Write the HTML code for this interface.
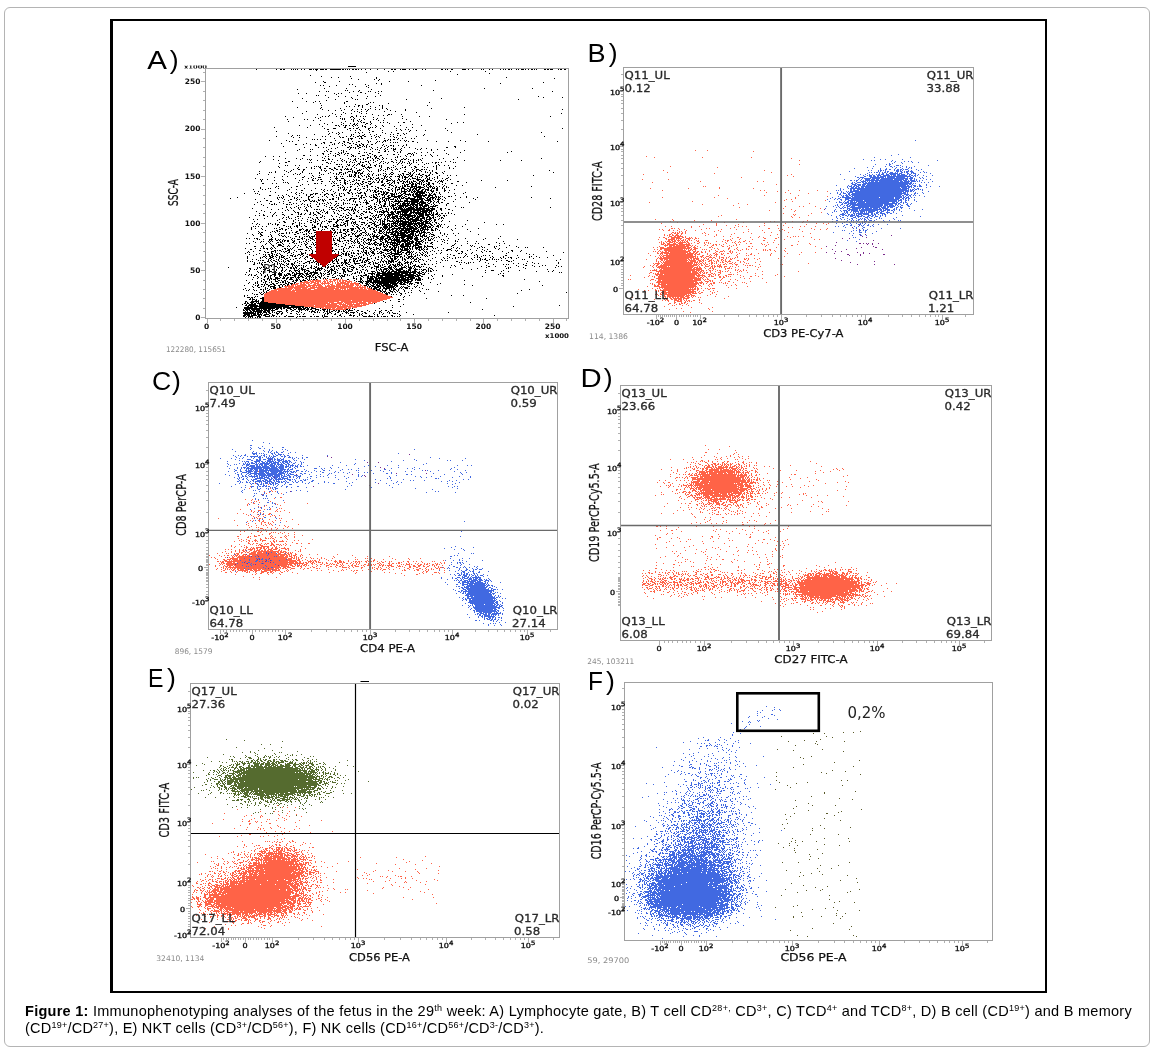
<!DOCTYPE html>
<html><head><meta charset="utf-8"><title>Figure 1</title><style>
html,body{margin:0;padding:0;background:#fff;width:1152px;height:1051px;overflow:hidden}
.ob{position:absolute;left:4px;top:7px;width:1144px;height:1038px;border:1px solid #b4b4b4;border-radius:6px}
svg{position:absolute;left:0;top:0}
.cap{position:absolute;left:25px;white-space:nowrap;font-family:'Liberation Sans',Arial,sans-serif;font-size:14.5px;line-height:17px;color:#000}
.cap sup{font-size:9px;vertical-align:0;position:relative;top:-5px;line-height:0}
</style></head><body>
<div class="ob"></div>
<svg width="1152" height="1051" viewBox="0 0 1152 1051" shape-rendering="crispEdges">
<rect x="110" y="19" width="937" height="974" fill="#000"/><rect x="113" y="21" width="932" height="970" fill="#fff"/>
<path d="M256 69.5h1m19 0h1m3 0h2m1 0h2m6 0h1m1 0h1m1 0h1m1 0h1m3 0h1m2 0h1m4 0h3m1 0h1m1 0h3m2 0h4m1 0h2m3 0h11m1 0h2m1 0h1m1 0h1m1 0h1m2 0h2m1 0h2m1 0h1m2 0h1m3 0h1m4 0h1m6 0h1m6 0h1m6 0h2m1 0h2m4 0h1m1 0h4m3 0h1m3 0h1m1 0h2m5 0h1m2 0h1m15 0h2m2 0h1m1 0h1m3 0h2m9 0h4m2 0h1m3 0h1m8 0h1m1 0h1m5 0h1m2 0h1m7 0h1m2 0h1m1 0h1m2 0h2m1 0h1m4 0h1m1 0h1m2 0h3m1 0h1m2 0h1m2 0h2m1 0h1m1 0h1m7 0h2m1 0h2m1 0h3m5 0h1m1 0h2m2 0h2M316 70.5h1M388 71.5h1m4 0h1m56 0h1m34 0h1M366 72.5h1M489 73.5h1M457 74.5h1M310 75.5h1M321 76.5h1m28 0h1M331 77.5h1m6 0h1m37 0h1m129 0h1M351 78.5h1m24 0h1m177 0h1M358 79.5h1m15 0h1m4 0h1M378 80.5h1m56 0h1M323 81.5h1m15 0h1m49 0h1m18 0h1M315 82.5h1m8 0h2m217 0h1M376 83.5h1m4 0h1m118 0h1M349 84.5h1m2 0h1m12 0h1m15 0h1M320 85.5h1m2 0h1m12 0h1m31 0h1m52 0h1M329 86.5h1m25 0h1m10 0h1M368 87.5h1M324 88.5h1m21 0h1m137 0h1m47 0h1M297 89.5h1m73 0h1M345 90.5h1m1 0h1m11 0h1m73 0h1M319 91.5h1m6 0h1m1 0h1m24 0h1m4 0h1m9 0h1m1 0h1m7 0h1m2 0h1m170 0h1M349 92.5h1m10 0h2m13 0h1M298 93.5h1m7 0h1m27 0h1m3 0h1m2 0h1m23 0h1m12 0h1M336 94.5h1M316 95.5h1m1 0h1m6 0h1m31 0h1m22 0h1M338 96.5h1m6 0h1m21 0h1m7 0h1m162 0h1M328 97.5h1m22 0h1m191 0h1m18 0h1M302 98.5h1m49 0h1m13 0h1m74 0h1M335 99.5h1m19 0h1m1 0h1m48 0h1m111 0h1M326 100.5h1M292 101.5h1m13 0h1m8 0h1m3 0h1m26 0h2M313 102.5h1m30 0h1m25 0h1m2 0h1m55 0h1M320 103.5h1m23 0h1m23 0h1m19 0h1M355 104.5h1m10 0h2M321 105.5h1m36 0h2m2 0h1m16 0h1m2 0h1m44 0h1M346 106.5h1m2 0h1m4 0h1m3 0h1m3 0h1m7 0h1m11 0h1M297 107.5h1m23 0h1m40 0h1m12 0h1m6 0h1m81 0h1M320 108.5h1m19 0h1m29 0h1m11 0h1m3 0h1m44 0h1M322 109.5h1m21 0h1m7 0h1m4 0h1m3 0h1m3 0h1m2 0h1m6 0h1m3 0h1m7 0h1m17 0h1m156 0h1M328 110.5h1m6 0h1m5 0h1m9 0h1m15 0h1m22 0h1m14 0h1M306 111.5h1m47 0h1m2 0h1m3 0h1m4 0h1m17 0h1m10 0h1M343 112.5h1m15 0h1m56 0h1M302 113.5h1m29 0h1m12 0h1m5 0h1m9 0h1m4 0h1m194 0h1M317 114.5h1m17 0h1m5 0h1m30 0h1m15 0h2m1 0h1m9 0h1m62 0h1M329 115.5h1m26 0h1m21 0h1m4 0h1m3 0h1M285 116.5h1m36 0h1m2 0h1m2 0h1m7 0h1m3 0h1m10 0h2m3 0h1m3 0h1m2 0h1m1 0h1m36 0h1m16 0h1m9 0h1m120 0h1M293 117.5h1m21 0h1m4 0h1m29 0h1m2 0h1m19 0h1M318 118.5h1m21 0h1m1 0h1m1 0h1m9 0h1m8 0h1m13 0h1m6 0h1m17 0h1M287 119.5h1m16 0h1m2 0h1m34 0h1m1 0h1m6 0h1m1 0h1m5 0h1m4 0h1m8 0h1m2 0h1m29 0h1m39 0h1M313 120.5h1m6 0h1m32 0h1m3 0h1m3 0h1m16 0h1m4 0h1M288 121.5h1m56 0h1m7 0h1m4 0h1m1 0h1m9 0h1m39 0h1M332 122.5h1m8 0h1m19 0h1m1 0h2m5 0h1m9 0h1m2 0h1m3 0h1m10 0h1m4 0h2m52 0h1m5 0h1M324 123.5h1m18 0h1m6 0h1m3 0h1m2 0h1m8 0h2m3 0h1m17 0h1m61 0h1M319 124.5h1m7 0h1m13 0h1m11 0h2m1 0h1m8 0h1m4 0h1m41 0h1M299 125.5h1m10 0h1m24 0h2m1 0h1m4 0h1m1 0h2m2 0h1m2 0h1m2 0h1m1 0h1m4 0h1m12 0h1m6 0h1m17 0h1m20 0h1M322 126.5h1m16 0h1m5 0h1m7 0h1m8 0h1m1 0h2m10 0h1m6 0h1m10 0h1M274 127.5h1m32 0h1m36 0h2m12 0h1m6 0h1m4 0h1m1 0h1m2 0h1m30 0h1m5 0h1M324 128.5h1m8 0h3m13 0h2m2 0h1m2 0h2m10 0h2m10 0h1m15 0h1m48 0h1m116 0h1M327 129.5h2m18 0h1m11 0h1m8 0h1m31 0h1m4 0h1m2 0h1M350 130.5h1m4 0h1m4 0h1m8 0h1m12 0h1m13 0h1m4 0h1m8 0h1m5 0h1m8 0h1m21 0h1M276 131.5h1m51 0h1m43 0h2m35 0h1M332 132.5h1m5 0h1m3 0h1m12 0h1m2 0h1m3 0h1m6 0h1m12 0h1m8 0h1m59 0h1m89 0h1M288 133.5h1m40 0h1m6 0h1m2 0h1m19 0h1m25 0h1m11 0h2m4 0h1m2 0h1M314 134.5h1m13 0h1m9 0h1m12 0h1m1 0h1m10 0h1m5 0h1m5 0h1m13 0h1m2 0h1m10 0h1m19 0h1m52 0h1M292 135.5h1m4 0h1m1 0h1m51 0h1m7 0h1m2 0h2m10 0h1m5 0h1m16 0h1m2 0h1m22 0h1M276 136.5h1m14 0h1m30 0h1m2 0h1m4 0h1m8 0h1m6 0h1m3 0h1m2 0h1m3 0h2m1 0h2m2 0h2m5 0h1m4 0h1m1 0h1m11 0h1m2 0h1m22 0h1m127 0h1M293 137.5h1m5 0h1m6 0h1m33 0h1m1 0h2m11 0h1m5 0h1m13 0h1m3 0h1m14 0h1m1 0h1m8 0h1M334 138.5h1m13 0h1m1 0h3m6 0h1m1 0h2m8 0h1m12 0h1m13 0h1m3 0h1m8 0h1m2 0h1M312 139.5h1m1 0h1m2 0h1m2 0h1m4 0h1m22 0h1m2 0h1m24 0h1m11 0h1m1 0h1m2 0h2m2 0h1M269 140.5h1m16 0h1m11 0h1m36 0h1m12 0h1m18 0h1m16 0h2m1 0h1m2 0h1m9 0h1m3 0h1m1 0h1m20 0h1m32 0h1M289 141.5h1m2 0h1m50 0h2m7 0h1m5 0h2m8 0h1m1 0h1m6 0h1m1 0h1m3 0h1m1 0h1m19 0h1m2 0h1m3 0h2m22 0h1m11 0h1m16 0h1m22 0h1m68 0h1M323 142.5h2m5 0h2m7 0h1m4 0h1m2 0h2m7 0h1m11 0h1m7 0h1m5 0h1m7 0h1m2 0h1m1 0h1m1 0h1m19 0h1M281 143.5h1m24 0h1m14 0h1m2 0h1m9 0h1m3 0h1m3 0h1m6 0h2m2 0h1m7 0h1m13 0h1M295 144.5h2m6 0h1m6 0h1m4 0h1m16 0h1m1 0h1m9 0h1m10 0h2m2 0h1m2 0h2m3 0h1m3 0h2m10 0h1m22 0h1M315 145.5h2m12 0h1m12 0h1m2 0h1m5 0h1m5 0h1m1 0h2m2 0h1m2 0h1m15 0h1m3 0h1m3 0h2m1 0h1m4 0h1m4 0h1m2 0h1M283 146.5h1m65 0h1m7 0h2m3 0h1m1 0h1m1 0h1m2 0h1m14 0h1m3 0h1m4 0h1m8 0h1m51 0h2M304 147.5h1m13 0h1m4 0h1m2 0h1m10 0h1m9 0h2m1 0h2m1 0h1m1 0h1m3 0h2m5 0h1m4 0h1m5 0h1m3 0h1m5 0h1m16 0h1m4 0h1m36 0h2m7 0h1M331 148.5h1m3 0h1m14 0h1m4 0h1m2 0h1m13 0h1m7 0h1m4 0h1m5 0h1m1 0h1m1 0h1m5 0h1m13 0h1m5 0h1m4 0h1M299 149.5h1m10 0h1m1 0h1m15 0h1m20 0h1m14 0h1m5 0h1m4 0h1m1 0h1m6 0h1m2 0h1m5 0h3m4 0h1m16 0h1m2 0h1m10 0h1m5 0h1M297 150.5h1m28 0h1m14 0h1m1 0h1m35 0h1m5 0h1m7 0h1m7 0h1m29 0h1m12 0h1m19 0h1M310 151.5h1m13 0h1m2 0h1m2 0h2m11 0h1m2 0h1m12 0h1m12 0h1m11 0h2m2 0h1m5 0h1m5 0h1m110 0h1M285 152.5h1m52 0h1m2 0h1m1 0h1m20 0h1m1 0h1m11 0h2m17 0h1m2 0h1m13 0h1m6 0h1m5 0h1m5 0h1m26 0h1m46 0h1M322 153.5h2m6 0h1m4 0h1m3 0h1m1 0h1m3 0h1m1 0h2m9 0h2m9 0h2m37 0h3m1 0h1m3 0h1m29 0h1M323 154.5h1m4 0h1m8 0h2m5 0h1m6 0h1m15 0h1m4 0h1m14 0h1m5 0h2m3 0h1m8 0h1m3 0h1m1 0h1m16 0h1m17 0h1M303 155.5h2m5 0h1m6 0h1m15 0h1m1 0h1m3 0h1m7 0h1m4 0h2m8 0h3m3 0h1m5 0h2m4 0h2m23 0h1m7 0h1m7 0h1m3 0h1m5 0h1m5 0h1M265 156.5h1m7 0h1m5 0h1m45 0h1m2 0h1m6 0h1m15 0h1m1 0h1m1 0h1m4 0h1m9 0h1m3 0h1m1 0h1m2 0h1m17 0h1m2 0h1m5 0h1m3 0h1m21 0h1M322 157.5h1m44 0h2m1 0h1m4 0h2m5 0h1m12 0h1m1 0h1m59 0h1M285 158.5h1m10 0h1m5 0h1m21 0h1m3 0h1m11 0h1m7 0h1m6 0h1m2 0h1m4 0h1m3 0h1m4 0h1m2 0h1m1 0h2m4 0h1m2 0h1m16 0h1m2 0h1m15 0h1m20 0h1m97 0h1M273 159.5h1m26 0h1m6 0h1m1 0h1m1 0h1m16 0h2m2 0h1m9 0h1m7 0h1m3 0h2m4 0h1m2 0h1m1 0h1m7 0h1m5 0h1m2 0h1m8 0h1m3 0h1m5 0h2m1 0h2m2 0h1m4 0h1m4 0h1m1 0h1m18 0h1m13 0h1M278 160.5h1m31 0h1m6 0h1m4 0h2m1 0h1m11 0h1m3 0h1m2 0h1m8 0h1m1 0h1m14 0h1m2 0h1m3 0h1m18 0h1m3 0h1m9 0h1m2 0h1m2 0h1m1 0h1m2 0h1m42 0h1m35 0h1m20 0h1M260 161.5h1m27 0h2m41 0h1m10 0h1m3 0h1m3 0h1m5 0h1m3 0h1m4 0h2m1 0h1m6 0h1m5 0h1m1 0h1m7 0h2m7 0h1m1 0h1m5 0h1m4 0h1m31 0h1m4 0h1M259 162.5h1m25 0h2m22 0h1m1 0h1m14 0h2m6 0h1m11 0h1m2 0h1m2 0h1m1 0h1m5 0h1m1 0h2m4 0h1m4 0h1m6 0h1m4 0h1m2 0h1m4 0h1m2 0h1m2 0h1m2 0h1m1 0h1m4 0h1m3 0h1m2 0h1m5 0h1m9 0h1m2 0h2m1 0h1m2 0h1m11 0h1m1 0h1M279 163.5h1m48 0h1m1 0h1m27 0h2m9 0h1m9 0h1m3 0h1m3 0h1m10 0h1m2 0h1m5 0h1m1 0h1m1 0h1m14 0h1m1 0h1m6 0h1M322 164.5h1m13 0h2m1 0h1m1 0h1m5 0h1m1 0h1m4 0h1m2 0h1m1 0h1m2 0h1m3 0h1m3 0h1m5 0h1m20 0h1m12 0h1m7 0h1m5 0h1m13 0h1M285 165.5h1m1 0h1m7 0h1m3 0h1m48 0h2m3 0h1m2 0h1m4 0h2m1 0h1m5 0h1m3 0h2m3 0h1m1 0h1m11 0h1m8 0h1m6 0h1m26 0h1m2 0h1m4 0h1m3 0h1M278 166.5h1m35 0h1m1 0h1m1 0h1m1 0h1m5 0h2m10 0h2m2 0h1m3 0h1m5 0h1m9 0h3m3 0h1m6 0h1m3 0h1m1 0h1m13 0h1m9 0h1m8 0h2m6 0h1m10 0h1m2 0h1m18 0h1M279 167.5h1m18 0h1m7 0h1m4 0h1m7 0h2m13 0h1m7 0h1m11 0h1m10 0h1m1 0h5m9 0h1m5 0h2m2 0h1m1 0h1m8 0h1m1 0h2m5 0h1m3 0h2m7 0h1m2 0h1m8 0h1m12 0h1M297 168.5h1m13 0h1m2 0h1m5 0h1m3 0h2m3 0h2m3 0h2m9 0h1m1 0h1m3 0h1m4 0h1m6 0h1m2 0h1m2 0h1m10 0h1m6 0h1m1 0h1m6 0h1m3 0h1m13 0h1m21 0h1m12 0h1m3 0h1M293 169.5h1m4 0h2m3 0h2m16 0h1m9 0h2m3 0h2m2 0h2m2 0h1m1 0h3m1 0h2m7 0h1m1 0h1m5 0h1m10 0h1m2 0h1m3 0h1m1 0h1m3 0h1m3 0h1m1 0h1m7 0h1m6 0h1m3 0h3m2 0h2m1 0h1m1 0h1m9 0h1M284 170.5h1m6 0h1m11 0h1m17 0h1m2 0h1m1 0h1m6 0h1m7 0h1m10 0h1m4 0h4m7 0h1m9 0h1m1 0h1m2 0h1m8 0h1m20 0h1m2 0h1m2 0h2m8 0h1m2 0h1m116 0h1M259 171.5h1m15 0h1m10 0h1m3 0h1m11 0h1m22 0h1m22 0h3m1 0h1m1 0h1m2 0h1m5 0h1m5 0h1m1 0h1m6 0h1m6 0h1m13 0h1m4 0h2m6 0h1m3 0h1m4 0h1m3 0h1m6 0h1m11 0h1M269 172.5h1m1 0h1m3 0h1m12 0h1m13 0h1m16 0h1m10 0h1m8 0h3m3 0h1m1 0h1m4 0h1m1 0h3m1 0h2m2 0h1m28 0h2m15 0h1m1 0h1m3 0h1m10 0h1m1 0h1m2 0h1m4 0h2m5 0h1m110 0h1M259 173.5h1m35 0h1m4 0h1m8 0h1m1 0h1m7 0h1m8 0h1m4 0h1m2 0h1m2 0h1m3 0h1m1 0h1m9 0h2m1 0h1m1 0h3m5 0h1m4 0h1m9 0h1m1 0h1m4 0h1m2 0h1m8 0h2m5 0h2m2 0h1m5 0h1m10 0h1m5 0h2m5 0h1M257 174.5h1m10 0h1m15 0h1m8 0h1m3 0h1m1 0h1m21 0h1m1 0h1m12 0h1m1 0h1m2 0h1m1 0h1m5 0h1m1 0h1m2 0h2m4 0h1m6 0h1m1 0h1m2 0h1m5 0h1m1 0h1m5 0h1m2 0h1m1 0h2m5 0h1m1 0h1m2 0h1m2 0h3m1 0h1m1 0h1m3 0h1m1 0h2m2 0h2m5 0h1m2 0h1M312 175.5h1m6 0h1m29 0h1m1 0h1m2 0h2m2 0h1m2 0h1m2 0h1m3 0h1m3 0h1m3 0h1m1 0h1m4 0h1m1 0h1m13 0h1m1 0h1m1 0h1m5 0h1m1 0h2m7 0h2m3 0h2m1 0h2m9 0h1m7 0h1m2 0h1m5 0h1m76 0h1M282 176.5h1m4 0h1m16 0h1m8 0h1m20 0h1m1 0h1m3 0h1m1 0h1m4 0h1m1 0h3m1 0h1m1 0h1m2 0h1m3 0h1m3 0h1m1 0h2m14 0h2m1 0h1m2 0h2m3 0h1m1 0h3m2 0h1m1 0h2m2 0h1m1 0h2m3 0h1m1 0h1m4 0h1m3 0h2m9 0h1M274 177.5h1m27 0h2m7 0h1m6 0h3m9 0h1m5 0h1m17 0h1m3 0h2m6 0h1m3 0h1m2 0h1m4 0h1m5 0h1m1 0h1m2 0h1m9 0h1m2 0h1m1 0h4m4 0h1m4 0h1m1 0h1m1 0h1m4 0h1m2 0h1m4 0h1m2 0h1m10 0h1M255 178.5h1m39 0h1m12 0h1m4 0h1m1 0h1m19 0h3m3 0h3m16 0h1m7 0h1m1 0h2m4 0h3m2 0h2m1 0h1m5 0h1m7 0h1m3 0h1m2 0h1m3 0h1m2 0h4m1 0h1m7 0h1m1 0h1m1 0h1m2 0h1m4 0h1m4 0h1m3 0h2M260 179.5h1m1 0h1m4 0h1m14 0h1m19 0h1m9 0h1m5 0h1m1 0h2m8 0h1m5 0h1m7 0h1m8 0h1m2 0h1m6 0h2m2 0h1m2 0h1m1 0h1m2 0h1m3 0h1m3 0h1m2 0h2m3 0h1m6 0h2m4 0h2m2 0h1m1 0h1m5 0h5m2 0h1m3 0h3m4 0h1m10 0h1m4 0h1M261 180.5h1m12 0h1m8 0h1m15 0h1m12 0h2m3 0h1m19 0h1m1 0h2m3 0h2m3 0h1m4 0h1m1 0h1m1 0h2m16 0h1m2 0h1m2 0h1m4 0h4m1 0h1m1 0h1m2 0h1m1 0h1m2 0h1m4 0h1m5 0h1m3 0h2m2 0h3m2 0h2m2 0h2m7 0h1m1 0h1m1 0h1m3 0h1m33 0h1m25 0h1M261 181.5h1m45 0h1m13 0h2m6 0h1m2 0h1m1 0h1m9 0h1m2 0h1m4 0h2m8 0h2m4 0h3m2 0h1m4 0h1m2 0h2m3 0h2m5 0h2m5 0h2m1 0h2m1 0h2m1 0h1m1 0h1m1 0h3m3 0h2m1 0h1m1 0h1m1 0h2m7 0h1m2 0h1m1 0h3m14 0h2M283 182.5h1m1 0h1m1 0h1m10 0h1m34 0h1m6 0h1m3 0h2m4 0h1m5 0h1m5 0h1m2 0h2m5 0h1m1 0h1m2 0h2m2 0h2m6 0h1m2 0h1m1 0h1m2 0h2m4 0h1m1 0h1m1 0h1m1 0h1m1 0h2m3 0h1m2 0h1m1 0h1m1 0h1m4 0h2m7 0h1m4 0h1m23 0h1M262 183.5h2m8 0h1m3 0h1m11 0h1m25 0h2m1 0h1m3 0h1m9 0h1m2 0h1m1 0h1m7 0h2m1 0h1m7 0h1m1 0h2m1 0h1m2 0h1m4 0h1m1 0h2m12 0h1m2 0h2m2 0h1m2 0h1m3 0h1m3 0h2m5 0h2m1 0h2m1 0h1m1 0h3m1 0h1m4 0h1m1 0h2m2 0h2m5 0h1m5 0h1m5 0h2M302 184.5h1m5 0h1m31 0h1m4 0h1m4 0h1m1 0h1m1 0h1m3 0h1m2 0h2m6 0h2m11 0h2m5 0h2m13 0h1m1 0h3m2 0h3m1 0h2m2 0h1m1 0h1m1 0h2m2 0h3m3 0h1m8 0h1M300 185.5h1m24 0h1m7 0h2m2 0h2m3 0h1m16 0h1m6 0h2m13 0h3m1 0h1m3 0h1m1 0h2m2 0h1m6 0h1m1 0h2m1 0h1m3 0h2m2 0h2m6 0h1m2 0h1m1 0h1m1 0h1m13 0h1m11 0h1m5 0h1M276 186.5h1m1 0h1m17 0h2m34 0h1m10 0h1m6 0h2m5 0h1m4 0h1m1 0h1m2 0h1m3 0h2m2 0h1m8 0h1m8 0h1m2 0h1m3 0h1m1 0h1m1 0h2m1 0h3m1 0h6m1 0h3m3 0h1m1 0h1m2 0h3m1 0h1m2 0h1m2 0h1m3 0h1m2 0h1m84 0h1M260 187.5h1m14 0h1m15 0h1m46 0h1m1 0h1m1 0h1m1 0h1m2 0h1m2 0h1m16 0h1m9 0h2m9 0h2m5 0h2m1 0h2m2 0h2m6 0h3m1 0h1m1 0h8m3 0h2m1 0h1m1 0h1m1 0h1m2 0h1m4 0h1m3 0h1m1 0h1m46 0h1M260 188.5h1m7 0h1m1 0h1m7 0h1m25 0h1m10 0h1m24 0h1m3 0h1m10 0h1m2 0h1m4 0h2m10 0h1m2 0h1m1 0h2m3 0h1m6 0h1m2 0h1m3 0h1m1 0h4m2 0h2m1 0h1m2 0h4m2 0h2m3 0h1m3 0h1m3 0h3m1 0h2m4 0h1m1 0h1M253 189.5h1m8 0h1m2 0h1m23 0h1m6 0h1m24 0h1m2 0h1m6 0h1m6 0h1m4 0h2m1 0h1m3 0h1m3 0h2m4 0h1m6 0h1m1 0h1m6 0h1m5 0h1m4 0h2m2 0h1m3 0h1m1 0h3m1 0h1m2 0h3m2 0h2m1 0h2m1 0h2m1 0h2m2 0h2m1 0h4m2 0h1m4 0h2m6 0h1m9 0h1M287 190.5h1m13 0h2m8 0h1m11 0h1m3 0h1m2 0h1m7 0h1m4 0h1m1 0h1m3 0h2m6 0h1m1 0h1m7 0h1m2 0h1m1 0h1m1 0h2m2 0h1m9 0h2m2 0h1m2 0h1m1 0h1m3 0h1m2 0h1m2 0h1m1 0h2m1 0h1m1 0h1m1 0h3m2 0h2m2 0h1m1 0h2m1 0h2m1 0h1m2 0h2m6 0h2m3 0h1M254 191.5h1m3 0h1m11 0h1m53 0h1m8 0h1m15 0h1m16 0h1m3 0h1m3 0h2m1 0h2m1 0h2m1 0h1m1 0h1m6 0h1m2 0h1m5 0h6m1 0h2m1 0h1m1 0h3m1 0h6m1 0h2m5 0h3m10 0h1M275 192.5h1m15 0h1m4 0h1m4 0h1m20 0h1m12 0h1m11 0h2m2 0h1m5 0h1m2 0h2m2 0h1m8 0h1m1 0h2m4 0h1m1 0h2m1 0h3m6 0h1m3 0h1m1 0h1m2 0h2m5 0h2m1 0h1m1 0h9m1 0h1m1 0h1m3 0h1m3 0h1m2 0h1m8 0h1m16 0h1M244 193.5h1m10 0h1m1 0h1m37 0h1m3 0h1m3 0h1m9 0h1m1 0h3m8 0h2m6 0h1m4 0h1m1 0h1m1 0h1m4 0h2m2 0h1m2 0h1m2 0h3m3 0h2m12 0h2m3 0h2m1 0h2m2 0h3m1 0h1m1 0h1m1 0h1m1 0h1m2 0h3m3 0h1m3 0h1m1 0h3m1 0h6m4 0h1m1 0h1m2 0h1m4 0h1m14 0h1m8 0h1M259 194.5h1m26 0h1m9 0h1m9 0h1m3 0h3m2 0h1m4 0h1m3 0h2m2 0h1m2 0h2m6 0h1m4 0h1m7 0h1m12 0h1m7 0h1m1 0h2m1 0h1m2 0h3m1 0h2m4 0h4m1 0h1m4 0h2m2 0h6m1 0h2m1 0h6m1 0h1m2 0h2m2 0h2m2 0h3m4 0h1M269 195.5h2m7 0h1m3 0h1m5 0h1m10 0h1m6 0h1m3 0h1m13 0h1m7 0h1m3 0h1m2 0h1m4 0h1m11 0h1m1 0h1m2 0h2m2 0h1m5 0h1m1 0h1m2 0h1m5 0h1m1 0h1m3 0h2m1 0h2m1 0h1m3 0h4m2 0h1m3 0h1m1 0h1m1 0h2m2 0h11m1 0h5m2 0h1m19 0h1M283 196.5h1m5 0h1m2 0h1m15 0h2m3 0h1m8 0h1m3 0h1m6 0h1m6 0h2m10 0h1m5 0h1m2 0h1m4 0h1m2 0h1m3 0h2m2 0h1m1 0h1m4 0h1m2 0h2m2 0h10m1 0h1m2 0h2m6 0h9m1 0h2m3 0h2m2 0h1m2 0h2m1 0h1m1 0h1m1 0h1m5 0h2m1 0h1m14 0h1M237 197.5h1m39 0h1m1 0h1m1 0h1m1 0h1m10 0h1m2 0h1m3 0h1m6 0h1m2 0h2m5 0h1m8 0h1m8 0h1m1 0h1m21 0h2m1 0h2m5 0h2m1 0h4m5 0h3m3 0h3m3 0h3m1 0h2m1 0h1m1 0h2m3 0h2m4 0h2m1 0h5m3 0h1m1 0h2m1 0h5m1 0h1m1 0h2m4 0h1m15 0h1m5 0h1m10 0h1m53 0h1M230 198.5h1m33 0h1m12 0h1m4 0h1m11 0h1m1 0h1m11 0h1m23 0h2m4 0h1m7 0h1m3 0h7m2 0h1m1 0h1m13 0h3m2 0h1m1 0h1m2 0h5m3 0h1m3 0h1m1 0h1m1 0h3m1 0h10m2 0h1m1 0h5m2 0h2m1 0h2m1 0h2m1 0h1m2 0h1m1 0h1m4 0h1m27 0h1m76 0h1M255 199.5h1m22 0h1m5 0h1m5 0h2m5 0h1m1 0h1m8 0h2m8 0h1m1 0h1m1 0h1m1 0h1m4 0h2m1 0h2m4 0h1m4 0h1m5 0h2m3 0h1m4 0h1m5 0h1m7 0h1m3 0h1m1 0h1m2 0h1m1 0h1m1 0h1m1 0h1m1 0h4m1 0h1m1 0h1m2 0h1m5 0h2m2 0h13m1 0h1m2 0h4m1 0h1m2 0h1m1 0h3m2 0h1m12 0h1m19 0h1M266 200.5h2m20 0h1m7 0h1m6 0h1m1 0h2m2 0h1m2 0h1m1 0h1m3 0h2m2 0h2m1 0h1m15 0h1m2 0h1m2 0h1m1 0h1m3 0h1m10 0h1m1 0h1m4 0h2m4 0h1m1 0h1m3 0h2m1 0h1m1 0h1m6 0h2m1 0h1m1 0h1m3 0h4m3 0h8m2 0h2m2 0h6m2 0h1m4 0h1m5 0h1M260 201.5h1m9 0h2m11 0h1m16 0h1m3 0h1m5 0h2m1 0h2m1 0h1m6 0h1m11 0h2m16 0h1m1 0h1m3 0h1m6 0h1m2 0h1m7 0h1m1 0h2m1 0h1m1 0h2m3 0h1m1 0h2m1 0h9m1 0h15m1 0h4m4 0h1m1 0h2m2 0h1m2 0h2m14 0h1M257 202.5h1m21 0h1m9 0h2m26 0h1m9 0h1m2 0h1m12 0h1m11 0h1m4 0h1m2 0h1m1 0h3m8 0h1m2 0h2m4 0h1m3 0h1m3 0h1m4 0h2m3 0h2m2 0h1m1 0h1m1 0h7m1 0h7m1 0h1m2 0h1m2 0h1m2 0h1m1 0h1m2 0h2m26 0h1M269 203.5h1m4 0h1m8 0h1m9 0h1m2 0h1m5 0h1m7 0h1m8 0h1m2 0h1m1 0h1m3 0h1m2 0h1m4 0h1m1 0h1m4 0h1m1 0h1m1 0h1m1 0h1m16 0h3m5 0h1m4 0h1m4 0h2m3 0h1m1 0h1m3 0h4m1 0h1m1 0h8m1 0h4m2 0h3m1 0h5m2 0h2m3 0h1m5 0h1m7 0h2M254 204.5h1m6 0h1m9 0h2m1 0h1m1 0h1m9 0h2m1 0h1m1 0h1m9 0h1m2 0h1m2 0h1m8 0h1m2 0h1m6 0h1m8 0h1m7 0h1m8 0h1m1 0h1m1 0h2m2 0h1m5 0h1m7 0h1m1 0h1m3 0h1m3 0h2m3 0h1m2 0h2m1 0h1m1 0h1m2 0h1m1 0h4m1 0h2m1 0h8m1 0h4m2 0h3m3 0h1m2 0h1m11 0h1M263 205.5h1m34 0h1m8 0h1m2 0h1m13 0h1m5 0h1m3 0h1m2 0h2m2 0h1m14 0h2m12 0h1m7 0h1m2 0h1m1 0h2m4 0h1m1 0h5m2 0h13m1 0h2m1 0h3m1 0h4m1 0h5m4 0h1m1 0h3m8 0h1M286 206.5h1m9 0h1m7 0h1m3 0h1m1 0h1m6 0h2m7 0h1m9 0h1m18 0h1m6 0h1m5 0h2m1 0h1m2 0h2m5 0h1m1 0h3m1 0h1m2 0h1m1 0h2m3 0h1m1 0h5m1 0h3m2 0h2m1 0h2m1 0h2m2 0h1m1 0h5m1 0h1m1 0h6m19 0h1M267 207.5h1m18 0h1m3 0h1m3 0h1m3 0h1m1 0h1m5 0h1m4 0h1m17 0h1m1 0h2m2 0h1m3 0h3m2 0h1m2 0h1m1 0h2m1 0h1m2 0h1m3 0h1m6 0h1m3 0h2m3 0h1m3 0h3m9 0h1m1 0h1m1 0h2m1 0h4m1 0h1m1 0h1m2 0h6m1 0h3m1 0h3m1 0h2m3 0h2m2 0h1m4 0h1m23 0h1m1 0h1m86 0h1M252 208.5h1m29 0h1m8 0h1m6 0h1m6 0h1m25 0h1m5 0h1m3 0h3m8 0h1m1 0h1m13 0h2m2 0h1m1 0h1m3 0h1m3 0h1m2 0h2m1 0h1m2 0h1m1 0h2m1 0h1m1 0h5m1 0h1m1 0h9m1 0h13m1 0h5m5 0h2m3 0h1M271 209.5h1m6 0h1m8 0h1m11 0h1m6 0h1m7 0h1m1 0h2m1 0h1m3 0h1m5 0h1m2 0h3m8 0h1m2 0h3m2 0h2m1 0h2m5 0h1m4 0h1m1 0h2m1 0h1m3 0h2m3 0h1m5 0h1m1 0h1m4 0h6m1 0h25m1 0h4m1 0h4m5 0h2m6 0h2M261 210.5h1m23 0h1m2 0h1m4 0h1m10 0h1m1 0h2m13 0h1m1 0h1m12 0h1m1 0h1m2 0h1m2 0h2m3 0h1m1 0h1m1 0h1m1 0h1m2 0h1m15 0h1m7 0h2m2 0h1m1 0h1m6 0h1m5 0h11m1 0h8m1 0h11m3 0h1m4 0h1m10 0h1M256 211.5h1m7 0h1m29 0h1m12 0h1m8 0h1m3 0h1m3 0h1m2 0h1m5 0h1m5 0h1m13 0h1m3 0h1m5 0h2m1 0h1m2 0h1m5 0h1m1 0h1m1 0h3m1 0h5m3 0h2m1 0h2m1 0h12m1 0h2m1 0h2m2 0h2m1 0h8m1 0h3m4 0h1M270 212.5h1m4 0h1m6 0h1m12 0h1m1 0h2m11 0h1m2 0h1m3 0h2m3 0h1m3 0h2m6 0h1m13 0h1m5 0h1m3 0h1m6 0h2m2 0h2m6 0h1m1 0h1m1 0h4m2 0h2m1 0h4m1 0h1m1 0h4m1 0h6m2 0h11m1 0h5m1 0h2m1 0h1m1 0h1m3 0h1m10 0h1M259 213.5h1m14 0h1m23 0h1m2 0h1m3 0h1m4 0h1m2 0h1m4 0h2m5 0h1m1 0h1m6 0h1m2 0h1m5 0h1m5 0h1m3 0h2m6 0h2m8 0h2m10 0h1m4 0h1m2 0h3m2 0h3m1 0h1m1 0h1m1 0h3m2 0h3m1 0h1m1 0h9m1 0h2m2 0h1m1 0h1m1 0h1m2 0h2m3 0h2m2 0h1m2 0h1m2 0h1M263 214.5h1m9 0h1m8 0h2m7 0h2m5 0h1m1 0h2m2 0h1m4 0h2m3 0h2m4 0h1m17 0h1m7 0h1m3 0h1m9 0h1m2 0h1m12 0h1m2 0h4m1 0h1m2 0h8m3 0h1m1 0h11m3 0h1m1 0h1m1 0h6m1 0h6m1 0h2m1 0h3m1 0h1m14 0h1M255 215.5h1m3 0h1m3 0h2m7 0h1m3 0h1m7 0h1m28 0h1m2 0h1m5 0h1m8 0h1m8 0h2m5 0h2m2 0h1m4 0h1m4 0h1m8 0h1m2 0h1m1 0h2m1 0h1m2 0h1m2 0h1m1 0h1m1 0h3m1 0h1m2 0h3m2 0h1m1 0h14m1 0h1m1 0h5m1 0h4m2 0h3m4 0h1m1 0h1m2 0h2m1 0h1M267 216.5h1m4 0h1m15 0h1m8 0h2m1 0h1m21 0h1m1 0h1m7 0h1m3 0h1m6 0h1m1 0h1m10 0h2m1 0h1m7 0h1m4 0h1m1 0h1m3 0h1m1 0h1m4 0h1m1 0h3m2 0h6m1 0h4m1 0h2m1 0h6m1 0h2m1 0h7m3 0h3m3 0h1m3 0h1m1 0h1m4 0h1M249 217.5h1m33 0h1m2 0h1m1 0h1m6 0h1m12 0h1m1 0h1m5 0h2m2 0h2m17 0h1m2 0h1m2 0h1m2 0h1m2 0h1m9 0h1m2 0h4m5 0h1m1 0h1m1 0h2m6 0h1m1 0h1m1 0h1m1 0h4m1 0h2m2 0h2m1 0h1m1 0h5m2 0h3m1 0h4m2 0h3m1 0h2m1 0h2m1 0h2m1 0h1m5 0h2M264 218.5h1m17 0h1m6 0h1m1 0h1m6 0h1m3 0h1m9 0h1m4 0h1m6 0h1m8 0h1m12 0h2m2 0h2m7 0h3m3 0h1m3 0h3m3 0h1m5 0h1m2 0h1m2 0h2m1 0h1m1 0h4m1 0h8m1 0h3m1 0h3m2 0h4m1 0h5m1 0h1m2 0h3m1 0h1m5 0h1m1 0h1m1 0h1M253 219.5h1m3 0h1m21 0h1m6 0h1m8 0h1m11 0h1m5 0h1m1 0h1m2 0h1m10 0h1m1 0h1m1 0h2m2 0h1m1 0h3m1 0h1m6 0h1m1 0h3m7 0h1m7 0h2m2 0h1m1 0h1m2 0h2m3 0h2m1 0h1m5 0h1m2 0h1m1 0h1m1 0h1m2 0h3m1 0h12m1 0h2m2 0h1m1 0h5m3 0h2m2 0h1M277 220.5h1m15 0h1m4 0h1m2 0h1m8 0h2m3 0h1m3 0h1m6 0h1m10 0h2m3 0h1m3 0h3m18 0h1m4 0h1m5 0h1m1 0h1m1 0h1m1 0h1m2 0h3m2 0h1m1 0h1m1 0h3m1 0h3m2 0h1m2 0h3m1 0h11m2 0h2m2 0h1m1 0h1m2 0h2m6 0h1m24 0h1M254 221.5h1m28 0h2m8 0h1m13 0h1m5 0h1m1 0h1m1 0h1m4 0h1m1 0h1m3 0h4m4 0h2m7 0h3m4 0h1m2 0h1m3 0h1m13 0h1m1 0h1m4 0h1m1 0h3m2 0h1m1 0h5m1 0h14m1 0h7m3 0h2m1 0h6m1 0h1m3 0h1m6 0h1m7 0h1M279 222.5h1m4 0h2m9 0h1m3 0h1m10 0h2m2 0h2m5 0h1m7 0h1m5 0h2m4 0h1m1 0h1m3 0h1m3 0h1m1 0h3m5 0h4m4 0h3m2 0h1m2 0h1m2 0h1m1 0h1m1 0h1m8 0h3m1 0h2m1 0h1m1 0h10m1 0h1m1 0h1m1 0h3m1 0h3m1 0h3m1 0h1m2 0h1m2 0h2m47 0h1M252 223.5h1m4 0h1m10 0h1m1 0h1m4 0h1m16 0h2m5 0h1m1 0h1m2 0h1m12 0h2m2 0h1m5 0h1m8 0h1m7 0h2m1 0h1m3 0h1m1 0h1m1 0h1m8 0h1m2 0h1m4 0h3m5 0h1m1 0h3m2 0h3m1 0h7m1 0h8m1 0h16m1 0h6m5 0h1m1 0h1M256 224.5h1m2 0h1m8 0h1m3 0h1m2 0h1m1 0h2m13 0h1m6 0h1m12 0h1m4 0h1m2 0h1m12 0h2m2 0h1m2 0h1m2 0h2m2 0h1m6 0h1m1 0h2m3 0h2m3 0h1m4 0h1m2 0h2m3 0h2m1 0h6m1 0h1m1 0h1m1 0h1m1 0h1m1 0h1m1 0h14m1 0h3m1 0h2m1 0h5m4 0h2m2 0h1m4 0h1m1 0h1m2 0h1m20 0h1m30 0h1m6 0h1M277 225.5h1m5 0h2m11 0h2m1 0h1m4 0h1m7 0h1m1 0h1m5 0h1m7 0h1m4 0h1m2 0h3m1 0h3m2 0h1m1 0h1m4 0h1m5 0h1m6 0h1m2 0h2m4 0h1m1 0h3m3 0h1m1 0h3m1 0h2m1 0h2m1 0h3m1 0h3m1 0h4m1 0h4m2 0h2m1 0h2m1 0h4m1 0h3m1 0h1m2 0h2m4 0h2m1 0h1m14 0h1M253 226.5h1m1 0h1m2 0h1m3 0h1m3 0h1m19 0h1m1 0h1m1 0h1m3 0h1m1 0h2m3 0h1m3 0h2m7 0h2m4 0h1m1 0h1m1 0h3m3 0h1m2 0h5m7 0h1m7 0h1m2 0h2m2 0h1m7 0h2m5 0h2m6 0h5m1 0h1m1 0h3m1 0h3m2 0h5m1 0h7m1 0h2m1 0h1m1 0h3m1 0h5m1 0h2m2 0h1m2 0h3m1 0h1m7 0h1m13 0h1M251 227.5h1m27 0h1m10 0h1m6 0h1m14 0h4m6 0h1m2 0h2m10 0h2m18 0h2m4 0h1m3 0h1m3 0h2m3 0h1m1 0h1m1 0h2m1 0h5m1 0h3m2 0h1m3 0h3m2 0h3m1 0h1m1 0h5m1 0h2m1 0h2m1 0h5m1 0h4m1 0h1m5 0h1m3 0h1m4 0h1M251 228.5h1m3 0h1m5 0h1m12 0h1m1 0h1m4 0h2m5 0h1m2 0h1m10 0h1m9 0h1m5 0h1m8 0h1m3 0h3m16 0h4m1 0h1m2 0h2m2 0h1m1 0h1m4 0h2m2 0h2m5 0h1m1 0h1m1 0h3m1 0h2m2 0h26m2 0h4m1 0h1m1 0h1m3 0h1m3 0h2m18 0h1m22 0h1M251 229.5h1m10 0h1m16 0h2m1 0h1m2 0h2m12 0h3m1 0h1m2 0h2m2 0h1m2 0h1m4 0h1m3 0h1m1 0h1m7 0h1m1 0h1m2 0h1m2 0h1m2 0h3m1 0h2m2 0h3m5 0h1m4 0h1m5 0h1m2 0h1m2 0h1m2 0h1m2 0h2m1 0h1m1 0h3m1 0h3m2 0h2m1 0h1m1 0h3m1 0h7m1 0h4m1 0h1m1 0h1m1 0h7m2 0h2m2 0h1m1 0h1m13 0h1m15 0h1M265 230.5h1m10 0h2m7 0h1m5 0h1m7 0h2m4 0h3m1 0h1m3 0h3m5 0h1m8 0h1m2 0h2m5 0h1m2 0h2m2 0h1m3 0h2m4 0h1m2 0h2m3 0h1m8 0h1m1 0h1m2 0h3m2 0h1m2 0h1m1 0h2m1 0h1m2 0h2m1 0h1m1 0h10m1 0h4m2 0h2m1 0h3m1 0h1m2 0h1m3 0h3m1 0h1m3 0h1m12 0h1M258 231.5h1m13 0h1m1 0h1m2 0h1m1 0h1m16 0h2m6 0h1m1 0h1m1 0h2m14 0h1m1 0h1m2 0h1m1 0h1m3 0h1m4 0h1m4 0h1m1 0h2m5 0h1m2 0h1m1 0h1m5 0h1m7 0h2m4 0h3m1 0h1m2 0h1m2 0h1m2 0h6m1 0h3m2 0h3m1 0h12m1 0h1m1 0h2m45 0h1M259 232.5h1m1 0h2m7 0h1m4 0h1m10 0h1m2 0h1m2 0h1m2 0h2m3 0h1m1 0h1m5 0h1m5 0h3m1 0h1m3 0h1m7 0h1m1 0h1m1 0h2m1 0h1m1 0h3m4 0h1m4 0h1m4 0h1m5 0h3m1 0h1m7 0h2m2 0h2m2 0h1m1 0h1m1 0h8m1 0h4m1 0h10m1 0h3m2 0h2m1 0h1m1 0h5m1 0h3m2 0h1m7 0h1M247 233.5h1m10 0h1m1 0h1m18 0h1m1 0h3m2 0h1m2 0h1m7 0h2m7 0h1m2 0h1m1 0h1m4 0h1m10 0h1m1 0h1m4 0h1m2 0h1m5 0h3m6 0h2m1 0h1m4 0h2m3 0h1m2 0h1m3 0h1m6 0h3m1 0h1m2 0h1m1 0h1m2 0h2m1 0h2m1 0h8m1 0h2m2 0h4m1 0h1m3 0h3m2 0h1m1 0h1m3 0h1m9 0h1m3 0h1m8 0h1m4 0h1M252 234.5h1m7 0h2m8 0h1m7 0h1m15 0h2m7 0h2m1 0h1m8 0h1m3 0h1m1 0h1m2 0h1m8 0h1m7 0h1m3 0h1m2 0h2m2 0h1m1 0h1m4 0h1m1 0h1m4 0h1m1 0h1m1 0h1m1 0h1m1 0h1m2 0h1m6 0h3m3 0h6m1 0h2m1 0h6m2 0h6m1 0h1m2 0h1m1 0h1m2 0h2m4 0h1m1 0h3m10 0h1m2 0h1m30 0h1M253 235.5h1m7 0h2m8 0h1m7 0h1m1 0h1m2 0h1m23 0h1m5 0h1m5 0h1m5 0h1m9 0h1m4 0h1m4 0h1m1 0h1m6 0h1m1 0h4m2 0h1m1 0h1m1 0h1m1 0h1m3 0h2m1 0h1m2 0h1m2 0h1m2 0h4m4 0h18m1 0h2m1 0h4m1 0h1m1 0h3m1 0h1m6 0h2m7 0h1m12 0h1M260 236.5h1m7 0h1m2 0h1m10 0h2m1 0h1m2 0h1m6 0h2m2 0h1m4 0h1m1 0h2m1 0h1m1 0h4m1 0h1m5 0h1m2 0h1m2 0h1m3 0h1m1 0h1m6 0h1m2 0h2m4 0h2m3 0h4m11 0h1m1 0h7m2 0h4m2 0h3m1 0h3m1 0h3m3 0h12m1 0h1m1 0h1m3 0h3m1 0h3m2 0h1m1 0h2m5 0h1m7 0h1m53 0h1M272 237.5h1m13 0h1m3 0h1m8 0h1m2 0h1m6 0h2m1 0h1m5 0h2m4 0h1m3 0h1m1 0h1m8 0h1m2 0h2m13 0h1m4 0h1m7 0h1m2 0h1m2 0h2m2 0h4m3 0h4m2 0h1m1 0h10m2 0h6m2 0h3m4 0h1m4 0h2m5 0h1m1 0h1m2 0h1M246 238.5h1m2 0h1m4 0h1m1 0h2m13 0h1m3 0h1m16 0h1m1 0h1m6 0h2m1 0h1m5 0h3m2 0h1m1 0h1m7 0h1m4 0h1m2 0h1m1 0h1m3 0h1m1 0h1m1 0h2m5 0h2m4 0h1m2 0h1m4 0h2m2 0h1m2 0h1m1 0h1m3 0h2m1 0h4m1 0h3m1 0h2m1 0h1m1 0h1m1 0h2m1 0h1m1 0h3m2 0h7m1 0h4m2 0h1m3 0h1m1 0h1m1 0h1m2 0h1m1 0h1m14 0h1m16 0h1m19 0h1m12 0h1M257 239.5h1m1 0h1m3 0h1m5 0h4m2 0h1m2 0h1m1 0h1m2 0h1m7 0h1m5 0h3m2 0h1m3 0h1m1 0h1m3 0h2m5 0h1m13 0h1m3 0h1m1 0h1m11 0h1m3 0h1m1 0h1m3 0h1m1 0h1m3 0h5m3 0h2m2 0h4m1 0h2m2 0h4m1 0h7m2 0h4m1 0h2m1 0h2m2 0h5m1 0h1m2 0h1m1 0h1m2 0h1m1 0h1m1 0h1m8 0h1m1 0h1m14 0h1m24 0h1m33 0h1M269 240.5h1m1 0h1m4 0h2m1 0h1m2 0h1m1 0h2m1 0h2m3 0h1m1 0h1m11 0h1m3 0h1m3 0h1m2 0h2m1 0h1m6 0h1m5 0h2m2 0h3m4 0h2m1 0h2m1 0h1m3 0h1m2 0h1m5 0h1m2 0h1m1 0h1m1 0h2m1 0h2m5 0h1m1 0h1m2 0h2m1 0h1m2 0h9m1 0h9m2 0h1m2 0h3m3 0h2m2 0h1m2 0h3m3 0h1m9 0h1m2 0h1m7 0h1M253 241.5h1m7 0h1m1 0h1m4 0h1m1 0h1m1 0h1m7 0h1m1 0h1m1 0h1m2 0h2m4 0h2m4 0h1m3 0h1m1 0h1m2 0h1m7 0h1m3 0h1m1 0h4m1 0h1m2 0h1m8 0h2m1 0h1m5 0h1m2 0h2m1 0h1m2 0h2m2 0h1m2 0h1m5 0h1m4 0h1m4 0h2m3 0h3m3 0h1m2 0h1m1 0h12m1 0h5m2 0h6m1 0h1m13 0h1m4 0h1m12 0h1m1 0h1m9 0h1m8 0h1m26 0h1M255 242.5h1m4 0h1m8 0h1m7 0h2m1 0h2m10 0h2m5 0h1m1 0h1m4 0h1m5 0h1m2 0h1m6 0h3m3 0h1m5 0h1m11 0h1m6 0h1m1 0h1m1 0h1m1 0h1m3 0h1m1 0h1m2 0h2m4 0h3m5 0h2m1 0h1m1 0h9m1 0h4m3 0h2m1 0h3m1 0h3m1 0h2m1 0h2m2 0h1m2 0h1m1 0h1m3 0h2m11 0h1m51 0h1M246 243.5h1m2 0h1m16 0h1m3 0h1m5 0h1m5 0h1m6 0h1m4 0h1m1 0h1m7 0h1m2 0h1m5 0h1m3 0h1m12 0h1m4 0h2m6 0h1m4 0h1m2 0h1m2 0h1m3 0h2m3 0h1m2 0h2m1 0h1m1 0h1m1 0h2m2 0h2m1 0h2m1 0h1m3 0h1m2 0h1m1 0h6m1 0h1m2 0h2m1 0h8m2 0h6m4 0h1m4 0h2m15 0h1m7 0h1m11 0h1m7 0h1m2 0h1m20 0h1m4 0h1M265 244.5h1m5 0h1m6 0h3m2 0h1m17 0h1m3 0h2m4 0h1m1 0h1m1 0h1m8 0h2m3 0h1m1 0h2m1 0h2m2 0h1m6 0h1m14 0h1m3 0h1m3 0h3m1 0h1m1 0h3m2 0h3m1 0h2m1 0h1m1 0h1m1 0h3m1 0h1m1 0h4m1 0h3m1 0h6m2 0h1m1 0h3m1 0h3m10 0h1m8 0h1m12 0h1m33 0h2M262 245.5h1m9 0h2m4 0h4m6 0h1m6 0h1m2 0h1m6 0h1m8 0h1m1 0h1m1 0h1m7 0h1m9 0h1m8 0h1m6 0h1m1 0h1m4 0h1m1 0h2m12 0h1m1 0h1m1 0h2m2 0h1m2 0h2m4 0h6m2 0h4m1 0h4m1 0h1m2 0h6m5 0h1m2 0h1m24 0h2m7 0h1m8 0h1m1 0h1m26 0h1m9 0h1M254 246.5h2m5 0h1m1 0h1m9 0h1m3 0h1m4 0h2m3 0h1m1 0h1m4 0h1m5 0h1m5 0h1m2 0h2m7 0h1m5 0h1m2 0h1m2 0h2m6 0h1m2 0h2m6 0h2m8 0h1m3 0h1m3 0h1m15 0h3m1 0h1m1 0h2m2 0h2m1 0h1m1 0h1m1 0h11m1 0h2m1 0h1m2 0h4m2 0h2m1 0h6m18 0h1m19 0h1m2 0h1m6 0h1m12 0h1m1 0h1m19 0h1M263 247.5h1m7 0h1m2 0h1m18 0h1m3 0h1m8 0h2m3 0h1m3 0h1m2 0h1m6 0h1m1 0h1m4 0h1m11 0h1m4 0h1m1 0h1m1 0h1m3 0h1m1 0h1m3 0h1m1 0h2m2 0h1m3 0h1m2 0h1m3 0h1m3 0h1m1 0h1m2 0h2m1 0h1m1 0h3m1 0h1m2 0h4m2 0h1m1 0h1m2 0h1m2 0h7m2 0h1m1 0h1m5 0h1m4 0h1m15 0h1m3 0h1m21 0h1m2 0h1m1 0h1m9 0h1m11 0h1m11 0h1m6 0h1m1 0h1m15 0h1M245 248.5h1m9 0h1m4 0h1m2 0h2m1 0h2m2 0h1m1 0h1m2 0h1m8 0h2m1 0h1m2 0h1m1 0h1m15 0h1m1 0h1m7 0h2m1 0h1m2 0h1m3 0h1m3 0h1m10 0h1m2 0h1m1 0h1m12 0h2m1 0h1m2 0h1m1 0h3m4 0h3m1 0h1m4 0h1m5 0h2m1 0h2m2 0h1m1 0h1m1 0h1m1 0h4m1 0h2m1 0h1m2 0h3m1 0h1m1 0h1m1 0h1m3 0h1m5 0h1m1 0h1m7 0h1m7 0h1m4 0h1m2 0h1m17 0h1m17 0h1m3 0h1M250 249.5h2m15 0h1m3 0h1m10 0h1m2 0h1m2 0h2m1 0h1m6 0h5m8 0h1m7 0h1m10 0h1m4 0h2m2 0h1m1 0h1m1 0h1m19 0h1m6 0h1m2 0h2m1 0h1m2 0h1m2 0h1m1 0h5m1 0h6m2 0h1m1 0h3m1 0h5m1 0h1m1 0h1m3 0h1m1 0h2m1 0h2m1 0h1m1 0h2m19 0h4m19 0h1m11 0h1m4 0h1m10 0h1M259 250.5h2m13 0h2m1 0h1m1 0h2m6 0h3m4 0h1m10 0h2m2 0h1m2 0h1m5 0h1m2 0h1m9 0h3m9 0h1m8 0h1m4 0h2m4 0h1m1 0h2m4 0h1m2 0h1m8 0h5m1 0h2m2 0h3m1 0h2m2 0h7m1 0h1m9 0h2m2 0h1m8 0h1m5 0h1m2 0h1m4 0h2m3 0h1m3 0h1m1 0h1m9 0h1m8 0h1m7 0h1m26 0h2m8 0h1M248 251.5h1m4 0h1m10 0h1m6 0h3m1 0h1m5 0h1m1 0h1m1 0h2m2 0h1m6 0h1m3 0h1m11 0h1m2 0h2m3 0h1m3 0h1m3 0h2m2 0h1m1 0h1m3 0h1m4 0h2m2 0h1m1 0h1m8 0h1m2 0h1m1 0h1m2 0h1m3 0h1m1 0h2m3 0h1m2 0h2m5 0h2m2 0h1m2 0h2m1 0h2m1 0h2m5 0h3m1 0h1m1 0h1m10 0h1m1 0h1m3 0h1m3 0h1m21 0h1m4 0h2m18 0h1m4 0h1m2 0h2m11 0h1m9 0h1m7 0h1m25 0h1M247 252.5h1m1 0h1m15 0h1m1 0h2m2 0h1m3 0h1m8 0h1m3 0h2m3 0h1m7 0h1m3 0h1m6 0h1m12 0h1m2 0h2m8 0h1m2 0h1m4 0h1m4 0h1m1 0h1m8 0h1m1 0h3m1 0h1m2 0h3m5 0h1m1 0h3m6 0h2m3 0h1m1 0h4m1 0h2m2 0h5m1 0h1m3 0h1m2 0h1m2 0h1m2 0h1m1 0h1m13 0h1m20 0h1m9 0h1m9 0h1m25 0h1m54 0h1M245 253.5h1m13 0h1m11 0h2m4 0h1m1 0h1m7 0h1m3 0h1m9 0h3m1 0h1m5 0h2m5 0h1m16 0h1m2 0h1m3 0h2m1 0h2m1 0h1m2 0h1m1 0h2m2 0h2m1 0h1m4 0h2m1 0h1m3 0h3m2 0h2m1 0h2m3 0h1m1 0h3m1 0h8m2 0h1m3 0h2m2 0h1m1 0h1m3 0h1m4 0h1m2 0h1m3 0h1m8 0h1m3 0h1m17 0h2m1 0h1m3 0h1m5 0h1m20 0h1m13 0h1m19 0h1M249 254.5h1m6 0h1m6 0h1m1 0h1m2 0h2m2 0h1m1 0h1m1 0h1m3 0h1m12 0h1m4 0h2m1 0h2m4 0h1m7 0h1m1 0h1m23 0h1m1 0h1m1 0h2m1 0h2m8 0h1m4 0h1m2 0h1m2 0h1m4 0h1m8 0h1m2 0h1m3 0h2m2 0h8m4 0h1m1 0h2m1 0h1m1 0h1m3 0h1m3 0h2m2 0h1m6 0h1m14 0h1m2 0h1m15 0h1m9 0h1m52 0h1m3 0h1M253 255.5h1m11 0h1m3 0h1m1 0h2m3 0h2m3 0h2m4 0h1m2 0h3m2 0h1m1 0h1m2 0h1m2 0h1m5 0h1m10 0h2m5 0h2m5 0h2m2 0h3m4 0h2m1 0h1m2 0h2m3 0h1m6 0h1m3 0h1m3 0h1m1 0h1m7 0h1m1 0h2m3 0h2m2 0h3m4 0h1m4 0h1m2 0h1m3 0h1m3 0h1m1 0h1m1 0h1m2 0h1m1 0h1m1 0h1m2 0h1m23 0h2m10 0h1m8 0h1m2 0h1m5 0h1m1 0h1m3 0h1m15 0h2m10 0h1m35 0h1M247 256.5h1m15 0h2m1 0h1m2 0h2m1 0h2m1 0h1m3 0h1m1 0h1m1 0h2m7 0h1m1 0h2m6 0h1m3 0h2m11 0h1m3 0h1m5 0h1m6 0h2m3 0h1m7 0h1m2 0h1m1 0h1m4 0h1m1 0h1m8 0h1m7 0h1m5 0h2m1 0h1m1 0h2m1 0h1m1 0h5m1 0h2m2 0h1m3 0h5m1 0h2m9 0h1m1 0h1m19 0h1m16 0h1m2 0h1m9 0h1m3 0h1m10 0h1m10 0h1m25 0h1m1 0h1m4 0h1M247 257.5h1m12 0h1m1 0h1m2 0h1m4 0h3m3 0h1m2 0h1m1 0h3m5 0h1m10 0h1m4 0h1m1 0h1m7 0h1m16 0h2m2 0h1m13 0h2m6 0h1m1 0h2m5 0h1m7 0h1m2 0h1m2 0h1m2 0h1m3 0h1m1 0h1m3 0h2m1 0h1m2 0h1m1 0h1m3 0h1m1 0h2m1 0h1m1 0h1m3 0h1m2 0h1m14 0h1m7 0h1m5 0h1m5 0h1m2 0h1m1 0h1m2 0h1m10 0h1m2 0h1m1 0h1m10 0h1m2 0h1m6 0h1m2 0h1m4 0h1m1 0h2m6 0h1m10 0h1m9 0h1m7 0h1M247 258.5h1m12 0h1m5 0h1m2 0h2m2 0h1m5 0h1m4 0h1m1 0h2m7 0h2m2 0h1m4 0h1m5 0h3m1 0h1m6 0h4m6 0h1m2 0h1m1 0h1m4 0h1m11 0h4m1 0h1m4 0h2m2 0h1m3 0h1m3 0h1m6 0h1m3 0h1m3 0h3m1 0h3m5 0h1m1 0h1m2 0h2m1 0h1m1 0h2m2 0h1m1 0h1m13 0h1m11 0h1m2 0h1m4 0h1m2 0h1m15 0h1m8 0h1m4 0h1m6 0h1m8 0h1m3 0h1m5 0h1m4 0h1m16 0h1M252 259.5h1m3 0h1m11 0h1m2 0h1m4 0h1m1 0h1m2 0h1m3 0h1m4 0h1m2 0h1m11 0h1m14 0h3m1 0h1m1 0h1m4 0h1m3 0h2m1 0h1m5 0h1m1 0h1m2 0h2m2 0h1m1 0h1m4 0h1m2 0h1m3 0h3m7 0h2m2 0h1m5 0h1m3 0h2m1 0h2m2 0h1m3 0h1m1 0h2m5 0h1m2 0h3m2 0h2m1 0h1m5 0h1m12 0h1m30 0h1m4 0h1m2 0h1m1 0h1m1 0h2m3 0h1m2 0h1m1 0h1m1 0h1m1 0h1m23 0h1m1 0h1m35 0h1M247 260.5h1m10 0h1m1 0h1m1 0h2m4 0h1m1 0h1m2 0h2m3 0h1m4 0h1m3 0h2m8 0h1m12 0h1m2 0h1m2 0h1m2 0h1m2 0h2m2 0h1m1 0h1m1 0h1m1 0h1m1 0h1m1 0h1m1 0h1m5 0h3m2 0h1m3 0h2m2 0h1m1 0h2m1 0h1m2 0h3m6 0h1m6 0h1m2 0h1m3 0h2m1 0h3m3 0h1m4 0h1m2 0h1m8 0h1m3 0h1m4 0h1m6 0h1m11 0h1m2 0h1m1 0h1m13 0h1m18 0h1m5 0h2m13 0h1m4 0h2m5 0h1m42 0h1M247 261.5h1m2 0h1m1 0h1m14 0h2m2 0h1m3 0h2m2 0h1m1 0h1m1 0h1m1 0h1m2 0h2m5 0h1m3 0h1m1 0h1m5 0h3m3 0h1m1 0h2m3 0h1m9 0h1m1 0h2m2 0h2m6 0h2m3 0h1m3 0h2m1 0h2m4 0h1m1 0h1m1 0h1m1 0h1m3 0h1m7 0h1m1 0h2m1 0h2m1 0h6m1 0h2m2 0h1m4 0h1m2 0h1m3 0h1m1 0h1m1 0h2m1 0h1m7 0h1m9 0h1m19 0h2m21 0h1m16 0h1m11 0h2m1 0h1m15 0h1M254 262.5h1m4 0h1m2 0h1m1 0h2m3 0h1m2 0h1m4 0h1m6 0h1m9 0h1m2 0h1m7 0h2m2 0h1m1 0h2m1 0h1m2 0h1m2 0h1m4 0h1m1 0h1m1 0h1m2 0h1m4 0h1m3 0h2m1 0h3m1 0h1m1 0h1m3 0h1m6 0h2m1 0h2m3 0h2m2 0h1m1 0h1m2 0h1m1 0h1m2 0h1m2 0h1m1 0h1m1 0h2m1 0h1m4 0h3m4 0h4m1 0h2m7 0h1m20 0h1m18 0h1m1 0h1m2 0h1m3 0h1m1 0h1m2 0h1m11 0h1m46 0h1m25 0h1M254 263.5h1m2 0h1m1 0h1m1 0h1m12 0h1m2 0h1m1 0h1m1 0h1m4 0h1m1 0h1m2 0h2m1 0h1m4 0h1m3 0h2m4 0h1m6 0h1m1 0h1m1 0h1m1 0h1m4 0h1m5 0h2m2 0h2m2 0h1m1 0h1m1 0h3m6 0h6m8 0h2m3 0h1m1 0h3m8 0h1m1 0h2m7 0h1m1 0h1m1 0h1m2 0h2m1 0h1m2 0h1m1 0h1m11 0h1m11 0h1m29 0h1m1 0h1m19 0h1m24 0h1m4 0h1m7 0h1m7 0h1m3 0h1m19 0h1M253 264.5h2m6 0h2m10 0h2m2 0h1m2 0h1m1 0h2m3 0h2m2 0h3m22 0h1m1 0h1m1 0h1m7 0h1m1 0h1m11 0h1m2 0h1m2 0h2m5 0h1m8 0h2m4 0h1m2 0h1m4 0h2m2 0h1m1 0h1m2 0h1m2 0h1m1 0h2m1 0h1m1 0h3m1 0h2m5 0h1m1 0h1m4 0h1m5 0h2m1 0h2m2 0h1m3 0h1m27 0h1m32 0h1m9 0h1m2 0h1m1 0h1m14 0h1M262 265.5h1m7 0h2m2 0h1m5 0h1m3 0h1m1 0h1m5 0h1m1 0h1m1 0h1m1 0h2m1 0h1m1 0h1m2 0h1m4 0h1m6 0h1m8 0h1m5 0h1m2 0h1m1 0h2m1 0h2m3 0h1m4 0h2m6 0h2m1 0h1m1 0h1m9 0h1m3 0h1m1 0h1m1 0h1m6 0h2m2 0h3m1 0h1m1 0h2m1 0h1m2 0h1m2 0h1m4 0h3m2 0h1m32 0h1m2 0h1m31 0h1m29 0h1m8 0h2m5 0h1m9 0h1m2 0h1m10 0h1M263 266.5h1m7 0h1m3 0h2m3 0h1m6 0h1m4 0h1m2 0h1m1 0h1m5 0h1m1 0h1m5 0h1m2 0h1m1 0h1m5 0h1m1 0h2m2 0h1m2 0h3m2 0h2m1 0h1m7 0h1m1 0h2m2 0h1m7 0h1m1 0h1m3 0h1m1 0h1m4 0h5m1 0h1m3 0h2m2 0h2m1 0h1m2 0h3m1 0h1m2 0h1m2 0h1m1 0h1m1 0h1m1 0h1m1 0h1m1 0h1m1 0h4m1 0h1m1 0h1m11 0h1m7 0h1m11 0h1m25 0h1m6 0h2m5 0h1m9 0h1m12 0h1m15 0h1m4 0h1m18 0h1m2 0h1M228 267.5h1m28 0h1m1 0h1m1 0h1m1 0h2m1 0h1m10 0h1m1 0h1m1 0h2m1 0h1m3 0h1m1 0h2m1 0h1m1 0h2m4 0h1m1 0h1m6 0h2m3 0h2m1 0h1m2 0h1m3 0h1m1 0h2m1 0h1m3 0h1m5 0h1m2 0h2m6 0h4m4 0h1m2 0h1m2 0h1m5 0h2m3 0h3m2 0h3m4 0h4m1 0h1m1 0h1m5 0h5m2 0h4m2 0h1m4 0h2m5 0h1m2 0h1m20 0h1m35 0h1m21 0h1m1 0h1m12 0h1m31 0h1M249 268.5h2m6 0h1m2 0h1m17 0h1m3 0h1m7 0h2m1 0h2m1 0h1m2 0h1m1 0h2m4 0h2m2 0h1m1 0h2m2 0h6m4 0h1m3 0h1m2 0h1m3 0h1m3 0h1m2 0h1m1 0h1m1 0h1m3 0h1m2 0h1m14 0h1m2 0h1m1 0h1m3 0h1m3 0h4m1 0h3m2 0h1m1 0h1m2 0h4m3 0h1m2 0h3m1 0h1m1 0h1m12 0h1m1 0h2m30 0h1m14 0h1m28 0h1m1 0h1m16 0h1M250 269.5h1m3 0h1m1 0h1m6 0h3m3 0h1m2 0h2m2 0h1m5 0h1m3 0h1m7 0h1m3 0h1m2 0h5m9 0h1m1 0h3m1 0h1m2 0h1m5 0h3m1 0h1m1 0h1m5 0h3m2 0h1m3 0h2m3 0h2m4 0h2m2 0h1m9 0h1m1 0h1m1 0h2m1 0h4m1 0h1m1 0h3m2 0h8m5 0h3m3 0h4m1 0h1m1 0h1m1 0h3m2 0h1m3 0h1m38 0h1m75 0h1M249 270.5h1m14 0h1m2 0h3m6 0h1m4 0h2m2 0h1m3 0h2m3 0h4m1 0h1m2 0h1m1 0h1m1 0h3m6 0h3m1 0h2m4 0h1m1 0h1m1 0h1m1 0h3m3 0h1m5 0h2m2 0h2m3 0h1m7 0h1m4 0h1m1 0h1m8 0h1m2 0h1m1 0h1m1 0h1m2 0h2m1 0h1m2 0h2m2 0h5m2 0h2m1 0h1m1 0h3m3 0h2m6 0h2m2 0h1m1 0h1m1 0h1m2 0h1m2 0h1m48 0h1m5 0h3m9 0h1m15 0h1m33 0h1M249 271.5h1m7 0h1m3 0h1m1 0h1m5 0h3m2 0h2m5 0h1m2 0h1m4 0h1m1 0h1m3 0h1m2 0h2m4 0h2m2 0h2m3 0h1m1 0h1m8 0h1m3 0h2m1 0h1m2 0h2m7 0h3m2 0h4m5 0h1m3 0h1m5 0h1m3 0h4m2 0h1m3 0h3m1 0h2m1 0h2m1 0h6m1 0h11m1 0h1m1 0h5m2 0h1m1 0h1m4 0h1m1 0h1m1 0h2m69 0h1m6 0h1m27 0h1m11 0h1m3 0h1M246 272.5h1m11 0h1m4 0h1m5 0h1m5 0h1m3 0h1m2 0h1m9 0h2m2 0h1m2 0h1m4 0h1m2 0h1m2 0h8m2 0h1m6 0h2m2 0h1m3 0h1m1 0h1m5 0h1m1 0h1m9 0h1m1 0h1m1 0h1m1 0h1m2 0h1m7 0h1m2 0h1m1 0h3m2 0h4m1 0h5m2 0h22m1 0h3m2 0h2m1 0h1m59 0h1m73 0h1m1 0h1M260 273.5h1m2 0h1m10 0h2m2 0h4m5 0h3m2 0h1m1 0h1m1 0h7m2 0h3m1 0h3m2 0h4m2 0h2m1 0h1m1 0h1m3 0h1m1 0h1m2 0h2m3 0h2m2 0h1m8 0h1m1 0h2m3 0h1m4 0h1m3 0h7m2 0h23m1 0h7m1 0h2m2 0h3m2 0h4m2 0h1m3 0h1m71 0h1m2 0h1M245 274.5h1m3 0h1m1 0h1m4 0h1m4 0h1m5 0h1m4 0h4m2 0h4m2 0h1m1 0h1m1 0h3m3 0h3m2 0h2m1 0h2m2 0h3m2 0h1m1 0h2m3 0h1m2 0h1m2 0h1m2 0h3m3 0h1m10 0h2m1 0h1m3 0h1m13 0h2m4 0h2m1 0h1m1 0h4m2 0h21m2 0h9m2 0h2m1 0h1m2 0h3m9 0h1m17 0h1m45 0h1M248 275.5h1m2 0h1m2 0h2m5 0h1m3 0h1m1 0h1m2 0h2m2 0h2m3 0h3m2 0h4m2 0h1m1 0h4m2 0h2m1 0h1m2 0h1m1 0h1m2 0h2m1 0h2m3 0h1m3 0h1m1 0h1m8 0h1m4 0h1m1 0h1m1 0h2m1 0h1m2 0h1m1 0h1m8 0h1m1 0h2m1 0h4m1 0h1m3 0h1m3 0h17m1 0h22m1 0h4m10 0h1m10 0h1m59 0h2M257 276.5h1m6 0h2m2 0h1m1 0h1m3 0h1m4 0h1m3 0h1m1 0h1m8 0h2m2 0h1m1 0h3m2 0h1m1 0h4m1 0h1m2 0h1m2 0h2m1 0h1m5 0h2m6 0h1m4 0h1m1 0h3m8 0h1m2 0h1m4 0h2m4 0h2m1 0h5m1 0h3m1 0h3m2 0h14m1 0h6m2 0h6m1 0h4m2 0h2m9 0h1m9 0h1m39 0h1m20 0h1M253 277.5h1m4 0h1m5 0h1m3 0h1m1 0h1m4 0h3m2 0h1m2 0h2m2 0h2m1 0h4m1 0h1m1 0h3m2 0h2m2 0h1m2 0h1m1 0h1m1 0h1m1 0h2m2 0h2m3 0h1m7 0h3m6 0h1m11 0h1m6 0h1m2 0h1m3 0h2m1 0h3m1 0h3m1 0h26m1 0h10m3 0h2m8 0h1M257 278.5h1m3 0h1m5 0h2m1 0h2m3 0h5m2 0h3m1 0h2m2 0h2m4 0h1m1 0h1m6 0h2m2 0h1m5 0h1m4 0h1m2 0h1m1 0h1m1 0h1m8 0h1m1 0h1m2 0h1m11 0h2m1 0h1m3 0h2m5 0h7m1 0h25m1 0h5m1 0h2m1 0h5m1 0h1m1 0h3m7 0h1m4 0h1M252 279.5h1m10 0h2m2 0h1m1 0h1m1 0h1m1 0h3m1 0h1m8 0h1m2 0h4m3 0h2m1 0h1m3 0h1m3 0h1m1 0h1m1 0h1m1 0h2m1 0h1m1 0h1m3 0h2m2 0h1m1 0h1m2 0h1m15 0h2m7 0h1m3 0h2m5 0h1m1 0h5m1 0h3m1 0h1m1 0h32m2 0h6m1 0h1m8 0h1m92 0h1M246 280.5h1m14 0h1m2 0h1m4 0h1m5 0h1m2 0h2m1 0h1m2 0h2m7 0h1m1 0h3m2 0h1m1 0h4m2 0h1m2 0h2m5 0h1m1 0h1m1 0h1m1 0h1m12 0h2m5 0h1m9 0h1m5 0h1m1 0h1m4 0h5m1 0h7m1 0h28m2 0h2m2 0h1m1 0h4m43 0h1M257 281.5h1m3 0h1m3 0h2m4 0h1m3 0h3m4 0h2m1 0h1m1 0h1m4 0h2m2 0h1m3 0h2m4 0h2m3 0h1m6 0h1m1 0h2m5 0h1m3 0h1m8 0h1m1 0h1m1 0h1m7 0h1m3 0h1m1 0h4m1 0h1m1 0h7m1 0h24m1 0h4m1 0h3m1 0h5m127 0h1M249 282.5h1m5 0h1m1 0h1m5 0h1m1 0h1m3 0h1m1 0h1m6 0h1m1 0h1m1 0h2m1 0h1m2 0h2m4 0h2m5 0h1m1 0h1m1 0h1m1 0h1m2 0h1m11 0h1m3 0h1m17 0h1m6 0h1m3 0h1m4 0h3m3 0h3m1 0h26m1 0h2m1 0h3m1 0h5m1 0h1m4 0h4m1 0h1m9 0h1M248 283.5h1m6 0h1m1 0h1m7 0h1m6 0h2m2 0h2m7 0h2m1 0h1m1 0h3m1 0h1m1 0h1m3 0h2m6 0h1m3 0h1m1 0h1m1 0h1m31 0h1m1 0h1m7 0h2m2 0h1m2 0h3m1 0h1m2 0h2m1 0h1m1 0h12m1 0h8m1 0h3m1 0h2m2 0h1m1 0h4m4 0h2m2 0h1m18 0h1M253 284.5h1m4 0h1m2 0h2m1 0h1m1 0h2m2 0h2m1 0h2m5 0h2m1 0h2m2 0h2m2 0h7m4 0h1m1 0h1m3 0h2m8 0h2m2 0h1m9 0h1m4 0h1m12 0h1m8 0h1m6 0h3m1 0h1m2 0h2m1 0h2m1 0h3m1 0h8m1 0h5m3 0h6m3 0h1m1 0h1m2 0h1m6 0h1m15 0h1m26 0h1M244 285.5h1m10 0h1m1 0h2m5 0h1m3 0h2m4 0h2m2 0h2m2 0h1m2 0h1m1 0h3m1 0h1m1 0h1m3 0h1m4 0h1m1 0h2m5 0h1m4 0h1m6 0h1m21 0h1m1 0h1m4 0h1m5 0h2m1 0h1m1 0h4m1 0h1m2 0h3m2 0h4m1 0h12m1 0h4m9 0h1m9 0h1m5 0h1m48 0h1m69 0h1M252 286.5h1m4 0h1m3 0h1m1 0h1m4 0h1m1 0h5m4 0h1m2 0h1m1 0h4m3 0h1m1 0h2m2 0h2m1 0h1m6 0h1m7 0h2m1 0h1m1 0h1m28 0h1m4 0h1m2 0h1m2 0h1m3 0h1m2 0h1m1 0h2m1 0h4m1 0h4m1 0h2m1 0h10m1 0h2m3 0h1m1 0h1m4 0h2m4 0h1m1 0h1M253 287.5h1m4 0h2m5 0h1m4 0h1m2 0h3m3 0h5m3 0h1m1 0h1m4 0h2m5 0h1m1 0h1m2 0h1m4 0h1m4 0h2m3 0h1m2 0h1m9 0h1m5 0h1m7 0h1m2 0h1m1 0h4m1 0h3m1 0h1m1 0h4m1 0h1m1 0h1m2 0h5m1 0h1m2 0h2m1 0h8m1 0h1m4 0h1m1 0h1m1 0h4m7 0h1m3 0h1M245 288.5h1m19 0h1m1 0h1m3 0h1m1 0h3m1 0h1m1 0h1m2 0h1m1 0h2m4 0h1m1 0h1m1 0h1m4 0h1m4 0h2m1 0h1m28 0h2m5 0h3m2 0h1m9 0h2m1 0h1m3 0h1m2 0h1m2 0h1m1 0h4m2 0h2m2 0h7m1 0h1m1 0h2m4 0h1m1 0h1m3 0h3m1 0h1m2 0h1m9 0h1M243 289.5h1m5 0h1m3 0h1m6 0h2m1 0h1m1 0h1m3 0h1m4 0h3m3 0h1m4 0h3m1 0h1m2 0h3m1 0h1m5 0h1m6 0h1m10 0h1m3 0h1m22 0h1m9 0h1m1 0h1m1 0h2m2 0h1m1 0h1m2 0h1m2 0h2m1 0h4m2 0h1m2 0h2m2 0h1m1 0h1m1 0h3m2 0h1m4 0h1m22 0h1m1 0h1m100 0h1M246 290.5h1m1 0h1m5 0h1m1 0h1m6 0h1m3 0h2m9 0h1m3 0h1m4 0h1m10 0h2m10 0h1m1 0h1m14 0h2m7 0h1m22 0h1m6 0h1m2 0h1m2 0h1m4 0h4m1 0h1m2 0h1m3 0h2m2 0h1m2 0h1m1 0h1m5 0h1m6 0h1m7 0h1m101 0h1M263 291.5h1m2 0h1m10 0h2m7 0h2m7 0h1m2 0h1m1 0h1m6 0h1m17 0h1m1 0h1m5 0h1m6 0h1m16 0h2m1 0h2m2 0h1m3 0h2m2 0h1m1 0h2m4 0h2m1 0h3m4 0h3m1 0h1m2 0h1m6 0h1m15 0h1m17 0h1M259 292.5h1m1 0h1m2 0h1m1 0h2m2 0h1m1 0h1m3 0h1m2 0h1m2 0h1m3 0h2m3 0h1m12 0h1m15 0h1m27 0h1m9 0h2m1 0h1m7 0h1m4 0h2m1 0h1m1 0h1m2 0h1m1 0h1m1 0h1m1 0h2m2 0h1m2 0h1m3 0h1m8 0h1m2 0h1m154 0h1M252 293.5h1m7 0h1m2 0h1m4 0h1m3 0h1m3 0h1m4 0h2m9 0h1m6 0h1m4 0h3m6 0h1m15 0h1m7 0h1m28 0h2m9 0h1m2 0h1m4 0h3m1 0h1m10 0h2m3 0h1m18 0h1m92 0h1M254 294.5h1m1 0h2m3 0h2m7 0h1m1 0h2m2 0h2m5 0h1m1 0h1m3 0h2m32 0h1m21 0h1m10 0h2m3 0h2m8 0h1m2 0h1m1 0h1m6 0h1m2 0h2m3 0h1m1 0h1m2 0h1m4 0h1M244 295.5h1m2 0h1m20 0h2m5 0h2m8 0h1m5 0h1m2 0h1m2 0h1m1 0h1m3 0h1m52 0h2m9 0h1m5 0h2m25 0h1m8 0h1m41 0h1m11 0h1M244 296.5h1m10 0h1m1 0h1m8 0h2m2 0h1m2 0h1m12 0h1m3 0h1m3 0h2m1 0h1m63 0h1m6 0h1m1 0h2m11 0h1m7 0h1m12 0h1M247 297.5h3m1 0h2m1 0h1m7 0h3m1 0h1m1 0h2m4 0h1m3 0h3m2 0h1m3 0h1m4 0h1m33 0h1m19 0h1m22 0h2m4 0h1m8 0h1m18 0h1M250 298.5h1m1 0h1m7 0h4m1 0h3m1 0h3m2 0h1m1 0h2m6 0h1m4 0h3m4 0h1m1 0h1m1 0h1m8 0h1m20 0h1m24 0h2m12 0h1m56 0h1m59 0h1M249 299.5h2m1 0h3m1 0h1m5 0h2m1 0h2m1 0h10m2 0h1m1 0h1m5 0h1m1 0h1m1 0h1m14 0h1m2 0h1m23 0h1m8 0h1m39 0h1m14 0h2m3 0h1M252 300.5h1m2 0h2m1 0h1m3 0h9m1 0h5m1 0h1m3 0h2m5 0h1m2 0h1m1 0h1m8 0h1m47 0h1m2 0h1m12 0h1m22 0h1M245 301.5h2m4 0h8m2 0h14m1 0h8m2 0h6m1 0h3m8 0h1m5 0h1m18 0h2m13 0h1m6 0h1m16 0h1m8 0h1m5 0h1m14 0h2M245 302.5h1m1 0h1m2 0h4m2 0h1m1 0h1m1 0h22m1 0h7m1 0h1m1 0h2m3 0h1m3 0h4m79 0h1m84 0h1M244 303.5h2m1 0h2m2 0h2m1 0h2m1 0h26m4 0h8m1 0h2m3 0h2m1 0h1m7 0h1m9 0h1m1 0h1m29 0h1m19 0h1M242 304.5h1m3 0h1m2 0h7m3 0h29m1 0h9m1 0h2m14 0h1m19 0h1m23 0h1m43 0h1M245 305.5h2m1 0h10m1 0h47m1 0h3m1 0h1m1 0h4m2 0h1m1 0h1m2 0h2m5 0h1m22 0h1m37 0h1m166 0h1M247 306.5h2m1 0h39m2 0h14m2 0h3m1 0h1m1 0h3m2 0h5m2 0h1m1 0h1m3 0h1m2 0h1m15 0h1m49 0h1m112 0h1M236 307.5h1m7 0h9m1 0h3m2 0h23m1 0h18m1 0h2m1 0h3m1 0h1m1 0h4m2 0h1m1 0h1m1 0h2m20 0h1m48 0h1M244 308.5h31m1 0h3m1 0h2m1 0h2m2 0h4m2 0h1m2 0h1m1 0h4m1 0h3m1 0h2m2 0h5m4 0h1m1 0h1m2 0h4m1 0h2m5 0h1m1 0h1m1 0h1m3 0h1m6 0h1m26 0h1M243 309.5h1m1 0h5m1 0h9m1 0h1m1 0h4m1 0h3m1 0h1m2 0h3m3 0h1m4 0h1m3 0h2m2 0h2m2 0h7m1 0h3m1 0h2m3 0h4m3 0h4m1 0h1m1 0h1m6 0h1m6 0h1m2 0h2m1 0h1m4 0h1m127 0h1M243 310.5h2m1 0h2m1 0h2m1 0h3m1 0h7m1 0h6m1 0h4m11 0h2m4 0h2m5 0h1m1 0h1m3 0h1m1 0h1m4 0h1m2 0h1m2 0h1m1 0h1m2 0h2m2 0h1m1 0h1m3 0h2m1 0h1m1 0h2m3 0h1m1 0h1m2 0h5m4 0h2m8 0h1m7 0h1m5 0h1m3 0h2m3 0h2M245 311.5h1m1 0h1m2 0h2m1 0h9m1 0h3m1 0h3m2 0h1m4 0h5m4 0h1m4 0h1m4 0h2m1 0h1m9 0h1m1 0h4m2 0h1m6 0h1m1 0h2m1 0h1m1 0h2m2 0h1m2 0h2m1 0h1m1 0h2m1 0h1m1 0h1m7 0h1m4 0h2m6 0h1m9 0h2m7 0h1m10 0h1M243 312.5h11m1 0h1m1 0h5m1 0h4m1 0h2m2 0h1m1 0h1m1 0h1m2 0h1m2 0h1m4 0h1m10 0h1m2 0h1m9 0h1m2 0h2m1 0h1m1 0h1m3 0h1m3 0h1m1 0h2m6 0h2m6 0h3m2 0h5m2 0h1m6 0h2m8 0h1m4 0h1m1 0h1m5 0h1m1 0h1m2 0h1m13 0h1m41 0h1M243 313.5h13m1 0h2m1 0h1m1 0h1m3 0h1m2 0h2m5 0h3m2 0h2m7 0h2m4 0h1m7 0h1m20 0h1m1 0h2m2 0h1m3 0h1m6 0h1m3 0h1m1 0h1m4 0h1m5 0h1m2 0h1m2 0h2m6 0h1m5 0h1m3 0h1m5 0h1m3 0h3m1 0h1M244 314.5h6m1 0h1m1 0h3m1 0h5m2 0h5m3 0h1m4 0h1m3 0h1m15 0h1m1 0h1m3 0h1m9 0h1m10 0h1m2 0h1m6 0h2m4 0h1m9 0h1m8 0h1m1 0h1m12 0h1m2 0h1m4 0h1m16 0h1m13 0h1M243 315.5h3m1 0h3m1 0h6m1 0h2m1 0h1m1 0h3m3 0h1m2 0h3m11 0h1m35 0h1m1 0h1m14 0h2m8 0h3m1 0h2m4 0h1m2 0h1m6 0h1m7 0h1m13 0h2m7 0h1m93 0h1M243 316.5h2m1 0h1m1 0h5m4 0h4m4 0h5m1 0h1m1 0h1m2 0h1m2 0h1m4 0h2m2 0h6m3 0h1m1 0h2m1 0h4m4 0h2m2 0h1m1 0h3m3 0h1m1 0h4m4 0h1m4 0h1m3 0h1m2 0h1m8 0h1m3 0h1m5 0h4m1 0h5m1 0h1m2 0h2m2 0h1m1 0h3m1 0h1m4 0h1m1 0h1m2 0h1m1 0h1M245 317.5h1m2 0h1m1 0h1m1 0h1m2 0h1m1 0h1m1 0h2m35 0h1m26 0h1" stroke="#000" stroke-width="1" fill="none"/>
<path d="M695 150.5h1m11 0h1M753 151.5h1M646 156.5h1M654 157.5h1m47 0h1m48 0h1M791 158.5h1M799 160.5h1M799 164.5h1M670 166.5h1M717 167.5h1M663 170.5h1m100 0h1M667 172.5h1m103 0h1M714 173.5h1M643 174.5h1m147 0h1M787 175.5h1M793 176.5h1M741 177.5h1M642 179.5h1m25 0h1M700 181.5h1m56 0h1m5 0h1M652 182.5h1M776 184.5h1M703 186.5h1m1 0h1M719 187.5h1M650 188.5h1m37 0h1m30 0h1m33 0h1M662 190.5h1m97 0h1m3 0h1m23 0h1m10 0h1m17 0h1M777 191.5h1m49 0h1M766 192.5h1m18 0h1M790 193.5h1m17 0h1M718 195.5h1m45 0h1m33 0h1M827 196.5h1M662 197.5h1m51 0h1m80 0h1M727 198.5h1m67 0h1M786 199.5h1m4 0h1M784 200.5h1m40 0h1M692 201.5h1m99 0h1M649 202.5h1m125 0h1M738 203.5h1m70 0h1M702 204.5h1m44 0h1M733 205.5h1M785 206.5h1m13 0h1m3 0h1m11 0h1M739 207.5h1M783 208.5h1m36 0h1M791 209.5h1M769 210.5h1m25 0h1M794 211.5h1M821 212.5h1M783 213.5h1m27 0h1M793 214.5h1m1 0h1M721 215.5h1m72 0h1m13 0h1M718 216.5h1m72 0h1M792 217.5h1m6 0h1M655 219.5h1m16 0h1m63 0h1M673 220.5h1m20 0h1m16 0h1m95 0h1M670 221.5h1m99 0h1m3 0h1m17 0h1m10 0h1M677 222.5h1m46 0h1m18 0h1m58 0h1M661 223.5h1m54 0h1m47 0h1m20 0h1m30 0h1m6 0h1m4 0h1M703 224.5h1m12 0h1m21 0h1m67 0h1m19 0h1M716 225.5h1m9 0h1m8 0h1m28 0h1m12 0h1m5 0h1M665 226.5h1m5 0h1m19 0h1m7 0h1m38 0h1m3 0h1m3 0h1m12 0h1m40 0h1m3 0h1m10 0h1M691 227.5h1m42 0h1m53 0h1m3 0h1M671 228.5h2m1 0h1m3 0h1m27 0h1m2 0h1m20 0h1m37 0h2m8 0h1m32 0h1m15 0h1M659 229.5h1m2 0h1m6 0h1m9 0h1m4 0h1m16 0h1m19 0h1m14 0h1m11 0h1m33 0h1m16 0h1m14 0h1m5 0h1m5 0h1M663 230.5h1m4 0h2m3 0h1m3 0h1m8 0h1m8 0h1m22 0h1m43 0h1m16 0h1m4 0h1M679 231.5h1m1 0h1m3 0h1m28 0h1m5 0h1m27 0h1m31 0h1m21 0h1M672 232.5h2m1 0h1m1 0h1m1 0h1m2 0h1m2 0h1m18 0h1m38 0h1m20 0h1m6 0h1m16 0h1M671 233.5h1m2 0h2m1 0h2m2 0h2m2 0h1m16 0h1m2 0h1m28 0h1m16 0h1m58 0h1M664 234.5h1m4 0h2m1 0h1m3 0h2m3 0h1m26 0h1m7 0h1m14 0h1m45 0h1M664 235.5h1m2 0h1m1 0h1m2 0h2m1 0h4m1 0h1m24 0h1m10 0h1m53 0h1M669 236.5h3m2 0h2m1 0h6m2 0h1m28 0h1m8 0h1m6 0h1m28 0h1m27 0h1m5 0h1m1 0h1m2 0h1m4 0h1M659 237.5h1m3 0h2m3 0h1m2 0h9m2 0h2m1 0h1m3 0h1m1 0h1m3 0h1m41 0h2m11 0h1m7 0h1m4 0h1m14 0h1m11 0h1m20 0h1M665 238.5h2m4 0h4m1 0h6m4 0h5m1 0h1m2 0h2m1 0h1m33 0h1m7 0h1m23 0h2m9 0h2M658 239.5h1m7 0h1m1 0h7m1 0h1m1 0h1m1 0h1m2 0h1m1 0h1m2 0h2m4 0h1m28 0h1m6 0h1m8 0h1m12 0h1m31 0h1m29 0h1m4 0h1M668 240.5h2m1 0h2m1 0h2m1 0h3m1 0h3m1 0h1m1 0h1m1 0h1m1 0h1m4 0h1m1 0h1m6 0h3m17 0h1m1 0h2m2 0h1m13 0h1m17 0h2m9 0h1M661 241.5h1m3 0h1m1 0h4m1 0h4m2 0h1m1 0h1m1 0h1m1 0h1m1 0h2m9 0h2m17 0h1m5 0h1m4 0h1m7 0h1m3 0h1m3 0h2m4 0h1m48 0h1M659 242.5h1m1 0h1m1 0h1m2 0h1m2 0h4m1 0h1m1 0h2m1 0h7m1 0h2m5 0h1m4 0h1m4 0h1m1 0h1m1 0h1m16 0h1m6 0h1m1 0h1m3 0h1m1 0h1m26 0h1m5 0h1M661 243.5h1m1 0h2m2 0h3m3 0h3m2 0h5m3 0h1m1 0h2m1 0h1m5 0h2m5 0h1m3 0h1m1 0h1m15 0h1m8 0h1m10 0h1m3 0h2m9 0h1m47 0h1M661 244.5h3m1 0h1m1 0h11m1 0h11m15 0h1m7 0h1m1 0h2m2 0h1m3 0h1m12 0h1m2 0h1m22 0h1m1 0h1m3 0h1m9 0h1m18 0h1m12 0h1M664 245.5h4m1 0h6m1 0h9m1 0h5m1 0h1m2 0h1m8 0h1m2 0h1m4 0h2m2 0h1m4 0h1m7 0h1m3 0h1m2 0h1m29 0h1m24 0h2M659 246.5h1m5 0h1m3 0h3m1 0h16m2 0h1m2 0h1m2 0h1m13 0h1m10 0h2m3 0h1m3 0h1m16 0h2m2 0h1m12 0h1m49 0h1M653 247.5h1m3 0h1m2 0h4m3 0h19m1 0h4m2 0h3m4 0h1m8 0h2m1 0h1m16 0h1m7 0h1m38 0h1M660 248.5h30m1 0h1m2 0h4m16 0h1m2 0h1m10 0h2m6 0h1m9 0h1m4 0h1m33 0h1m35 0h1M654 249.5h1m2 0h1m2 0h2m2 0h19m1 0h1m1 0h1m1 0h1m1 0h2m1 0h3m6 0h1m1 0h1m1 0h1m4 0h1m6 0h1m9 0h1m5 0h1m2 0h1m4 0h1m3 0h1m1 0h1m7 0h1m6 0h1m1 0h1m3 0h2M659 250.5h1m4 0h22m2 0h3m1 0h1m2 0h1m13 0h1m5 0h1m7 0h1m6 0h1m7 0h1m1 0h1m22 0h1m1 0h1m1 0h1m2 0h1m3 0h1m9 0h1M653 251.5h1m1 0h1m2 0h1m1 0h1m1 0h1m2 0h2m1 0h22m3 0h3m1 0h2m2 0h1m3 0h1m3 0h1m6 0h2m2 0h3m1 0h1m4 0h2m1 0h1m42 0h1m9 0h1M657 252.5h1m3 0h8m1 0h18m1 0h2m2 0h2m1 0h2m3 0h2m2 0h1m9 0h1m3 0h1m10 0h1m1 0h1m3 0h1m64 0h1m13 0h1M648 253.5h1m8 0h2m1 0h3m1 0h22m1 0h7m1 0h2m2 0h1m7 0h1m5 0h2m1 0h1m4 0h1m1 0h1m3 0h2m2 0h1m7 0h1m6 0h1m4 0h1m6 0h1m12 0h1m15 0h1M660 254.5h1m1 0h1m3 0h2m1 0h24m1 0h2m1 0h3m7 0h1m2 0h1m4 0h3m3 0h2m14 0h1m12 0h2m18 0h1m28 0h1M650 255.5h1m8 0h1m1 0h1m1 0h30m2 0h1m6 0h2m5 0h1m1 0h1m2 0h1m1 0h1m7 0h1m11 0h1m9 0h1m1 0h1m5 0h1m15 0h1M655 256.5h1m4 0h1m1 0h2m2 0h30m1 0h1m2 0h3m3 0h3m1 0h1m5 0h1m2 0h1m9 0h1m7 0h1m46 0h1M658 257.5h1m1 0h2m1 0h31m1 0h1m1 0h1m3 0h1m1 0h1m1 0h1m3 0h3m1 0h2m4 0h1m1 0h3m2 0h1m1 0h1m6 0h1m1 0h1M657 258.5h1m1 0h30m1 0h2m1 0h6m5 0h1m1 0h1m1 0h1m3 0h1m2 0h1m3 0h1m3 0h1m2 0h1m3 0h1m1 0h1m1 0h1m9 0h1m1 0h1m1 0h1m5 0h1m4 0h1m18 0h1M646 259.5h1m9 0h1m3 0h3m1 0h4m1 0h18m1 0h2m1 0h1m1 0h2m1 0h3m2 0h1m1 0h1m3 0h2m2 0h1m5 0h1m3 0h2m2 0h1m4 0h2m12 0h2m2 0h1m8 0h1M656 260.5h1m4 0h2m1 0h1m1 0h22m1 0h7m2 0h3m1 0h2m1 0h1m3 0h3m1 0h1m3 0h2m2 0h1m1 0h1m1 0h1m3 0h1m7 0h2m8 0h1M656 261.5h1m1 0h1m1 0h1m2 0h1m1 0h22m1 0h1m1 0h6m1 0h1m1 0h3m1 0h1m4 0h2m1 0h1m2 0h1m1 0h1m1 0h1m3 0h1m2 0h2m1 0h3m9 0h1m2 0h1m16 0h1M658 262.5h1m2 0h1m1 0h30m1 0h4m1 0h1m2 0h1m2 0h1m5 0h2m3 0h1m3 0h1m1 0h2m3 0h1m4 0h1m2 0h1m4 0h1m3 0h1m10 0h1M653 263.5h1m1 0h5m2 0h1m1 0h29m1 0h1m1 0h1m1 0h1m1 0h2m1 0h1m1 0h1m3 0h1m1 0h2m1 0h1m1 0h1m8 0h1m3 0h3m2 0h1m11 0h1m1 0h1m59 0h1M654 264.5h1m2 0h2m2 0h1m1 0h29m1 0h5m1 0h1m1 0h1m2 0h1m1 0h2m3 0h1m6 0h1m1 0h1m2 0h2m1 0h1m5 0h1m2 0h3m5 0h1m15 0h1m20 0h1m1 0h1M650 265.5h1m2 0h1m2 0h2m2 0h37m1 0h1m2 0h2m2 0h1m3 0h1m2 0h1m1 0h1m2 0h1m1 0h2m15 0h1m8 0h1m1 0h1m1 0h2m1 0h1M644 266.5h1m7 0h1m3 0h1m1 0h9m1 0h1m1 0h24m3 0h1m1 0h1m5 0h4m2 0h2m1 0h2m1 0h5m2 0h3m3 0h1m1 0h1m5 0h1m16 0h1m4 0h1M643 267.5h1m9 0h1m3 0h36m1 0h4m1 0h2m3 0h1m5 0h1m1 0h1m1 0h1m4 0h1m1 0h1m2 0h1m4 0h1m5 0h1m11 0h1m10 0h1M659 268.5h1m1 0h31m1 0h2m1 0h6m3 0h1m3 0h2m1 0h2m11 0h1m1 0h3m1 0h1M654 269.5h1m1 0h1m3 0h2m1 0h39m6 0h1m4 0h1m1 0h1m9 0h1m9 0h1m2 0h1m4 0h1m13 0h1M650 270.5h1m1 0h5m2 0h36m1 0h4m1 0h3m2 0h1m2 0h2m1 0h1m4 0h1m1 0h2m7 0h1m6 0h1m1 0h1m2 0h1m2 0h1m2 0h1M656 271.5h35m1 0h5m1 0h1m1 0h2m1 0h1m6 0h1m4 0h1m4 0h1m1 0h1m2 0h1m1 0h1m11 0h1m1 0h1m20 0h1m35 0h1M650 272.5h2m6 0h1m1 0h31m1 0h6m1 0h2m1 0h1m1 0h1m1 0h2m2 0h1m7 0h3m9 0h1m6 0h1m9 0h1M649 273.5h1m3 0h1m1 0h1m1 0h2m1 0h39m1 0h1m2 0h2m1 0h1m4 0h2m1 0h1m5 0h1m34 0h1M655 274.5h8m1 0h33m1 0h2m2 0h1m5 0h3m2 0h1m1 0h1m2 0h2m8 0h4m1 0h1m3 0h1m24 0h1m14 0h1M630 275.5h1m18 0h1m6 0h2m1 0h36m1 0h9m4 0h1m1 0h1m3 0h1m2 0h1m6 0h2m13 0h1m14 0h1m19 0h1M648 276.5h1m3 0h1m1 0h1m3 0h37m2 0h3m2 0h1m1 0h2m2 0h2m1 0h3m5 0h2m2 0h1m2 0h1m1 0h1m1 0h1m12 0h1m6 0h2m6 0h1m25 0h1M644 277.5h1m9 0h1m3 0h39m1 0h1m1 0h2m1 0h1m2 0h1m12 0h2m2 0h2m15 0h1M656 278.5h45m1 0h1m4 0h1m6 0h2m6 0h1m21 0h1m4 0h1m12 0h1M628 279.5h1m1 0h1m20 0h3m4 0h35m1 0h7m2 0h1m1 0h1m1 0h2m12 0h1m8 0h1m4 0h1M650 280.5h1m4 0h1m2 0h3m1 0h39m3 0h1m4 0h2m1 0h1m7 0h1m16 0h1M657 281.5h40m4 0h1m3 0h4m1 0h1m1 0h1m15 0h2m20 0h1M656 282.5h38m1 0h3m1 0h4m4 0h1m5 0h2m4 0h1m1 0h1m3 0h1m7 0h1m8 0h1m1 0h1m21 0h1M650 283.5h1m1 0h1m5 0h2m1 0h38m1 0h2m1 0h1m2 0h1m3 0h2m1 0h2m8 0h1m1 0h1m1 0h1m18 0h1M652 284.5h1m1 0h1m3 0h8m1 0h30m1 0h1m4 0h1m5 0h1m1 0h1m23 0h1M654 285.5h2m1 0h2m2 0h35m3 0h2m7 0h1m3 0h1m13 0h1m4 0h1m4 0h1M647 286.5h1m6 0h6m1 0h36m4 0h1m7 0h1m37 0h1M659 287.5h35m1 0h1m1 0h1m30 0h1M652 288.5h1m4 0h1m1 0h1m2 0h1m1 0h25m1 0h1m1 0h1m1 0h2m1 0h2m2 0h1m3 0h1m1 0h1m2 0h1m1 0h3m21 0h1M638 289.5h1m16 0h1m4 0h1m2 0h33m1 0h2m9 0h2M644 290.5h1m3 0h1m6 0h2m1 0h1m1 0h31m1 0h2m3 0h1m5 0h1m9 0h1M658 291.5h1m4 0h3m2 0h28m3 0h1m10 0h1m6 0h1M645 292.5h1m15 0h33m1 0h1m2 0h1m2 0h2m9 0h1m1 0h1M656 293.5h1m3 0h1m1 0h5m1 0h23m1 0h5m2 0h2m11 0h1M655 294.5h1m1 0h1m2 0h2m2 0h23m1 0h1m1 0h2m18 0h1m5 0h1M658 295.5h1m3 0h1m1 0h1m2 0h18m1 0h4m1 0h4m12 0h1M660 296.5h1m3 0h2m1 0h17m1 0h4m2 0h1m1 0h1m1 0h1m19 0h1m12 0h1M632 297.5h1m30 0h1m1 0h1m1 0h1m1 0h2m1 0h2m1 0h1m1 0h2m1 0h5m2 0h3m2 0h1m5 0h1m1 0h1M660 298.5h1m4 0h2m3 0h2m1 0h9m1 0h6m35 0h1M654 299.5h1m9 0h1m1 0h2m3 0h2m1 0h3m1 0h4m1 0h1m2 0h1m12 0h1M662 300.5h1m2 0h1m1 0h2m5 0h5m1 0h2m2 0h1m1 0h1m1 0h2m3 0h2m4 0h1M652 301.5h1m15 0h1m5 0h1m2 0h5m3 0h1m1 0h1m1 0h1m1 0h1M674 302.5h2m5 0h1m2 0h2m13 0h1M669 303.5h2m3 0h1m4 0h1m1 0h2m1 0h1m2 0h1m13 0h1M668 304.5h1m7 0h1m2 0h2m5 0h1M672 305.5h1m1 0h1m7 0h1m5 0h1M664 306.5h1M691 307.5h1m20 0h1M676 308.5h1m4 0h1m26 0h1M669 309.5h1m39 0h1M683 311.5h1m28 0h1M690 312.5h1M705 445.5h1M729 446.5h1M708 449.5h1m10 0h1M735 450.5h1M705 452.5h2m29 0h1M717 453.5h1m16 0h1M733 454.5h1m4 0h1M704 455.5h1m25 0h1M714 456.5h1m11 0h1m3 0h1m7 0h1m3 0h1m5 0h1M692 457.5h1m8 0h1m14 0h1m4 0h1m12 0h1m4 0h1M720 458.5h1m6 0h1m14 0h1m5 0h1M670 459.5h1m12 0h1m9 0h1m21 0h1m1 0h1m3 0h1m13 0h1m1 0h1m7 0h1M701 460.5h2m5 0h1M696 461.5h1m3 0h1m1 0h1m1 0h1m3 0h1m3 0h1m4 0h1m6 0h1m2 0h2m9 0h1m4 0h1m66 0h1M687 462.5h1m3 0h1m1 0h1m11 0h2m5 0h1m9 0h2m3 0h1m7 0h1m6 0h2m5 0h1m1 0h1m4 0h1M695 463.5h1m2 0h1m8 0h1m5 0h3m2 0h1m3 0h1m1 0h1m1 0h1m3 0h1m1 0h1m5 0h1m4 0h1m2 0h1m9 0h1m59 0h1M690 464.5h1m8 0h2m7 0h1m2 0h2m1 0h2m1 0h2m1 0h1m1 0h1m1 0h2m1 0h2m1 0h2m4 0h1m1 0h2m4 0h1m4 0h1M695 465.5h1m6 0h1m2 0h2m1 0h2m2 0h1m2 0h2m4 0h2m1 0h1m1 0h1m1 0h1m1 0h1m3 0h2m3 0h1m1 0h1m4 0h1m2 0h1m4 0h1m1 0h1m33 0h1M690 466.5h1m2 0h1m2 0h1m7 0h1m2 0h3m2 0h2m1 0h1m2 0h4m1 0h1m1 0h3m2 0h1m1 0h3m1 0h1m1 0h1m2 0h1m2 0h1m1 0h1m2 0h1m14 0h1m4 0h1m51 0h1M671 467.5h1m14 0h1m1 0h1m1 0h1m5 0h1m1 0h1m5 0h1m1 0h6m1 0h1m1 0h2m1 0h10m1 0h4m3 0h2m1 0h1m1 0h2m10 0h1M684 468.5h1m1 0h1m5 0h1m1 0h1m2 0h1m2 0h1m1 0h2m1 0h3m3 0h2m1 0h1m1 0h8m2 0h1m2 0h1m1 0h6m1 0h1m2 0h1m1 0h1m1 0h2m7 0h1m1 0h1m16 0h1m62 0h1m5 0h1M661 469.5h1m15 0h1m15 0h2m7 0h2m2 0h2m1 0h10m1 0h2m1 0h6m1 0h1m1 0h4m1 0h1m1 0h2m2 0h1m13 0h1m75 0h1m3 0h1m5 0h1M671 470.5h1m5 0h1m12 0h1m5 0h3m3 0h1m2 0h2m2 0h10m1 0h13m1 0h3m1 0h1m1 0h1m1 0h1m2 0h2m4 0h2m2 0h1m24 0h1m15 0h1m23 0h1m18 0h1M258 471.5h1m418 0h1m8 0h1m9 0h1m2 0h6m1 0h7m1 0h21m1 0h4m3 0h1m3 0h1m1 0h1m5 0h2m58 0h1m14 0h1M673 472.5h1m11 0h1m11 0h1m1 0h9m1 0h17m1 0h8m1 0h5m1 0h2m1 0h4m6 0h1m1 0h1m65 0h1M676 473.5h1m12 0h1m2 0h1m2 0h2m2 0h1m1 0h5m1 0h1m1 0h8m1 0h5m1 0h3m1 0h5m1 0h1m1 0h1m1 0h1m2 0h1m1 0h1m1 0h1m2 0h1m2 0h1m15 0h1m47 0h1M670 474.5h1m8 0h1m3 0h1m1 0h1m2 0h2m1 0h1m2 0h1m1 0h1m1 0h39m1 0h1m1 0h3m1 0h3m4 0h1m4 0h1m2 0h1m31 0h1m2 0h2M690 475.5h3m1 0h4m2 0h1m1 0h8m1 0h25m1 0h10m2 0h1m1 0h1m3 0h2m90 0h1M670 476.5h1m15 0h1m2 0h1m7 0h2m1 0h36m1 0h2m1 0h5m1 0h1m1 0h1m3 0h1m90 0h1M676 477.5h2m1 0h1m2 0h1m2 0h1m1 0h1m3 0h7m2 0h3m1 0h40m1 0h1m1 0h2m2 0h1m2 0h1m2 0h1m31 0h1m17 0h1M675 478.5h1m8 0h1m2 0h1m4 0h4m1 0h44m1 0h2m1 0h1m1 0h1m1 0h1m7 0h1m1 0h1m3 0h1m36 0h1M692 479.5h49m1 0h3m1 0h1m1 0h2m1 0h1m1 0h2m1 0h2m1 0h1m18 0h1m11 0h1m25 0h1M659 480.5h1m5 0h1m10 0h1m3 0h1m3 0h1m3 0h1m3 0h1m4 0h3m2 0h44m1 0h3m1 0h1m4 0h2m2 0h1m6 0h1m1 0h1m48 0h1M691 481.5h1m1 0h7m1 0h8m1 0h36m1 0h3m1 0h1m1 0h1m23 0h1m31 0h1m35 0h1M657 482.5h1m5 0h1m4 0h2m16 0h1m4 0h8m1 0h40m1 0h8m1 0h6m1 0h1m5 0h1m4 0h1m13 0h1m54 0h1m10 0h1M255 483.5h1m408 0h1m7 0h1m16 0h1m1 0h1m1 0h1m1 0h13m1 0h25m1 0h1m1 0h6m2 0h2m2 0h4m2 0h1m2 0h1m66 0h1M268 484.5h1m401 0h1m8 0h1m3 0h1m3 0h1m2 0h2m1 0h1m1 0h8m1 0h39m1 0h4m1 0h1m13 0h1m5 0h1m7 0h1m13 0h1M666 485.5h1m1 0h1m1 0h1m10 0h1m1 0h4m1 0h5m1 0h43m1 0h6m1 0h6m2 0h1m4 0h1m5 0h1m5 0h1m33 0h1m8 0h1M250 486.5h1m17 0h1m391 0h1m8 0h1m3 0h1m4 0h1m2 0h1m4 0h1m1 0h1m2 0h1m1 0h1m1 0h1m1 0h1m1 0h40m1 0h4m1 0h7m1 0h1m6 0h1m15 0h1m9 0h1m5 0h1m15 0h1m37 0h1M668 487.5h1m16 0h1m1 0h1m1 0h1m1 0h1m2 0h1m1 0h41m1 0h5m4 0h4m5 0h1m1 0h1m10 0h1m30 0h1M249 488.5h1m20 0h1m413 0h1m5 0h4m1 0h2m1 0h4m1 0h36m1 0h8m2 0h2m1 0h2m7 0h1m3 0h1m2 0h1M676 489.5h2m2 0h1m3 0h1m5 0h1m2 0h2m1 0h1m1 0h3m1 0h9m1 0h35m1 0h2m1 0h2m2 0h1m3 0h1m2 0h1m3 0h1m78 0h1M271 490.5h1m404 0h1m15 0h4m4 0h38m1 0h6m1 0h2m3 0h1m5 0h1m1 0h1m5 0h1m71 0h1M264 491.5h1m7 0h1m2 0h1m396 0h1m10 0h3m3 0h1m2 0h1m2 0h2m1 0h1m1 0h2m1 0h1m1 0h8m1 0h25m1 0h4m3 0h1m1 0h1m1 0h3m2 0h1m1 0h1m4 0h1M269 492.5h1m391 0h1m17 0h1m2 0h2m2 0h1m1 0h3m6 0h1m1 0h1m1 0h31m1 0h9m2 0h1m1 0h2m2 0h1m1 0h1m5 0h1m8 0h1m8 0h1m5 0h1M266 493.5h1m14 0h1m393 0h1m1 0h1m7 0h1m3 0h1m5 0h2m1 0h21m1 0h7m1 0h2m1 0h11m1 0h2m2 0h2m1 0h3m1 0h1m2 0h3m2 0h1m2 0h1m8 0h1m6 0h1m21 0h1m1 0h1M262 494.5h1m398 0h1m1 0h1m21 0h1m1 0h2m2 0h1m4 0h4m1 0h1m1 0h10m1 0h7m1 0h5m1 0h5m2 0h1m2 0h3m1 0h1m1 0h1m1 0h1m3 0h1m4 0h1m43 0h1m3 0h1M655 495.5h1m30 0h1m3 0h3m1 0h2m1 0h1m1 0h1m3 0h6m1 0h18m1 0h6m1 0h4m2 0h1m3 0h1m1 0h1m1 0h2m8 0h1m13 0h1m31 0h1m10 0h1m9 0h1M680 496.5h1m7 0h2m2 0h1m2 0h1m5 0h1m1 0h1m1 0h5m2 0h19m1 0h1m1 0h5m2 0h3m2 0h1m1 0h1m1 0h3m2 0h1m1 0h1m85 0h1M280 497.5h2m397 0h1m7 0h1m5 0h2m1 0h6m2 0h6m1 0h4m1 0h1m3 0h1m1 0h3m1 0h5m1 0h4m1 0h1m1 0h1m1 0h4m1 0h1m4 0h2m8 0h1m19 0h1m7 0h1m21 0h1M274 498.5h1m406 0h1m12 0h1m2 0h1m1 0h2m1 0h2m1 0h1m1 0h5m2 0h4m1 0h7m2 0h1m1 0h1m1 0h2m1 0h1m2 0h1m4 0h1m2 0h1m1 0h2m14 0h1m5 0h1M245 499.5h1m6 0h1m431 0h1m10 0h4m2 0h1m4 0h1m1 0h1m1 0h16m1 0h4m1 0h1m1 0h1m2 0h1m1 0h2m1 0h1m4 0h2m2 0h2m1 0h2m16 0h1M251 500.5h1m6 0h1m419 0h1m16 0h1m7 0h1m1 0h2m1 0h4m1 0h5m2 0h1m6 0h1m1 0h7m1 0h3m2 0h2m2 0h2m1 0h1m52 0h1M254 501.5h1m1 0h1m13 0h1m420 0h1m5 0h1m3 0h1m6 0h1m2 0h6m1 0h1m1 0h2m4 0h1m2 0h2m4 0h3m16 0h1m4 0h1m58 0h1m2 0h1m26 0h1M251 502.5h1m1 0h1m5 0h1m24 0h1m417 0h1m5 0h2m3 0h1m1 0h4m4 0h2m1 0h1m3 0h3m1 0h3m10 0h2m8 0h1m64 0h1M248 503.5h1m4 0h2m20 0h1m31 0h1m359 0h1m13 0h1m3 0h1m3 0h2m8 0h1m1 0h1m1 0h1m3 0h1m1 0h3m1 0h1m2 0h4m2 0h2m9 0h1m2 0h1m6 0h1m6 0h1m6 0h1m8 0h1M247 504.5h1m29 0h1m418 0h2m5 0h1m1 0h2m1 0h2m2 0h1m3 0h4m1 0h2m2 0h1m2 0h3m2 0h1m3 0h1m2 0h2m6 0h1m9 0h1m9 0h1m19 0h1m8 0h1m15 0h1M247 505.5h1m18 0h1m13 0h1m407 0h1m8 0h1m3 0h1m2 0h1m6 0h1m3 0h1m3 0h1m3 0h3m1 0h1m3 0h1m3 0h1m1 0h2m1 0h1m1 0h1m23 0h1m20 0h1m2 0h1m55 0h1M258 506.5h1m5 0h1m399 0h1m37 0h1m1 0h1m1 0h1m3 0h1m1 0h1m13 0h2m8 0h1m1 0h1m3 0h1m13 0h1m4 0h1m49 0h1m6 0h1M260 507.5h1m15 0h1m403 0h1m7 0h1m2 0h1m8 0h1m12 0h1m1 0h1m1 0h3m5 0h1m4 0h1m8 0h1m3 0h1m2 0h1m14 0h2m18 0h1M270 508.5h1m8 0h1m1 0h1m414 0h1m4 0h1m2 0h1m6 0h2m1 0h1m4 0h1m1 0h1m2 0h1m1 0h1m11 0h1m20 0h1m15 0h1m15 0h1m30 0h1M240 509.5h1m23 0h1m2 0h1m2 0h1m6 0h1m411 0h1m9 0h1m3 0h1m5 0h1m6 0h1m8 0h1m2 0h1m30 0h1m68 0h1M251 510.5h1m6 0h3m15 0h1m7 0h1m392 0h1m5 0h1m23 0h1m4 0h1m1 0h2m7 0h1m5 0h1m7 0h1m2 0h1M251 511.5h1m2 0h1m20 0h1m1 0h1m2 0h1m419 0h1m17 0h1m12 0h1m1 0h1m3 0h1m4 0h1m67 0h1m15 0h1m1 0h1M253 512.5h1m3 0h1m2 0h1m28 0h1m410 0h1m1 0h1m9 0h1m5 0h1m16 0h1m9 0h1m23 0h1m21 0h1M237 513.5h1m5 0h1m19 0h1m5 0h2m390 0h1m11 0h1m17 0h1m17 0h1m4 0h1m10 0h1m2 0h1m8 0h1m1 0h1m2 0h1m10 0h1m4 0h1M246 514.5h1m10 0h1m4 0h1m5 0h2m422 0h1m19 0h1m3 0h3m1 0h1m5 0h1m4 0h1m2 0h1m2 0h1m84 0h1M248 515.5h1m2 0h1m7 0h1m5 0h1m6 0h1m1 0h1m4 0h1m479 0h1M253 516.5h1m4 0h1m4 0h1m6 0h1m4 0h1m418 0h1m56 0h1m14 0h1M254 517.5h1m1 0h1m438 0h1m9 0h1m4 0h1m11 0h2m20 0h1M218 518.5h1m33 0h1m4 0h1m1 0h2m1 0h1m16 0h1m1 0h1M269 519.5h1m22 0h1m411 0h1m5 0h1M234 520.5h1m15 0h1m2 0h1m4 0h2m3 0h1m11 0h1m4 0h1m428 0h1m16 0h1m22 0h1m4 0h1m20 0h1M247 521.5h1m11 0h1m2 0h2m8 0h1m13 0h1m420 0h1m15 0h1m32 0h1M246 522.5h1m14 0h1m2 0h2m2 0h1m4 0h1m422 0h1m8 0h1m20 0h1m15 0h1m4 0h1M248 523.5h1m6 0h1m5 0h1m6 0h1m1 0h1m420 0h1m8 0h1m10 0h1m4 0h1m5 0h1m42 0h1m4 0h1M246 524.5h1m14 0h1m3 0h1m3 0h1m1 0h1m26 0h1m443 0h2m20 0h1M237 525.5h1m10 0h1m7 0h1m6 0h1m2 0h1m5 0h1m6 0h1m4 0h1m388 0h1m2 0h1m66 0h1m22 0h1M251 526.5h1m33 0h1m2 0h1m367 0h2m2 0h1m5 0h1m29 0h1m16 0h1m35 0h1m4 0h1m33 0h1M249 527.5h1m6 0h1m1 0h1m8 0h1m7 0h1m11 0h1m390 0h1M260 528.5h3m8 0h1m5 0h1m5 0h1m8 0h1m373 0h1m69 0h1m17 0h1m32 0h1M247 529.5h1m4 0h1m5 0h1m4 0h1m1 0h1m5 0h1m4 0h1m399 0h1m39 0h1m3 0h1m21 0h1m40 0h1M253 530.5h1m14 0h1m15 0h1m375 0h1m10 0h2m40 0h1m31 0h1m12 0h1m9 0h1M240 531.5h1m3 0h1m12 0h2m2 0h1m4 0h1m414 0h1m33 0h1m10 0h1m5 0h1m33 0h1m13 0h1M260 532.5h1m10 0h1m1 0h1m1 0h1m4 0h1m3 0h1m9 0h1m457 0h1m10 0h1M251 533.5h1m17 0h2m7 0h1m3 0h1m5 0h1m378 0h1m4 0h1m56 0h1m9 0h1m28 0h1M240 534.5h1m21 0h1m6 0h1m24 0h1m371 0h1m51 0h1m27 0h1m3 0h1M254 535.5h1m3 0h2m11 0h1m13 0h1m2 0h1m13 0h1m352 0h1M237 536.5h2m9 0h1m1 0h1m3 0h3m13 0h1m1 0h1m11 0h1m1 0h1m7 0h1m407 0h1m8 0h2m6 0h1m30 0h1M247 537.5h2m16 0h1m5 0h1m3 0h1m4 0h2m3 0h1m8 0h1m364 0h2m16 0h1m34 0h1m36 0h2m24 0h1M238 538.5h1m11 0h1m9 0h1m4 0h2m1 0h1m1 0h1m1 0h2m12 0h1m370 0h1m13 0h1m7 0h1m30 0h1m7 0h1m9 0h1M241 539.5h1m4 0h1m8 0h1m4 0h2m12 0h1m12 0h1m24 0h1m344 0h1m30 0h1m1 0h1m72 0h2m5 0h1m16 0h1M239 540.5h1m3 0h1m4 0h2m4 0h3m3 0h1m1 0h4m7 0h1m2 0h1m5 0h1m11 0h1m3 0h1m430 0h1m2 0h1m25 0h1m15 0h1m10 0h1M234 541.5h1m6 0h1m4 0h1m2 0h1m2 0h1m2 0h1m1 0h1m4 0h1m7 0h1m2 0h2m1 0h1m2 0h5m2 0h1m382 0h1m10 0h1m5 0h1m15 0h1m10 0h1m63 0h1m4 0h1M248 542.5h1m22 0h1m2 0h1m17 0h1m373 0h1m95 0h1M248 543.5h2m3 0h1m2 0h2m3 0h1m3 0h1m1 0h2m2 0h2m12 0h1m10 0h2m3 0h1m6 0h2m393 0h1m20 0h1m30 0h1m11 0h1m15 0h1M239 544.5h1m10 0h1m1 0h1m6 0h2m3 0h1m1 0h1m4 0h3m2 0h3m1 0h1m2 0h1m2 0h1m368 0h1m92 0h1m39 0h1M231 545.5h1m12 0h1m11 0h1m1 0h1m1 0h3m7 0h2m1 0h2m4 0h1m1 0h1m3 0h1m4 0h1m382 0h1m19 0h1m82 0h1m3 0h1m3 0h1M231 546.5h1m3 0h1m5 0h1m4 0h1m14 0h8m5 0h1m1 0h1m24 0h1m387 0h1m39 0h1m17 0h1M234 547.5h1m9 0h1m1 0h2m3 0h1m1 0h1m2 0h6m1 0h2m2 0h2m3 0h1m2 0h2m2 0h1m4 0h1m381 0h1m17 0h1m27 0h1m5 0h1m17 0h1m15 0h1m30 0h1M246 548.5h1m3 0h1m1 0h3m1 0h2m2 0h2m1 0h2m1 0h1m1 0h1m2 0h2m2 0h3m3 0h5m1 0h2m16 0h1m350 0h1m58 0h1m59 0h1M225 549.5h1m2 0h1m2 0h1m7 0h1m3 0h1m1 0h1m2 0h5m1 0h1m2 0h1m1 0h2m3 0h2m2 0h4m1 0h4m2 0h1m5 0h2m1 0h1m11 0h1m395 0h1m9 0h1m13 0h1m54 0h1m6 0h1M235 550.5h1m3 0h1m2 0h2m1 0h1m4 0h2m2 0h1m1 0h4m1 0h2m1 0h2m1 0h2m1 0h3m5 0h2m1 0h1m6 0h1m6 0h1m4 0h1m384 0h1m52 0h1m9 0h1m3 0h1m23 0h1M225 551.5h1m5 0h1m3 0h1m3 0h1m3 0h2m1 0h1m2 0h1m3 0h4m1 0h21m1 0h2m1 0h3m12 0h1m1 0h1m371 0h1m3 0h1m24 0h1m3 0h1m20 0h1m10 0h1m18 0h1m15 0h1M222 552.5h1m8 0h1m7 0h1m1 0h2m2 0h1m1 0h2m2 0h5m1 0h5m1 0h13m1 0h2m1 0h4m1 0h2m1 0h1m1 0h1m1 0h1m410 0h1m43 0h1M217 553.5h1m8 0h1m1 0h1m5 0h1m1 0h3m2 0h1m7 0h7m1 0h20m1 0h3m3 0h1m2 0h2m1 0h2m3 0h1m378 0h1m5 0h1m14 0h1M235 554.5h1m1 0h2m4 0h4m2 0h38m1 0h2m1 0h1m3 0h2m4 0h1m7 0h1m7 0h1m19 0h1m367 0h1m11 0h1m15 0h1m19 0h1m3 0h1m7 0h1m6 0h1M209 555.5h1m9 0h1m4 0h1m2 0h2m2 0h1m1 0h1m1 0h3m1 0h1m2 0h2m1 0h1m1 0h3m2 0h5m1 0h21m1 0h5m1 0h2m1 0h1m1 0h1m1 0h3m4 0h1m1 0h1m49 0h1m325 0h1m59 0h1m43 0h1M221 556.5h1m10 0h1m1 0h1m1 0h1m1 0h46m1 0h3m1 0h3m2 0h1m1 0h1m3 0h1m32 0h1m33 0h1m21 0h1m275 0h1m11 0h1m29 0h1m11 0h1m52 0h1m7 0h1M211 557.5h1m2 0h1m10 0h1m3 0h1m2 0h2m3 0h51m3 0h2m1 0h1m1 0h1m1 0h1m3 0h1m3 0h1m3 0h1m10 0h1m12 0h1m20 0h1m304 0h1m21 0h1m28 0h1m47 0h1m6 0h1m15 0h1M215 558.5h1m14 0h8m1 0h48m1 0h4m1 0h2m1 0h1m1 0h1m2 0h1m9 0h1m1 0h1m3 0h1m3 0h1m2 0h1m7 0h1m32 0h1m1 0h1m3 0h1m20 0h1m15 0h1m11 0h1m286 0h1M217 559.5h1m5 0h2m2 0h4m1 0h6m1 0h53m4 0h1m1 0h2m5 0h1m13 0h1m6 0h1m28 0h1m1 0h1m11 0h1m4 0h1m8 0h1m11 0h1m13 0h1m275 0h1m1 0h1m22 0h1m5 0h1m5 0h2m10 0h1m32 0h1M224 560.5h3m2 0h1m1 0h1m1 0h63m1 0h3m2 0h1m4 0h1m2 0h1m1 0h1m1 0h2m3 0h1m8 0h1m2 0h1m3 0h1m3 0h2m7 0h1m18 0h1m5 0h2m68 0h1m231 0h1m30 0h1m30 0h1M217 561.5h2m1 0h1m1 0h2m1 0h63m1 0h8m2 0h2m7 0h4m1 0h1m1 0h2m1 0h1m15 0h3m2 0h3m1 0h1m4 0h1m4 0h1m1 0h2m1 0h2m1 0h1m3 0h2m1 0h1m2 0h1m1 0h1m3 0h1m3 0h1m3 0h1m3 0h1m1 0h1m11 0h1m3 0h2m4 0h1m2 0h1m4 0h1m10 0h1m1 0h1m250 0h1m4 0h1m40 0h1m12 0h1m22 0h1M221 562.5h3m3 0h5m1 0h2m2 0h57m1 0h3m1 0h2m2 0h1m1 0h2m1 0h1m1 0h1m1 0h2m2 0h1m1 0h3m1 0h1m3 0h1m8 0h1m1 0h1m1 0h3m1 0h2m6 0h1m3 0h1m1 0h1m1 0h1m6 0h1m12 0h1m2 0h2m5 0h1m8 0h2m1 0h1m6 0h1m13 0h1m17 0h1m3 0h1m211 0h1m21 0h1m2 0h1m11 0h1m38 0h1m27 0h1m74 0h1M219 563.5h1m1 0h1m1 0h2m1 0h62m1 0h15m2 0h2m3 0h2m1 0h1m7 0h1m3 0h2m2 0h1m1 0h1m4 0h2m3 0h1m3 0h2m2 0h1m2 0h1m2 0h1m2 0h1m8 0h1m8 0h2m1 0h1m7 0h2m2 0h2m2 0h1m1 0h2m6 0h1m2 0h1m5 0h1m2 0h1m5 0h1m2 0h1m1 0h1m5 0h1m1 0h1m3 0h1m2 0h1m218 0h1m41 0h1m63 0h1m1 0h1M209 564.5h1m10 0h1m1 0h1m3 0h66m2 0h2m3 0h1m2 0h1m1 0h3m5 0h1m3 0h1m3 0h2m2 0h1m4 0h1m1 0h1m1 0h2m1 0h1m3 0h1m1 0h1m9 0h1m3 0h1m1 0h1m5 0h2m2 0h1m2 0h1m1 0h1m1 0h1m3 0h1m1 0h1m1 0h1m5 0h1m1 0h1m9 0h1m1 0h1m2 0h4m1 0h1m5 0h1m2 0h2m2 0h1m1 0h2m4 0h2m2 0h2m1 0h1m233 0h2m36 0h1m8 0h1m33 0h1m4 0h1m7 0h2M215 565.5h1m3 0h1m4 0h1m2 0h6m1 0h53m1 0h1m1 0h3m2 0h1m1 0h3m1 0h1m1 0h2m1 0h1m1 0h1m8 0h1m8 0h3m7 0h2m3 0h1m1 0h1m4 0h1m2 0h2m1 0h2m5 0h1m1 0h1m3 0h5m2 0h1m4 0h2m1 0h2m1 0h1m1 0h5m5 0h1m1 0h1m5 0h1m3 0h1m3 0h2m3 0h3m2 0h1m5 0h1m2 0h1m1 0h1m1 0h1m5 0h1m213 0h1m22 0h1m79 0h1m23 0h2m31 0h1m11 0h1M215 566.5h1m7 0h1m1 0h3m1 0h2m2 0h1m1 0h45m1 0h8m3 0h3m2 0h2m1 0h2m3 0h1m6 0h1m3 0h1m3 0h1m5 0h1m3 0h2m3 0h1m3 0h2m1 0h1m6 0h1m2 0h1m2 0h4m5 0h1m5 0h1m7 0h1m3 0h1m5 0h1m2 0h3m4 0h3m1 0h1m6 0h2m2 0h3m2 0h2m3 0h2m2 0h2m5 0h1m3 0h1m252 0h1m1 0h1m14 0h1m29 0h1m17 0h1m26 0h1m35 0h1M221 567.5h1m1 0h1m2 0h1m1 0h53m2 0h3m1 0h4m10 0h1m8 0h1m2 0h2m13 0h1m7 0h1m5 0h5m1 0h1m4 0h1m7 0h2m6 0h1m2 0h1m1 0h1m3 0h1m1 0h1m5 0h1m2 0h1m6 0h1m7 0h1m4 0h2m5 0h2m8 0h1m8 0h1m2 0h1m1 0h2m1 0h1m229 0h1m30 0h2m6 0h1m4 0h1m20 0h1m20 0h1m9 0h1m54 0h1m16 0h1m9 0h1M217 568.5h1m5 0h1m1 0h1m1 0h1m2 0h1m1 0h1m1 0h2m1 0h37m1 0h4m1 0h1m1 0h2m1 0h2m4 0h4m5 0h1m3 0h1m2 0h2m7 0h2m1 0h1m29 0h1m11 0h1m10 0h1m3 0h2m3 0h1m6 0h1m10 0h1m7 0h2m4 0h1m5 0h2m4 0h1m5 0h1m4 0h2m1 0h1m4 0h1m210 0h2m53 0h1m95 0h1m28 0h1m20 0h1M216 569.5h1m4 0h1m3 0h1m1 0h1m1 0h1m1 0h1m1 0h2m2 0h2m1 0h4m1 0h7m1 0h4m1 0h3m1 0h15m1 0h2m7 0h1m2 0h1m12 0h1m24 0h1m13 0h1m3 0h1m21 0h1m5 0h1m2 0h1m2 0h1m2 0h3m3 0h1m3 0h1m10 0h1m4 0h1m6 0h3m3 0h1m3 0h1m1 0h1m2 0h1m1 0h1m5 0h1m221 0h1m36 0h1m2 0h1m3 0h1m2 0h1m2 0h1m1 0h2m29 0h1m12 0h2m15 0h1m2 0h1m6 0h1m31 0h1m7 0h2m3 0h1m1 0h1m3 0h1m4 0h1m1 0h1m2 0h1m2 0h3m2 0h1M223 570.5h2m7 0h2m1 0h1m2 0h10m2 0h3m1 0h6m1 0h1m2 0h7m1 0h8m6 0h1m1 0h1m22 0h1m5 0h1m3 0h1m11 0h1m7 0h1m1 0h1m7 0h1m2 0h1m1 0h2m4 0h1m19 0h1m19 0h1m1 0h2m8 0h1m2 0h2m6 0h1m2 0h1m15 0h1m198 0h1m5 0h1m16 0h1m3 0h1m2 0h1m22 0h1m18 0h2m1 0h1m18 0h2m2 0h1m20 0h1m18 0h1m10 0h1m6 0h1m11 0h1m7 0h1m1 0h1m1 0h1m1 0h2m1 0h2m1 0h1m1 0h1m6 0h1m7 0h1m7 0h1M221 571.5h1m8 0h1m4 0h1m1 0h1m4 0h1m1 0h2m1 0h1m1 0h1m3 0h1m1 0h2m4 0h6m3 0h3m2 0h1m4 0h1m3 0h1m2 0h1m50 0h1m14 0h1m17 0h1m51 0h1m2 0h2m227 0h1m18 0h1m7 0h1m1 0h1m1 0h1m6 0h1m3 0h2m1 0h1m9 0h1m3 0h1m5 0h1m43 0h1m4 0h1m1 0h1m3 0h1m12 0h1m12 0h1m9 0h1m2 0h1m1 0h1m3 0h2m7 0h4m1 0h3m11 0h4M225 572.5h2m4 0h1m4 0h1m9 0h2m1 0h1m5 0h1m5 0h3m3 0h2m1 0h2m1 0h1m7 0h2m9 0h1m36 0h1m26 0h1m27 0h1m4 0h1m32 0h1m3 0h1m7 0h3m1 0h1m5 0h1m203 0h2m5 0h1m3 0h1m2 0h1m2 0h1m2 0h2m2 0h1m3 0h1m1 0h1m16 0h2m13 0h2m10 0h1m1 0h1m2 0h1m13 0h1m11 0h1m14 0h1m4 0h1m2 0h1m2 0h1m2 0h1m1 0h1m4 0h1m15 0h1m9 0h1m2 0h2m4 0h1m5 0h1m1 0h2m1 0h3m4 0h2m3 0h1m2 0h2m15 0h1M256 573.5h1m3 0h2m5 0h1m4 0h1m6 0h1m17 0h1m57 0h1m39 0h1m5 0h1m17 0h1m3 0h1m15 0h1m202 0h1m2 0h1m3 0h1m1 0h2m12 0h1m1 0h1m5 0h1m2 0h1m1 0h1m3 0h1m2 0h1m2 0h1m7 0h1m6 0h1m3 0h1m23 0h2m5 0h1m2 0h1m2 0h1m10 0h1m4 0h1m1 0h2m9 0h2m21 0h1m2 0h1m8 0h3m1 0h2m2 0h6m2 0h1m1 0h5m1 0h6m4 0h3m1 0h2m1 0h1m3 0h1m1 0h2m1 0h1M235 574.5h1m16 0h1m2 0h1m12 0h1m11 0h1m135 0h2m14 0h1m225 0h3m7 0h1m4 0h1m4 0h2m1 0h1m1 0h1m1 0h1m1 0h1m7 0h2m3 0h2m3 0h2m4 0h2m5 0h3m4 0h1m6 0h1m12 0h1m11 0h1m12 0h1m5 0h1m3 0h1m5 0h1m3 0h1m12 0h1m1 0h1m1 0h2m1 0h2m1 0h1m1 0h2m2 0h2m1 0h7m1 0h3m1 0h3m1 0h2m1 0h2m1 0h1m1 0h2m9 0h1M404 575.5h1m238 0h1m2 0h1m14 0h1m1 0h1m2 0h1m7 0h2m6 0h1m5 0h1m1 0h1m2 0h2m7 0h1m4 0h1m3 0h2m10 0h1m2 0h1m4 0h1m8 0h1m2 0h1m1 0h2m2 0h1m6 0h1m2 0h2m9 0h1m10 0h2m15 0h1m5 0h5m1 0h2m1 0h1m1 0h5m1 0h1m1 0h11m2 0h2m1 0h5m1 0h2m3 0h1m1 0h2m1 0h2m9 0h1M243 576.5h1m398 0h1m4 0h1m3 0h1m6 0h1m1 0h1m9 0h1m2 0h2m1 0h2m3 0h1m7 0h1m5 0h2m7 0h1m2 0h2m7 0h1m1 0h1m5 0h1m2 0h1m5 0h1m6 0h1m3 0h1m7 0h1m1 0h2m6 0h3m1 0h1m3 0h2m4 0h1m1 0h1m5 0h1m7 0h1m7 0h1m1 0h1m1 0h1m2 0h3m2 0h1m1 0h6m1 0h1m1 0h4m1 0h12m1 0h5m3 0h1m2 0h1m2 0h1m5 0h1M253 577.5h1m5 0h1m16 0h1m368 0h1m2 0h1m5 0h1m8 0h1m1 0h1m3 0h4m11 0h1m12 0h1m1 0h1m5 0h4m5 0h2m1 0h3m1 0h1m2 0h1m2 0h2m3 0h1m3 0h1m2 0h1m3 0h1m3 0h1m1 0h1m5 0h2m2 0h1m2 0h1m2 0h2m1 0h3m2 0h1m6 0h1m2 0h1m8 0h1m5 0h1m2 0h2m3 0h22m1 0h11m1 0h6m2 0h1m1 0h2m1 0h3m1 0h1m1 0h1m7 0h2M643 578.5h1m5 0h3m3 0h1m2 0h1m1 0h1m1 0h1m1 0h2m1 0h1m2 0h2m2 0h2m3 0h1m1 0h1m2 0h1m2 0h2m2 0h2m2 0h4m2 0h1m3 0h1m2 0h1m1 0h4m2 0h1m4 0h1m2 0h2m1 0h1m1 0h2m3 0h1m1 0h1m2 0h1m1 0h1m9 0h1m8 0h3m2 0h1m2 0h1m4 0h1m1 0h1m1 0h1m3 0h1m3 0h1m6 0h1m2 0h3m1 0h1m1 0h1m2 0h1m2 0h46m2 0h4m1 0h2M259 579.5h1m387 0h1m3 0h2m1 0h1m4 0h2m1 0h2m7 0h2m1 0h1m4 0h3m1 0h1m2 0h3m1 0h1m1 0h2m4 0h1m5 0h3m2 0h1m1 0h1m8 0h2m1 0h1m4 0h1m3 0h1m1 0h2m2 0h1m1 0h4m7 0h2m1 0h2m9 0h3m3 0h1m1 0h1m3 0h1m2 0h2m1 0h1m1 0h1m2 0h2m3 0h1m4 0h1m1 0h1m2 0h1m1 0h6m1 0h32m1 0h9m3 0h2m2 0h1m2 0h1m1 0h1m4 0h1M643 580.5h1m4 0h1m2 0h1m2 0h1m6 0h1m2 0h3m9 0h1m3 0h1m1 0h4m1 0h2m6 0h1m2 0h1m1 0h1m10 0h1m1 0h1m2 0h1m1 0h1m3 0h1m4 0h1m1 0h2m2 0h1m1 0h2m1 0h1m2 0h4m1 0h4m1 0h1m2 0h3m2 0h1m1 0h1m13 0h2m4 0h1m1 0h2m1 0h1m3 0h2m1 0h2m1 0h1m1 0h1m2 0h49m1 0h2m1 0h1m2 0h3m8 0h1m2 0h1M643 581.5h1m2 0h1m1 0h1m1 0h3m2 0h1m1 0h2m1 0h1m1 0h2m1 0h1m2 0h1m4 0h2m4 0h2m3 0h1m7 0h2m3 0h1m2 0h1m2 0h1m2 0h2m4 0h1m1 0h1m5 0h1m1 0h4m2 0h1m1 0h1m1 0h1m5 0h2m1 0h2m1 0h2m3 0h1m5 0h1m5 0h2m1 0h2m1 0h4m2 0h5m2 0h4m1 0h1m2 0h2m1 0h1m5 0h3m1 0h2m1 0h55m2 0h1m8 0h1m5 0h1M642 582.5h1m3 0h1m5 0h3m5 0h5m1 0h1m2 0h3m1 0h5m1 0h3m5 0h2m1 0h2m3 0h1m2 0h4m1 0h1m3 0h2m1 0h1m4 0h2m3 0h1m1 0h2m1 0h1m4 0h3m2 0h1m1 0h4m1 0h2m5 0h1m2 0h1m1 0h1m3 0h1m1 0h1m4 0h3m3 0h1m6 0h1m2 0h1m3 0h2m3 0h1m3 0h1m2 0h60m1 0h2m1 0h1m2 0h2m1 0h2m4 0h1m1 0h1M643 583.5h3m1 0h2m1 0h1m3 0h2m1 0h1m1 0h1m2 0h1m1 0h2m1 0h2m5 0h1m2 0h1m4 0h1m2 0h1m3 0h1m1 0h3m1 0h5m5 0h1m2 0h1m2 0h3m6 0h1m1 0h1m3 0h2m3 0h1m1 0h2m1 0h3m3 0h1m1 0h1m3 0h3m2 0h1m10 0h2m1 0h2m1 0h1m1 0h3m2 0h2m1 0h2m1 0h4m2 0h1m2 0h1m2 0h1m2 0h59m1 0h2m1 0h1m4 0h5m15 0h1m9 0h1M642 584.5h3m3 0h2m2 0h2m1 0h1m1 0h1m2 0h2m1 0h1m1 0h1m1 0h1m2 0h1m2 0h2m2 0h2m1 0h2m1 0h1m2 0h2m2 0h2m1 0h1m2 0h1m3 0h1m3 0h3m6 0h1m3 0h1m1 0h1m2 0h1m2 0h2m4 0h1m2 0h2m1 0h1m3 0h1m4 0h1m3 0h1m1 0h5m3 0h1m4 0h2m6 0h2m2 0h1m2 0h3m2 0h4m3 0h1m2 0h3m1 0h55m1 0h4m2 0h4m2 0h3m4 0h1M642 585.5h1m2 0h3m2 0h3m9 0h2m2 0h1m2 0h1m1 0h1m2 0h1m1 0h3m1 0h2m2 0h3m6 0h1m5 0h1m1 0h1m1 0h1m1 0h2m1 0h1m2 0h1m2 0h3m3 0h1m2 0h1m1 0h1m1 0h2m2 0h1m2 0h2m7 0h2m6 0h1m1 0h1m1 0h4m1 0h1m3 0h2m3 0h1m1 0h2m1 0h2m1 0h1m1 0h2m2 0h1m1 0h4m1 0h2m1 0h1m1 0h2m2 0h5m1 0h59m1 0h2m2 0h1m2 0h1m8 0h1M649 586.5h1m5 0h2m1 0h2m2 0h2m1 0h1m2 0h1m5 0h1m3 0h1m3 0h1m4 0h1m3 0h1m7 0h3m1 0h1m1 0h2m2 0h1m2 0h3m1 0h1m4 0h2m7 0h2m2 0h2m4 0h1m2 0h2m2 0h1m2 0h1m1 0h1m1 0h1m4 0h1m5 0h1m6 0h1m5 0h1m2 0h5m2 0h1m4 0h3m4 0h60m1 0h2m2 0h1M642 587.5h1m3 0h2m4 0h1m3 0h1m2 0h1m6 0h1m1 0h1m1 0h1m1 0h1m1 0h1m3 0h1m7 0h1m2 0h3m1 0h1m1 0h1m4 0h1m3 0h1m1 0h1m1 0h1m4 0h2m3 0h1m2 0h1m5 0h2m11 0h2m4 0h1m1 0h1m5 0h1m7 0h1m1 0h1m1 0h2m2 0h1m11 0h1m2 0h7m2 0h66m1 0h2m5 0h1M647 588.5h1m1 0h3m3 0h1m1 0h1m1 0h1m5 0h1m6 0h2m2 0h2m3 0h1m2 0h1m2 0h1m3 0h1m2 0h1m1 0h1m1 0h1m3 0h1m3 0h1m1 0h1m1 0h1m1 0h1m4 0h1m12 0h2m1 0h1m6 0h1m4 0h1m4 0h3m2 0h1m1 0h1m3 0h1m4 0h1m3 0h1m1 0h1m4 0h2m3 0h1m1 0h2m2 0h1m3 0h1m1 0h3m2 0h52m1 0h4m1 0h4m1 0h1m1 0h1m1 0h2m19 0h1M644 589.5h1m3 0h1m4 0h1m2 0h1m3 0h1m3 0h1m1 0h1m3 0h1m2 0h1m7 0h1m4 0h1m3 0h2m2 0h1m1 0h1m5 0h1m1 0h1m4 0h2m1 0h1m8 0h1m7 0h2m3 0h1m1 0h1m1 0h1m5 0h1m7 0h1m6 0h2m3 0h1m1 0h2m3 0h1m1 0h1m3 0h1m1 0h1m1 0h1m1 0h2m4 0h3m1 0h6m1 0h57m2 0h3m2 0h1m2 0h2M654 590.5h1m2 0h1m1 0h2m13 0h1m16 0h2m2 0h1m1 0h2m1 0h1m1 0h2m5 0h1m5 0h1m3 0h1m7 0h1m1 0h1m1 0h1m2 0h1m2 0h1m3 0h4m3 0h1m4 0h1m7 0h1m4 0h1m3 0h2m6 0h1m1 0h1m3 0h3m1 0h1m7 0h3m1 0h48m1 0h9m1 0h3m1 0h1m8 0h1M650 591.5h2m1 0h2m8 0h1m5 0h1m7 0h1m4 0h1m12 0h2m7 0h1m16 0h1m2 0h1m4 0h1m7 0h1m1 0h2m2 0h1m10 0h2m11 0h1m7 0h1m1 0h2m1 0h1m2 0h1m1 0h2m2 0h1m1 0h3m2 0h12m1 0h39m1 0h6m1 0h2m1 0h1m1 0h3m4 0h2m1 0h1m11 0h1m7 0h1M644 592.5h1m9 0h1m12 0h2m4 0h1m10 0h2m7 0h1m3 0h1m13 0h1m7 0h1m7 0h1m9 0h1m22 0h1m3 0h1m2 0h1m23 0h1m2 0h3m1 0h46m1 0h7m3 0h1m3 0h1m6 0h2m6 0h1M645 593.5h1m32 0h1m2 0h1m6 0h1m2 0h1m5 0h1m14 0h1m30 0h1m1 0h1m2 0h1m2 0h1m4 0h1m5 0h1m17 0h1m2 0h1m1 0h1m1 0h1m1 0h1m3 0h1m1 0h1m6 0h47m1 0h4m1 0h1m9 0h1M661 594.5h1m1 0h1m10 0h1m9 0h1m1 0h1m5 0h1m21 0h1m26 0h1m2 0h1m22 0h1m15 0h1m1 0h3m1 0h1m3 0h1m1 0h56m1 0h6m1 0h1m2 0h2m13 0h1M671 595.5h1m7 0h1m7 0h1m49 0h1m14 0h1m12 0h1m19 0h1m10 0h1m2 0h1m1 0h2m1 0h2m1 0h29m1 0h10m1 0h6m1 0h6m1 0h1m2 0h1m1 0h1m2 0h1M647 596.5h1m22 0h1m7 0h1m4 0h1m18 0h1m1 0h1m75 0h1m13 0h1m1 0h2m2 0h4m1 0h1m1 0h1m1 0h5m1 0h4m1 0h18m1 0h1m1 0h5m1 0h1m1 0h1m1 0h1m1 0h1m1 0h1m5 0h1m1 0h1m1 0h2m2 0h1m14 0h1M681 597.5h1m33 0h1m5 0h1m23 0h1m9 0h1m16 0h1m8 0h1m13 0h1m6 0h1m1 0h3m1 0h1m1 0h22m4 0h5m1 0h1m1 0h2m1 0h2m1 0h3m6 0h1m4 0h1M653 598.5h1m130 0h1m1 0h1m4 0h2m1 0h3m3 0h4m1 0h2m1 0h1m1 0h2m2 0h2m1 0h2m1 0h11m1 0h1m2 0h3m1 0h4m1 0h1m1 0h3m2 0h2m1 0h1m3 0h1m8 0h1m3 0h1M703 599.5h1m69 0h1m7 0h1m1 0h1m4 0h1m3 0h1m8 0h5m1 0h1m2 0h4m1 0h1m1 0h1m1 0h1m1 0h2m1 0h2m2 0h1m1 0h4m1 0h4m1 0h6m1 0h1m1 0h2m4 0h1m7 0h1m4 0h1M786 600.5h1m6 0h1m1 0h1m9 0h1m1 0h3m1 0h2m3 0h1m2 0h3m1 0h3m1 0h2m1 0h1m1 0h1m2 0h1m2 0h2m1 0h2m1 0h5m8 0h1m8 0h1M761 601.5h1m18 0h1m3 0h1m17 0h1m1 0h2m4 0h1m5 0h1m6 0h1m2 0h6m1 0h2m5 0h1m1 0h2m3 0h1M796 602.5h2m6 0h1m7 0h2m3 0h1m1 0h1m3 0h1m1 0h1m1 0h1m4 0h3m5 0h5m6 0h1m1 0h1m2 0h1m5 0h1M775 603.5h1m6 0h1m8 0h1m1 0h1m17 0h2m2 0h1m2 0h1m3 0h1m3 0h1m7 0h1m3 0h1m4 0h1m8 0h1m8 0h1m8 0h1m1 0h1M785 604.5h1m14 0h1m24 0h1m4 0h1m2 0h1m4 0h1m9 0h2m4 0h1m6 0h1M780 605.5h1m26 0h1m12 0h2m10 0h1m6 0h1m1 0h2m11 0h1m3 0h1m7 0h1M783 606.5h1m49 0h1m6 0h1m1 0h1m1 0h1M810 607.5h1m2 0h1m27 0h1m2 0h1M825 608.5h1m4 0h1m13 0h1M810 609.5h1m2 0h1m27 0h1M822 611.5h1M817 612.5h1M277 805.5h1M282 807.5h1m4 0h1m7 0h1M237 809.5h1M260 811.5h1m13 0h1m3 0h1m10 0h1M224 813.5h1m62 0h1M278 814.5h1m17 0h1M246 815.5h1m4 0h1m9 0h1m17 0h1m6 0h1M244 816.5h1m15 0h1m1 0h1m26 0h1m11 0h1M260 817.5h1m21 0h1M254 818.5h1m23 0h1m5 0h1M223 819.5h1m18 0h1m8 0h1m15 0h1m1 0h1m16 0h1M249 820.5h1m26 0h1m7 0h1m14 0h1m21 0h1M242 821.5h1m5 0h2m5 0h1m1 0h1m8 0h1M256 822.5h1m4 0h1m33 0h1M212 823.5h1m36 0h2m18 0h2M249 824.5h1M240 825.5h1m20 0h1m15 0h1m31 0h1M278 826.5h1m17 0h1M247 827.5h1m10 0h1m11 0h1m9 0h1M234 828.5h1m25 0h1m2 0h1m7 0h1m12 0h1m14 0h1M246 829.5h1m10 0h1m2 0h1m33 0h1M264 830.5h1M275 831.5h1m5 0h1m7 0h1m42 0h1M266 832.5h1m17 0h1m25 0h1M271 833.5h1M249 834.5h2m31 0h1M241 835.5h1m26 0h1m8 0h1M219 836.5h1m17 0h1m22 0h1m2 0h1m10 0h1M284 838.5h1M277 839.5h1m3 0h1M292 840.5h1M242 841.5h1m22 0h1m1 0h1m1 0h1m4 0h1m2 0h1m4 0h1m6 0h1m2 0h2M272 842.5h1m3 0h1m2 0h2m9 0h1m4 0h1m7 0h1M252 843.5h1m34 0h1m17 0h1m4 0h1M244 844.5h1m30 0h2m2 0h1m6 0h1m15 0h1M244 845.5h1m11 0h1m1 0h2m9 0h1m2 0h1m3 0h1m2 0h2m5 0h1m6 0h1m6 0h1M237 846.5h1m8 0h1m7 0h1m16 0h1m1 0h1m10 0h1m5 0h2M243 847.5h1m16 0h1m1 0h1m6 0h2m5 0h5m1 0h1m2 0h2m6 0h2m14 0h1m2 0h2M257 848.5h1m1 0h1m5 0h3m1 0h1m1 0h2m3 0h1m1 0h2m1 0h2m1 0h1m1 0h2m1 0h2m3 0h1M255 849.5h1m7 0h1m1 0h2m5 0h1m1 0h1m1 0h4m1 0h2m1 0h1m2 0h2m2 0h1m2 0h1m1 0h1m2 0h1M251 850.5h1m2 0h1m6 0h1m2 0h1m1 0h2m1 0h1m3 0h1m2 0h3m1 0h3m1 0h1m2 0h4m1 0h1m1 0h3m5 0h1m1 0h1m3 0h1M233 851.5h1m10 0h1m9 0h1m4 0h7m3 0h1m3 0h4m1 0h4m1 0h2m5 0h1m2 0h2m4 0h1m1 0h1M231 852.5h1m1 0h1m7 0h1m6 0h1m12 0h2m1 0h2m2 0h5m1 0h1m1 0h1m1 0h4m3 0h4m6 0h4m2 0h1m5 0h1M228 853.5h1m9 0h1m5 0h1m6 0h1m3 0h1m1 0h4m1 0h3m1 0h19m2 0h1m1 0h3m2 0h1m1 0h1m5 0h1m8 0h1M205 854.5h1m28 0h1m3 0h1m1 0h1m3 0h1m2 0h1m2 0h1m3 0h1m2 0h1m1 0h3m4 0h1m1 0h6m1 0h2m1 0h5m1 0h2m1 0h2m2 0h3m2 0h4m2 0h2m4 0h1M237 855.5h2m6 0h1m4 0h1m3 0h1m3 0h1m1 0h3m1 0h6m1 0h1m1 0h6m1 0h3m1 0h7m1 0h4m1 0h1m3 0h1m3 0h1m6 0h1M217 856.5h1m28 0h1m1 0h1m1 0h1m8 0h2m1 0h1m2 0h4m1 0h13m1 0h1m1 0h2m3 0h7m2 0h1m1 0h2m1 0h1m6 0h1m1 0h1m110 0h1M211 857.5h1m21 0h1m7 0h2m1 0h1m2 0h1m2 0h1m1 0h1m1 0h3m1 0h1m2 0h1m1 0h9m1 0h12m2 0h3m1 0h2m1 0h1m1 0h1m2 0h1m1 0h1m1 0h2m1 0h1m1 0h2m1 0h1m48 0h1m35 0h1M217 858.5h1m4 0h1m11 0h1m17 0h1m2 0h5m1 0h1m1 0h13m1 0h10m1 0h3m2 0h3m1 0h1m1 0h2m2 0h1m2 0h1m7 0h1M223 859.5h1m14 0h2m8 0h1m2 0h4m1 0h1m1 0h5m1 0h8m1 0h3m1 0h4m1 0h8m1 0h7m2 0h6m1 0h1m95 0h1M237 860.5h1m5 0h1m3 0h1m3 0h2m2 0h4m1 0h2m1 0h22m1 0h1m1 0h2m1 0h5m1 0h3m3 0h1m1 0h1m3 0h3m110 0h1M211 861.5h1m1 0h1m10 0h1m2 0h1m4 0h1m1 0h1m8 0h1m1 0h2m2 0h1m6 0h1m1 0h1m2 0h1m1 0h1m1 0h2m1 0h31m2 0h2m12 0h1m5 0h1m26 0h1m60 0h1M197 862.5h1m30 0h1m4 0h1m5 0h4m5 0h1m1 0h1m2 0h4m1 0h2m1 0h1m1 0h31m1 0h2m2 0h1m3 0h1m1 0h4m1 0h1m4 0h1m8 0h1m81 0h1M214 863.5h1m3 0h1m4 0h1m3 0h1m6 0h2m1 0h1m2 0h1m8 0h3m1 0h7m1 0h1m1 0h2m1 0h28m1 0h3m1 0h3m1 0h1m1 0h2m1 0h1m2 0h1m25 0h1m38 0h1m54 0h1M216 864.5h1m1 0h1m5 0h1m11 0h1m6 0h1m2 0h1m2 0h1m3 0h4m1 0h48m2 0h1m86 0h1m19 0h1M217 865.5h2m20 0h2m2 0h1m1 0h1m2 0h41m1 0h2m1 0h2m1 0h3m1 0h3m2 0h1m3 0h2M210 866.5h1m4 0h1m5 0h1m8 0h1m3 0h1m1 0h1m7 0h1m1 0h1m2 0h5m2 0h44m1 0h2m1 0h1m8 0h2m1 0h1m4 0h1m10 0h1m106 0h1M213 867.5h1m7 0h1m4 0h1m2 0h1m2 0h1m5 0h1m2 0h1m1 0h1m2 0h6m2 0h43m1 0h2m1 0h1m1 0h3m1 0h1m4 0h2m13 0h1M211 868.5h1m3 0h1m1 0h1m3 0h1m15 0h2m1 0h2m1 0h2m1 0h1m1 0h6m1 0h8m1 0h33m1 0h6m1 0h1m1 0h1m91 0h1m26 0h1M226 869.5h1m14 0h4m2 0h2m1 0h1m1 0h2m2 0h3m1 0h41m1 0h2m1 0h2m2 0h1m1 0h1m2 0h1m1 0h1m40 0h1m57 0h1M217 870.5h1m3 0h1m13 0h2m1 0h3m4 0h2m1 0h16m1 0h29m1 0h3m1 0h4m3 0h2m3 0h1m1 0h3m59 0h1m12 0h1m49 0h1M209 871.5h2m1 0h1m6 0h2m2 0h1m2 0h1m7 0h2m1 0h3m2 0h2m1 0h9m1 0h41m2 0h2m1 0h4m1 0h2m1 0h2m4 0h4m17 0h1m36 0h1m18 0h1m12 0h1m11 0h1M214 872.5h1m8 0h2m3 0h1m3 0h2m1 0h1m3 0h1m1 0h1m1 0h4m1 0h3m1 0h6m1 0h33m1 0h11m1 0h1m3 0h6m3 0h1m45 0h1m53 0h1M201 873.5h1m3 0h1m8 0h2m2 0h1m1 0h1m4 0h1m4 0h1m1 0h2m2 0h1m1 0h9m2 0h4m1 0h3m1 0h6m1 0h26m1 0h11m2 0h3m1 0h2m2 0h1m2 0h1m1 0h1m1 0h1m3 0h1m41 0h1m52 0h1m18 0h1M199 874.5h1m1 0h1m6 0h1m1 0h1m8 0h1m4 0h1m5 0h1m1 0h1m1 0h2m4 0h2m1 0h3m1 0h1m1 0h9m1 0h36m1 0h6m1 0h1m3 0h1m1 0h3m3 0h1m53 0h1M207 875.5h1m4 0h1m5 0h1m2 0h1m3 0h1m1 0h1m3 0h3m2 0h2m1 0h2m1 0h3m1 0h1m2 0h3m1 0h4m1 0h42m1 0h4m2 0h1m5 0h1m6 0h1m41 0h1m4 0h1m27 0h1M207 876.5h1m3 0h1m1 0h1m4 0h1m1 0h2m10 0h1m1 0h3m1 0h1m3 0h58m1 0h2m1 0h3m4 0h1m3 0h1m2 0h1m61 0h1m1 0h1m4 0h1m10 0h1m1 0h2m9 0h1M205 877.5h1m6 0h1m12 0h1m2 0h1m1 0h1m1 0h2m3 0h2m1 0h5m1 0h51m1 0h2m3 0h1m4 0h1m1 0h1m2 0h1m2 0h1m3 0h1m5 0h1m30 0h1m28 0h1m18 0h1M217 878.5h3m1 0h1m2 0h2m1 0h1m3 0h1m1 0h2m2 0h4m1 0h54m2 0h3m1 0h2m1 0h3m4 0h1m3 0h1m41 0h1m4 0h1m2 0h1m23 0h1m10 0h1m3 0h1m6 0h1M200 879.5h1m4 0h1m3 0h2m1 0h1m2 0h1m5 0h3m3 0h1m1 0h2m1 0h1m1 0h3m1 0h2m2 0h3m1 0h2m1 0h6m1 0h28m1 0h7m1 0h6m1 0h1m1 0h1m2 0h1m10 0h1m3 0h1m12 0h1m35 0h1m1 0h1m62 0h1M202 880.5h2m4 0h1m3 0h1m4 0h1m7 0h2m1 0h1m1 0h2m1 0h2m1 0h1m1 0h1m1 0h27m1 0h9m1 0h8m2 0h8m1 0h1m1 0h2m5 0h1m4 0h1m2 0h1m5 0h2m67 0h1m26 0h1m20 0h1M197 881.5h1m3 0h1m4 0h1m5 0h2m1 0h2m2 0h3m1 0h1m1 0h1m1 0h2m1 0h15m1 0h46m1 0h1m1 0h4m1 0h3m2 0h1m1 0h1m5 0h1m3 0h1m55 0h1m11 0h1m19 0h1m20 0h1M196 882.5h1m12 0h1m6 0h2m1 0h1m3 0h1m1 0h3m2 0h8m1 0h52m1 0h1m1 0h3m2 0h3m1 0h5m1 0h1m7 0h1m2 0h2m11 0h1m61 0h1m8 0h1m1 0h1m13 0h1M196 883.5h2m5 0h1m1 0h1m2 0h3m9 0h2m1 0h1m2 0h3m1 0h12m1 0h51m1 0h4m1 0h3m3 0h1m60 0h1M200 884.5h2m6 0h1m2 0h1m3 0h3m3 0h1m1 0h6m1 0h5m1 0h1m1 0h22m1 0h14m1 0h11m1 0h5m1 0h5m1 0h3m4 0h1m4 0h2m1 0h1m75 0h1m33 0h1M192 885.5h1m12 0h1m2 0h2m2 0h3m1 0h5m1 0h2m1 0h1m1 0h1m1 0h60m1 0h6m1 0h3m2 0h1m2 0h2m1 0h1m2 0h1m4 0h2m1 0h1m7 0h1m64 0h1M193 886.5h1m8 0h1m7 0h2m2 0h4m1 0h1m1 0h3m1 0h65m1 0h7m1 0h1m1 0h1m1 0h1m4 0h1m1 0h2m5 0h1m81 0h1M197 887.5h2m1 0h1m3 0h1m2 0h1m1 0h1m1 0h1m3 0h7m1 0h7m1 0h59m2 0h6m3 0h1m1 0h3m10 0h1m1 0h1m1 0h1m2 0h1m59 0h1m19 0h1m6 0h1M199 888.5h1m2 0h2m4 0h2m2 0h1m1 0h2m1 0h2m1 0h72m1 0h5m1 0h1m1 0h1m1 0h3m2 0h3m4 0h1m12 0h1m4 0h1m48 0h1M195 889.5h1m4 0h1m3 0h1m5 0h1m2 0h6m1 0h59m1 0h6m1 0h6m1 0h2m1 0h4m1 0h2m1 0h2m27 0h1m10 0h1m1 0h1m60 0h1m19 0h1M194 890.5h1m1 0h2m2 0h2m1 0h1m3 0h1m1 0h1m2 0h7m1 0h3m1 0h62m1 0h4m1 0h7m1 0h1m1 0h1m3 0h1m1 0h3m16 0h1m39 0h1M194 891.5h1m7 0h1m2 0h1m1 0h1m1 0h1m1 0h5m1 0h5m1 0h70m2 0h3m1 0h1m2 0h2m5 0h1m9 0h1m2 0h1m97 0h1M193 892.5h1m2 0h1m4 0h1m4 0h1m1 0h4m1 0h4m2 0h75m2 0h1m2 0h1m1 0h1m1 0h1m3 0h1m8 0h1m2 0h1m20 0h1m4 0h1m78 0h1M201 893.5h1m2 0h1m2 0h1m1 0h1m2 0h1m1 0h3m1 0h3m1 0h4m1 0h64m1 0h2m1 0h2m2 0h5m8 0h1m3 0h1m56 0h1M192 894.5h1m11 0h4m1 0h15m1 0h66m4 0h4m2 0h1m1 0h1m1 0h2m6 0h1m5 0h1m112 0h1M204 895.5h2m3 0h10m2 0h69m3 0h8m2 0h3m1 0h1m1 0h2m7 0h1m3 0h1M192 896.5h1m3 0h1m3 0h1m3 0h2m3 0h2m2 0h86m2 0h1m1 0h1m2 0h1m3 0h1m7 0h1M192 897.5h2m2 0h3m4 0h3m2 0h83m1 0h4m3 0h2m1 0h2m1 0h1m2 0h1m3 0h1m8 0h1m5 0h1m75 0h1m29 0h1M193 898.5h2m1 0h3m1 0h1m4 0h4m1 0h4m2 0h80m2 0h5m1 0h4m1 0h2m7 0h2M191 899.5h2m1 0h1m2 0h2m1 0h1m5 0h2m1 0h5m2 0h69m1 0h2m1 0h5m1 0h1m2 0h2m1 0h2m1 0h1m1 0h1m1 0h3m5 0h1m4 0h1m3 0h1m86 0h1M198 900.5h1m3 0h1m2 0h1m1 0h6m1 0h75m2 0h5m1 0h3m1 0h3m2 0h1m1 0h1m2 0h2m7 0h1m6 0h1M196 901.5h1m1 0h2m3 0h1m1 0h8m1 0h71m1 0h5m2 0h3m1 0h1m1 0h2m1 0h3m1 0h1m1 0h1m12 0h1m7 0h1M191 902.5h1m5 0h1m3 0h1m2 0h3m1 0h7m1 0h64m1 0h11m1 0h3m1 0h1m1 0h1m5 0h1m1 0h5M197 903.5h1m2 0h1m4 0h6m3 0h6m1 0h65m1 0h8m2 0h4m2 0h3m2 0h1m1 0h1m125 0h1M197 904.5h5m3 0h7m1 0h2m1 0h66m1 0h1m3 0h2m1 0h4m4 0h3m5 0h1m2 0h2m12 0h1M199 905.5h2m4 0h3m3 0h3m1 0h2m1 0h65m1 0h3m2 0h2m1 0h3m2 0h2m6 0h1m3 0h1M191 906.5h1m5 0h3m1 0h1m3 0h1m2 0h7m1 0h10m1 0h54m1 0h7m1 0h5m3 0h1m1 0h2m1 0h6m1 0h1M192 907.5h1m5 0h1m5 0h1m2 0h1m4 0h1m1 0h5m1 0h11m1 0h42m2 0h10m1 0h6m4 0h1m1 0h1m2 0h1m14 0h1M205 908.5h1m1 0h4m2 0h1m3 0h2m1 0h3m1 0h9m1 0h33m1 0h8m1 0h6m2 0h4m1 0h3m1 0h1m1 0h2m1 0h2m6 0h1m3 0h1M199 909.5h1m7 0h2m5 0h1m4 0h3m1 0h1m1 0h29m1 0h18m1 0h1m1 0h5m1 0h5m1 0h2m1 0h2m2 0h2m1 0h3m2 0h1m3 0h1M200 910.5h1m7 0h1m2 0h2m1 0h5m1 0h2m2 0h1m1 0h2m1 0h53m1 0h4m2 0h2m1 0h1m1 0h1m9 0h2m5 0h1m7 0h1M205 911.5h1m4 0h1m2 0h7m1 0h1m1 0h1m1 0h4m3 0h7m1 0h3m1 0h12m1 0h15m1 0h8m1 0h4m3 0h3m20 0h1M199 912.5h1m3 0h1m7 0h1m4 0h1m1 0h1m2 0h1m2 0h1m2 0h29m1 0h1m1 0h8m1 0h5m1 0h1m1 0h6m2 0h3m2 0h3m6 0h1m4 0h2m7 0h1M201 913.5h1m1 0h2m6 0h1m2 0h1m1 0h1m2 0h1m1 0h7m1 0h2m1 0h9m1 0h6m1 0h4m2 0h2m1 0h4m1 0h3m1 0h2m1 0h2m2 0h2m1 0h1m3 0h3m1 0h2m6 0h2m3 0h1m5 0h1M205 914.5h1m1 0h1m3 0h1m5 0h1m6 0h2m1 0h2m1 0h5m1 0h5m1 0h2m1 0h3m1 0h1m1 0h1m2 0h1m1 0h7m1 0h2m1 0h8m1 0h1m4 0h1m1 0h1m2 0h1m7 0h1m2 0h1m1 0h1m6 0h1m16 0h1M196 915.5h1m18 0h1m1 0h2m2 0h2m4 0h1m2 0h2m5 0h2m1 0h1m1 0h1m1 0h5m1 0h1m1 0h6m1 0h1m3 0h3m2 0h3m3 0h5m2 0h3m1 0h1m1 0h1m14 0h1m6 0h1M205 916.5h1m4 0h2m1 0h1m3 0h1m3 0h1m2 0h1m5 0h1m3 0h2m1 0h1m1 0h2m1 0h3m1 0h1m1 0h7m1 0h1m2 0h4m1 0h2m2 0h1m2 0h2m1 0h1m2 0h2m3 0h1m1 0h1m6 0h1m2 0h1M210 917.5h1m6 0h1m5 0h1m1 0h1m2 0h1m2 0h2m2 0h1m1 0h1m3 0h1m1 0h3m2 0h2m1 0h4m5 0h1m3 0h1m3 0h2m3 0h1m6 0h1m1 0h1m1 0h1m1 0h1m8 0h1m1 0h1M222 918.5h1m8 0h1m1 0h1m1 0h2m5 0h5m7 0h2m1 0h1m2 0h1m3 0h1m3 0h3m6 0h1m1 0h1m1 0h1m17 0h1m7 0h1M201 919.5h1m15 0h1m9 0h2m2 0h1m1 0h1m4 0h2m1 0h1m3 0h3m1 0h1m5 0h3m9 0h2m1 0h1m5 0h1m2 0h1m3 0h1m4 0h1m13 0h1M204 920.5h1m25 0h1m1 0h1m2 0h2m4 0h1m2 0h3m1 0h1m1 0h1m4 0h1m3 0h2m10 0h1m2 0h1m26 0h1m10 0h1M224 921.5h1m2 0h2m3 0h1m2 0h1m12 0h1m5 0h1m4 0h1m2 0h3m5 0h1m7 0h1m1 0h1M209 922.5h1m22 0h2m14 0h1m1 0h1m9 0h1m1 0h1m5 0h1m8 0h2m6 0h1m3 0h1M233 923.5h1m8 0h2m3 0h2m2 0h1m17 0h1m12 0h1M225 924.5h1m15 0h1m19 0h1M231 925.5h1m3 0h1m27 0h3m5 0h1m12 0h1M214 926.5h1m43 0h1m11 0h1m50 0h1M261 927.5h1M205 928.5h1m22 0h1m35 0h1M228 929.5h1" stroke="#ff6347" stroke-width="1" fill="none"/>
<path d="M915 140.5h1M898 154.5h1M891 155.5h1M874 157.5h1m35 0h1M863 159.5h1m16 0h1m4 0h1m16 0h1M871 160.5h1m2 0h1m17 0h1m44 0h1M891 161.5h1m3 0h1m8 0h1m3 0h1m2 0h1M894 162.5h1m6 0h1m10 0h1m5 0h1M889 163.5h1m2 0h1m9 0h1M875 164.5h1m10 0h1m2 0h2M889 165.5h1m6 0h3m1 0h1m27 0h1M873 166.5h1m11 0h1m4 0h2m2 0h1m7 0h1m3 0h1m7 0h1M867 167.5h1m24 0h1m3 0h1m3 0h1m5 0h1m2 0h1m1 0h1M854 168.5h1m17 0h1m7 0h1m5 0h1m8 0h1m6 0h1m5 0h1m2 0h1M880 169.5h1m4 0h2m2 0h2m3 0h1m2 0h2m1 0h2m1 0h1m1 0h3m8 0h1m4 0h1M868 170.5h1m2 0h1m6 0h1m1 0h2m1 0h1m1 0h1m8 0h1m1 0h3m1 0h1m1 0h1m5 0h1m2 0h1m6 0h1M849 171.5h1m28 0h1m1 0h1m4 0h1m1 0h2m7 0h3m1 0h2m2 0h1m1 0h3m1 0h3m10 0h1M869 172.5h1m1 0h1m2 0h1m1 0h2m1 0h1m2 0h1m1 0h2m1 0h1m2 0h3m2 0h1m1 0h1m3 0h2m1 0h1m1 0h2m3 0h3m6 0h1m3 0h1m1 0h1M867 173.5h1m11 0h1m2 0h2m2 0h1m2 0h9m1 0h3m5 0h2m2 0h1m1 0h3m14 0h1M840 174.5h1m19 0h1m4 0h1m3 0h1m2 0h1m3 0h1m1 0h2m1 0h3m2 0h3m1 0h6m1 0h3m1 0h4m2 0h1m1 0h2m4 0h1m2 0h1M863 175.5h1m3 0h1m1 0h3m1 0h2m2 0h4m2 0h7m1 0h1m1 0h3m1 0h10m2 0h1m1 0h2m1 0h2m1 0h1m5 0h1m8 0h1M855 176.5h1m8 0h2m3 0h3m1 0h3m1 0h2m1 0h6m1 0h24m2 0h1m1 0h1m10 0h1M857 177.5h2m1 0h4m6 0h14m1 0h1m1 0h8m1 0h9m2 0h1m2 0h3m6 0h1m2 0h1M859 178.5h1m2 0h1m1 0h7m1 0h8m1 0h27m1 0h4m1 0h1m5 0h1m2 0h1M844 179.5h1m13 0h1m2 0h1m3 0h5m1 0h4m1 0h3m1 0h13m1 0h10m1 0h3m2 0h2m2 0h1m1 0h1m9 0h1m3 0h1M850 180.5h2m2 0h1m1 0h2m2 0h1m2 0h1m1 0h37m1 0h4m1 0h1m1 0h5m1 0h1m2 0h1m2 0h1M856 181.5h1m4 0h5m1 0h1m1 0h1m1 0h3m1 0h3m1 0h20m1 0h3m1 0h6m1 0h5m1 0h1m1 0h1m12 0h1M852 182.5h1m1 0h1m2 0h4m1 0h2m1 0h2m1 0h41m1 0h2m9 0h1m2 0h1m3 0h1M851 183.5h2m2 0h2m6 0h49m1 0h1m1 0h1M852 184.5h4m1 0h4m1 0h4m1 0h41m1 0h2m1 0h1m6 0h1m6 0h1M836 185.5h1m11 0h1m2 0h1m2 0h3m1 0h3m1 0h3m1 0h40m1 0h2m2 0h1m1 0h3m3 0h2m5 0h1M847 186.5h1m1 0h3m1 0h2m1 0h3m2 0h51m2 0h2m1 0h1m1 0h3m8 0h1m8 0h1M847 187.5h1m3 0h3m1 0h2m1 0h2m1 0h3m1 0h35m1 0h6m1 0h2m1 0h1m1 0h1m12 0h1M840 188.5h1m7 0h1m1 0h51m1 0h7m5 0h1m2 0h2M840 189.5h1m2 0h1m6 0h2m1 0h2m2 0h50m1 0h1m1 0h1m1 0h2m1 0h2m1 0h1m1 0h1m1 0h1M836 190.5h1m1 0h1m1 0h1m9 0h2m1 0h6m1 0h49m1 0h3m1 0h1m7 0h1M841 191.5h1m4 0h1m1 0h1m1 0h54m1 0h4m1 0h2m1 0h1m14 0h1M837 192.5h1m3 0h1m1 0h1m3 0h1m1 0h4m2 0h47m1 0h3m1 0h1m7 0h1m6 0h1M830 193.5h1m6 0h1m2 0h1m2 0h3m2 0h2m2 0h54m1 0h1m6 0h2m1 0h1m5 0h1M839 194.5h2m5 0h1m1 0h2m1 0h51m2 0h5m2 0h1m2 0h1M841 195.5h1m1 0h1m1 0h3m1 0h2m1 0h49m1 0h2m2 0h2m1 0h2m2 0h1m1 0h1m3 0h1M838 196.5h1m3 0h2m2 0h3m2 0h2m1 0h48m1 0h1m1 0h1m2 0h1m1 0h1m13 0h1M832 197.5h1m7 0h1m1 0h9m1 0h27m1 0h14m1 0h7m1 0h2m1 0h3m2 0h1m2 0h1M830 198.5h1m4 0h1m2 0h2m5 0h49m1 0h5m2 0h2m1 0h2m1 0h2M827 199.5h1m6 0h1m2 0h1m2 0h2m3 0h4m2 0h48m1 0h2m1 0h1m1 0h1m2 0h1m5 0h1M841 200.5h1m3 0h1m2 0h15m1 0h33m1 0h4m3 0h2m1 0h1m5 0h1M829 201.5h1m9 0h1m4 0h1m2 0h2m1 0h3m1 0h1m1 0h41m1 0h1m2 0h1m3 0h1m10 0h1M836 202.5h1m2 0h3m1 0h1m1 0h4m1 0h7m1 0h7m1 0h23m3 0h3m1 0h2m2 0h2m1 0h1m1 0h2M842 203.5h1m1 0h3m1 0h8m1 0h40m1 0h2m3 0h1m3 0h1m3 0h1M837 204.5h1m3 0h2m4 0h2m1 0h33m1 0h9m2 0h2m1 0h1m1 0h1m5 0h2m2 0h1M835 205.5h1m1 0h1m2 0h1m3 0h1m1 0h2m1 0h2m1 0h31m1 0h4m1 0h5m1 0h1m1 0h1m3 0h2m4 0h2M826 206.5h1m6 0h1m4 0h1m4 0h1m3 0h3m1 0h4m3 0h24m1 0h3m1 0h8m3 0h1m1 0h1m7 0h2M836 207.5h1m2 0h1m2 0h1m1 0h2m1 0h1m2 0h19m1 0h10m1 0h5m1 0h2m1 0h3m3 0h2m2 0h3M825 208.5h1m14 0h2m1 0h1m3 0h3m2 0h9m1 0h2m1 0h7m1 0h5m1 0h2m1 0h6m6 0h1m1 0h1m4 0h1m7 0h1M835 209.5h1m11 0h1m1 0h9m1 0h1m1 0h21m1 0h1m1 0h5m3 0h2m1 0h1m2 0h1m22 0h1M834 210.5h1m5 0h1m2 0h4m1 0h2m1 0h7m1 0h19m2 0h2m1 0h3m1 0h3m1 0h2m1 0h1m4 0h1m14 0h1M834 211.5h1m1 0h1m4 0h1m2 0h1m1 0h2m3 0h1m1 0h6m1 0h5m1 0h1m1 0h7m2 0h1m1 0h1m1 0h3m3 0h1m5 0h1m7 0h1M832 212.5h1m11 0h1m1 0h2m2 0h1m2 0h1m1 0h1m2 0h1m1 0h3m1 0h1m1 0h1m1 0h5m3 0h3m1 0h2m4 0h4m3 0h1M827 213.5h1m14 0h2m1 0h1m1 0h1m5 0h2m1 0h13m2 0h2m1 0h1m1 0h2m2 0h5m2 0h1m2 0h2m4 0h1M828 214.5h1m11 0h5m3 0h2m1 0h2m1 0h1m1 0h1m1 0h4m1 0h6m2 0h2m1 0h2m2 0h1m3 0h1m1 0h2M831 215.5h1m7 0h1m2 0h2m1 0h2m1 0h1m1 0h5m1 0h3m2 0h2m5 0h3m1 0h2m1 0h1m4 0h1m1 0h1m2 0h1m16 0h1M836 216.5h1m3 0h1m6 0h1m2 0h3m2 0h1m1 0h5m1 0h2m2 0h2m2 0h2m2 0h3m2 0h1m4 0h1m34 0h1M836 217.5h1m5 0h2m9 0h3m2 0h1m6 0h3m1 0h1m4 0h1m4 0h1m16 0h1M837 218.5h1m2 0h1m6 0h1m3 0h2m3 0h1m3 0h1m1 0h1m1 0h1m2 0h1m2 0h2m7 0h1m1 0h1m11 0h1M832 219.5h1m8 0h1m2 0h1m4 0h1m2 0h1m5 0h2m1 0h1m2 0h2m2 0h1m7 0h1m17 0h1M836 220.5h2m9 0h1m3 0h1m1 0h1m2 0h1m1 0h1m5 0h1m1 0h1m2 0h3m2 0h1m8 0h1m5 0h1m8 0h1m1 0h1M832 221.5h1m13 0h1m4 0h1m5 0h1m4 0h1m1 0h3m6 0h1m10 0h1M844 222.5h1m4 0h1m3 0h1m5 0h1m2 0h1m1 0h1m3 0h2M836 223.5h1m5 0h1m7 0h1m5 0h1m3 0h1m1 0h1m2 0h1M846 224.5h2m3 0h1m6 0h3m3 0h1m3 0h1m4 0h1m4 0h1m8 0h1M844 225.5h1m5 0h2m9 0h1m1 0h1m3 0h2m3 0h1M835 226.5h1m2 0h1m4 0h1m10 0h1m3 0h1m3 0h1m7 0h1m2 0h1M845 227.5h1m6 0h1m3 0h1m6 0h2M853 228.5h1m2 0h1m5 0h1m18 0h1m18 0h1M859 229.5h1m3 0h1m3 0h1M842 230.5h1m1 0h1m8 0h1m2 0h1m2 0h2m2 0h1m1 0h2M851 231.5h1m7 0h1m5 0h1m10 0h1M833 232.5h1m25 0h3m3 0h1M849 233.5h1m3 0h1m18 0h1M859 234.5h2M852 235.5h1m8 0h1m4 0h1M853 237.5h1m1 0h1M859 239.5h1M847 240.5h1M856 241.5h1M252 440.5h1M263 442.5h1M269 443.5h1M250 445.5h2M262 446.5h1M250 447.5h1m7 0h1m13 0h1m9 0h2M251 448.5h1m7 0h2m3 0h1M232 449.5h1m17 0h1m18 0h1m12 0h1m2 0h1m128 0h1M263 450.5h1m5 0h1m2 0h1m14 0h1M235 451.5h1m17 0h1m10 0h1m3 0h1m2 0h1m4 0h1m6 0h1M252 452.5h1m3 0h1m11 0h1m1 0h1m3 0h1m1 0h2m3 0h2m7 0h1m4 0h1M252 453.5h5m2 0h1m1 0h1m1 0h1m7 0h2m1 0h1m3 0h1m9 0h1m109 0h1M245 454.5h1m7 0h2m1 0h1m7 0h1m1 0h1m5 0h1m2 0h1m2 0h4m1 0h1M233 455.5h1m4 0h1m2 0h1m2 0h2m11 0h1m3 0h1m1 0h2m4 0h1m3 0h1m2 0h2m2 0h1m3 0h1m2 0h2m13 0h1m24 0h1M235 456.5h1m4 0h1m6 0h1m2 0h8m1 0h2m3 0h1m1 0h1m2 0h1m1 0h1m1 0h3m5 0h2m1 0h2m3 0h1M236 457.5h1m6 0h1m7 0h1m2 0h1m3 0h3m1 0h1m3 0h1m1 0h1m1 0h1m1 0h2m10 0h1m3 0h3m1 0h1m3 0h1m5 0h1m3 0h2m122 0h1M220 458.5h1m10 0h1m7 0h1m2 0h1m10 0h1m5 0h2m6 0h6m1 0h1m2 0h1m2 0h1m2 0h1m8 0h1m1 0h1m3 0h1m3 0h1m136 0h1m25 0h1M235 459.5h1m11 0h4m5 0h2m1 0h2m2 0h3m2 0h5m1 0h2m1 0h3m1 0h3m9 0h1m10 0h1m50 0h1m58 0h1M239 460.5h1m11 0h2m3 0h5m6 0h4m1 0h1m1 0h1m2 0h5m1 0h1m1 0h2m1 0h2m4 0h1m1 0h1m67 0h1m38 0h1m12 0h1m30 0h1m2 0h1m11 0h1M227 461.5h1m14 0h1m1 0h1m1 0h3m5 0h6m1 0h2m2 0h1m1 0h7m1 0h1m2 0h2m2 0h6m1 0h2m9 0h1m90 0h1M245 462.5h1m2 0h1m2 0h2m2 0h2m2 0h1m2 0h3m1 0h2m1 0h3m1 0h6m1 0h1m1 0h2m1 0h3m1 0h1m1 0h1m3 0h1m5 0h1m1 0h1m36 0h1M227 463.5h1m11 0h1m3 0h1m1 0h1m1 0h1m1 0h1m1 0h4m1 0h1m1 0h1m1 0h10m1 0h5m1 0h2m2 0h1m1 0h2m2 0h2m4 0h2m6 0h1m53 0h1m70 0h1M228 464.5h1m5 0h1m1 0h1m6 0h2m1 0h4m5 0h3m1 0h4m1 0h5m1 0h3m1 0h2m1 0h6m2 0h2m1 0h2m2 0h1m5 0h1m2 0h1m52 0h1m68 0h1M230 465.5h1m11 0h1m3 0h3m1 0h5m1 0h2m1 0h1m1 0h2m1 0h3m2 0h6m1 0h1m1 0h1m1 0h4m2 0h1m1 0h1m1 0h4m1 0h1m1 0h1m2 0h1m6 0h1m24 0h1m13 0h1m21 0h1m18 0h1m10 0h1m58 0h1m9 0h1m3 0h1M227 466.5h1m18 0h1m2 0h6m1 0h5m1 0h7m1 0h5m1 0h2m1 0h5m1 0h4m1 0h1m1 0h1m2 0h3m2 0h2m1 0h1m15 0h1m44 0h1m10 0h1M237 467.5h1m3 0h1m1 0h3m1 0h2m2 0h19m1 0h6m1 0h6m1 0h2m2 0h2m3 0h1m2 0h1m32 0h1m7 0h1m59 0h1m15 0h1m39 0h1M229 468.5h1m7 0h1m3 0h1m2 0h1m1 0h16m1 0h15m1 0h5m4 0h1m3 0h1m2 0h1m18 0h3m4 0h1m2 0h1m6 0h1m26 0h1m32 0h1m15 0h1m4 0h1m6 0h1m31 0h1M234 469.5h1m5 0h1m5 0h1m1 0h1m1 0h3m1 0h4m1 0h5m1 0h3m1 0h10m1 0h6m1 0h2m1 0h3m11 0h1m17 0h1m19 0h1m5 0h1m2 0h1m32 0h2m28 0h1m35 0h1m6 0h1M235 470.5h2m3 0h1m4 0h2m1 0h4m1 0h1m1 0h3m1 0h24m1 0h1m2 0h1m1 0h1m6 0h3m7 0h1m7 0h1m8 0h2m4 0h1m10 0h1m15 0h1m1 0h1m12 0h1m8 0h1m8 0h1m32 0h1m4 0h1m10 0h1m26 0h1M228 471.5h1m5 0h1m5 0h2m4 0h7m1 0h4m1 0h8m1 0h1m1 0h12m1 0h6m1 0h2m1 0h2m1 0h1m4 0h2m2 0h1m2 0h1m7 0h1m3 0h1m14 0h1m47 0h1m21 0h1m5 0h1m18 0h1m23 0h1M237 472.5h1m4 0h5m1 0h3m3 0h3m2 0h5m1 0h4m2 0h7m1 0h5m1 0h1m1 0h1m3 0h3m1 0h1m15 0h1m10 0h2m10 0h1m3 0h1m4 0h1m5 0h1m8 0h1m5 0h1m2 0h1m2 0h1m20 0h1m68 0h1m5 0h1M235 473.5h1m5 0h1m5 0h2m1 0h15m1 0h11m1 0h7m2 0h1m1 0h2m9 0h2m2 0h2m23 0h1m1 0h1m15 0h1m25 0h1m12 0h2m3 0h1m34 0h1m6 0h1m27 0h1M225 474.5h1m11 0h2m2 0h1m4 0h1m2 0h2m3 0h3m1 0h8m1 0h15m2 0h1m1 0h1m1 0h1m1 0h4m2 0h1m5 0h1m6 0h1m10 0h1m7 0h1m23 0h1m5 0h1m47 0h2m3 0h1m32 0h1m17 0h1M229 475.5h1m8 0h1m3 0h1m2 0h1m2 0h1m2 0h1m2 0h1m1 0h2m1 0h14m1 0h6m1 0h2m1 0h1m2 0h3m4 0h4m2 0h1m15 0h1m10 0h1m7 0h1m22 0h1m3 0h1m33 0h1M238 476.5h1m3 0h2m1 0h2m2 0h9m1 0h1m1 0h4m1 0h1m1 0h3m1 0h8m1 0h1m1 0h4m2 0h2m2 0h1m2 0h1m1 0h3m9 0h2m8 0h1m2 0h1m20 0h1m13 0h1m2 0h1m27 0h1m25 0h1m4 0h1m10 0h1m8 0h1m18 0h1m10 0h1M234 477.5h1m4 0h1m1 0h1m5 0h1m4 0h1m1 0h1m2 0h1m1 0h4m1 0h5m2 0h1m1 0h5m1 0h1m1 0h3m3 0h1m1 0h2m2 0h1m3 0h1m1 0h1m7 0h1m8 0h1m11 0h1m6 0h1m12 0h1m41 0h1m30 0h1m4 0h1m25 0h1m17 0h1M237 478.5h1m1 0h1m3 0h1m2 0h1m8 0h10m2 0h3m1 0h2m1 0h3m1 0h3m1 0h6m8 0h1m2 0h1m10 0h1m35 0h1m40 0h1m2 0h1m44 0h2m1 0h1M238 479.5h1m3 0h2m3 0h1m3 0h1m1 0h4m3 0h1m3 0h3m2 0h3m1 0h1m1 0h8m1 0h1m2 0h4m1 0h1m1 0h1m8 0h1m1 0h1m1 0h1m30 0h1m17 0h1m18 0h1m27 0h1m59 0h1m4 0h1M239 480.5h1m8 0h1m3 0h2m3 0h4m1 0h2m1 0h3m1 0h2m2 0h2m1 0h1m1 0h1m6 0h1m3 0h2m4 0h1m4 0h2m2 0h2m6 0h2m66 0h1m10 0h1m18 0h1m2 0h1m10 0h1m24 0h1m6 0h1M237 481.5h2m1 0h1m5 0h1m3 0h1m2 0h1m1 0h7m1 0h3m1 0h5m2 0h1m1 0h4m1 0h1m1 0h2m1 0h1m5 0h1m2 0h1m2 0h1m3 0h1m8 0h2m11 0h1m21 0h1m50 0h1m43 0h1m5 0h1m4 0h1M240 482.5h1m1 0h1m3 0h2m1 0h1m5 0h1m3 0h1m1 0h1m3 0h3m1 0h1m1 0h3m1 0h1m2 0h2m1 0h2m2 0h1m1 0h2m4 0h1m2 0h2m4 0h1m6 0h1m14 0h1m3 0h1m23 0h1m22 0h1m20 0h1m4 0h1m57 0h1M219 483.5h1m19 0h1m10 0h1m1 0h2m2 0h2m3 0h1m1 0h1m1 0h3m1 0h2m1 0h2m1 0h3m7 0h1m19 0h1m2 0h1m9 0h1m14 0h2m14 0h1m36 0h1m6 0h1m53 0h1m7 0h1M235 484.5h1m15 0h1m5 0h2m1 0h2m1 0h1m6 0h2m1 0h1m1 0h1m2 0h1m5 0h1m4 0h3m106 0h1m53 0h1M245 485.5h1m12 0h1m4 0h2m1 0h1m6 0h1m3 0h1m4 0h1m68 0h1m37 0h1M231 486.5h1m19 0h3m3 0h1m1 0h2m1 0h2m1 0h2m1 0h2m6 0h1m4 0h1m4 0h2m9 0h2m48 0h1m100 0h1m5 0h1m2 0h1M241 487.5h1m3 0h1m5 0h1m5 0h1m12 0h1m1 0h1m1 0h2m10 0h1m4 0h1m14 0h1m64 0h1m20 0h1m59 0h1M257 488.5h1m2 0h1m5 0h1m1 0h1m3 0h1m2 0h3m137 0h1m41 0h1M244 489.5h1m13 0h2m8 0h1m4 0h1m1 0h1m69 0h1m86 0h1M242 490.5h1m10 0h1m1 0h1m40 0h1m3 0h1M241 491.5h1m17 0h1m9 0h2m6 0h1m13 0h1m15 0h1m127 0h1m2 0h1M242 492.5h1m21 0h1m12 0h1m8 0h1m139 0h1m28 0h1M254 493.5h1m1 0h1m7 0h1m13 0h1M261 494.5h1m1 0h1m7 0h1m11 0h1M254 495.5h1m7 0h2m2 0h1M253 496.5h1m12 0h1M275 497.5h1M255 498.5h1m7 0h1m1 0h1m1 0h1M255 499.5h1m2 0h1M268 500.5h1m14 0h1M253 502.5h1m13 0h2m3 0h1M272 503.5h1m1 0h1M249 504.5h1m8 0h1m16 0h1M264 505.5h1M272 506.5h1M258 507.5h1m2 0h1m7 0h1m6 0h1M254 508.5h1m6 0h1M250 509.5h1m16 0h1m1 0h1M258 511.5h1m4 0h1M260 513.5h1M250 514.5h1m7 0h1m1 0h1m2 0h1m7 0h1M264 517.5h2m9 0h1M254 518.5h1m21 0h1M259 519.5h1m2 0h1M255 520.5h1M252 521.5h1m211 0h1M246 522.5h1m33 0h1M275 524.5h1M461 531.5h1M460 536.5h1M455 546.5h1M451 547.5h1m21 0h1M444 548.5h1m16 0h1M454 549.5h1m8 0h1M246 550.5h1m217 0h1M266 552.5h1m4 0h1M266 553.5h1m9 0h1m8 0h1m172 0h1m12 0h1m1 0h1M234 554.5h1m33 0h1M257 555.5h1m9 0h1m186 0h1m2 0h1M249 556.5h1m5 0h1m18 0h1m1 0h1m173 0h2M244 558.5h1m11 0h1m1 0h2m2 0h1m6 0h1m180 0h1m11 0h1m6 0h1M249 559.5h1m11 0h2m2 0h2m1 0h1m17 0h1m172 0h1M240 560.5h1m8 0h1m6 0h2m13 0h1m7 0h1m165 0h1m7 0h1m5 0h1m2 0h1m19 0h1M245 561.5h1m9 0h2m2 0h1m2 0h1m3 0h1m1 0h1m197 0h1M242 562.5h1m5 0h2m23 0h1m177 0h1m5 0h1m1 0h2m1 0h1M237 563.5h1m8 0h1m4 0h1m9 0h1m1 0h1m193 0h1m2 0h1m2 0h1M250 564.5h1m2 0h1m21 0h1m21 0h1m153 0h1m9 0h1m7 0h1M242 565.5h1m8 0h1m13 0h1m183 0h1m10 0h1M246 566.5h1m1 0h1m17 0h1m186 0h2m9 0h1m9 0h1m2 0h1M263 567.5h1m7 0h2m169 0h1m5 0h1m7 0h2m2 0h1m2 0h1m1 0h1m3 0h1m6 0h1M244 568.5h1m20 0h1m181 0h1m1 0h1m9 0h1m6 0h1m5 0h1m4 0h1m4 0h1M248 569.5h1m23 0h1m186 0h1m6 0h2m5 0h1m1 0h2m2 0h3M439 570.5h1m9 0h1m8 0h1m2 0h1m3 0h2m2 0h1m3 0h1M235 571.5h1m219 0h1m6 0h3m5 0h1m1 0h2m5 0h1m8 0h1M461 572.5h1m1 0h2m3 0h1m4 0h1m4 0h2M457 573.5h2m2 0h1m2 0h1m1 0h2m5 0h2m1 0h1M450 574.5h1m3 0h1m4 0h1m1 0h1m1 0h2m1 0h2m1 0h1m1 0h1m2 0h1m2 0h1m5 0h1M455 575.5h1m2 0h3m2 0h4m2 0h1m2 0h2m1 0h1m1 0h1m2 0h3m4 0h1M462 576.5h1m1 0h3m1 0h1m2 0h1m3 0h2m1 0h1m4 0h1M441 577.5h1m10 0h1m4 0h3m2 0h3m2 0h2m1 0h1m1 0h9M441 578.5h1m10 0h1m2 0h2m3 0h1m1 0h1m1 0h4m1 0h3m1 0h1m1 0h3m1 0h2m7 0h1M447 579.5h1m9 0h1m3 0h1m1 0h1m4 0h4m1 0h4m1 0h4m2 0h1m1 0h1m2 0h1M454 580.5h1m1 0h1m1 0h1m1 0h2m2 0h4m1 0h1m1 0h7m1 0h4m2 0h4m1 0h1M459 581.5h1m2 0h4m1 0h9m1 0h4m3 0h2m2 0h1m2 0h1M445 582.5h1m12 0h2m2 0h7m1 0h4m1 0h8m2 0h1m1 0h1m12 0h1M460 583.5h1m1 0h2m3 0h19m1 0h1M447 584.5h1m8 0h2m4 0h6m1 0h4m1 0h11m1 0h1m1 0h1M462 585.5h2m3 0h19m1 0h3m1 0h2M456 586.5h1m1 0h2m4 0h1m1 0h19m1 0h2m4 0h1m1 0h1M461 587.5h2m1 0h5m1 0h17m2 0h2m5 0h1M459 588.5h1m2 0h2m2 0h20m2 0h1m2 0h2M453 589.5h1m9 0h3m1 0h22m2 0h1m1 0h3m1 0h1m4 0h1M455 590.5h1m5 0h2m2 0h2m1 0h26M458 591.5h2m1 0h1m1 0h29m1 0h1M460 592.5h1m2 0h1m1 0h1m2 0h21m1 0h2m3 0h1m1 0h1M456 593.5h1m5 0h2m1 0h1m1 0h24m1 0h3m5 0h1M466 594.5h26m1 0h1M465 595.5h4m1 0h22m3 0h1m2 0h1M467 596.5h6m1 0h19m1 0h1m3 0h1m1 0h1M459 597.5h1m3 0h1m3 0h2m2 0h24m1 0h2m1 0h1M462 598.5h1m2 0h1m1 0h29m6 0h1m2 0h1M463 599.5h1m1 0h2m2 0h2m1 0h21m1 0h1m1 0h1M462 600.5h1m3 0h1m2 0h27m3 0h1M469 601.5h26m1 0h2m2 0h1M468 602.5h26m1 0h3m4 0h1M465 603.5h1m4 0h25m1 0h2m4 0h1M472 604.5h1m1 0h10m1 0h8m1 0h2m1 0h2m1 0h1M462 605.5h1m5 0h1m1 0h1m1 0h1m2 0h20m1 0h2m1 0h1m1 0h2M469 606.5h1m3 0h1m1 0h22m2 0h3M468 607.5h1m4 0h27m2 0h1M471 608.5h1m2 0h22m2 0h2m3 0h1M470 609.5h1m4 0h18m1 0h3M473 610.5h2m1 0h20m1 0h2m4 0h1M474 611.5h1m1 0h21m1 0h1M474 612.5h1m4 0h3m1 0h9m2 0h1m1 0h2m2 0h1M477 613.5h2m1 0h4m1 0h2m1 0h3m1 0h9m1 0h1M467 614.5h1m7 0h1m1 0h1m1 0h2m2 0h4m1 0h2m1 0h6m1 0h1m3 0h1M479 615.5h2m1 0h1m1 0h6m1 0h1m1 0h1m1 0h1m2 0h1M478 616.5h1m2 0h2m1 0h11M469 617.5h1m8 0h1m3 0h1m1 0h1m3 0h3m1 0h2m1 0h1m2 0h2m1 0h1M484 618.5h1m1 0h2m1 0h2m1 0h1m2 0h1m5 0h1M484 619.5h1m2 0h3m1 0h2m1 0h2m2 0h1M475 620.5h2m2 0h1m10 0h2m1 0h1m3 0h1m3 0h1M493 621.5h1m2 0h1M499 622.5h1m5 0h1M483 623.5h1m6 0h1m2 0h1m1 0h1M488 624.5h1m11 0h1M488 625.5h1m5 0h1m6 0h1M766 706.5h1M774 707.5h1M774 709.5h1m4 0h1M762 710.5h1m9 0h1m7 0h1M757 711.5h1M760 712.5h1M757 713.5h1M771 714.5h2M757 715.5h1m16 0h1M749 716.5h1m14 0h1M748 717.5h1m13 0h1M768 718.5h1M777 719.5h1M757 720.5h1m1 0h1M742 721.5h1m6 0h1m8 0h1M748 722.5h1m1 0h1M731 723.5h1M749 724.5h1M746 726.5h1m13 0h1M745 727.5h1M744 728.5h1M740 729.5h1M741 730.5h1M743 731.5h1M733 732.5h1M740 733.5h1M732 734.5h1M732 735.5h1M703 737.5h1m16 0h1M698 738.5h1m31 0h1M708 739.5h1m9 0h1m5 0h1M705 740.5h1m1 0h2m10 0h1m6 0h1m11 0h1M690 741.5h1m44 0h1M683 742.5h1m31 0h1m8 0h1m13 0h1M697 743.5h1m3 0h1m2 0h1m4 0h1m23 0h1m16 0h1M710 744.5h1m6 0h1m1 0h1m7 0h1M706 745.5h2m1 0h1m1 0h1m3 0h1m5 0h1m10 0h1M700 746.5h2m4 0h1m7 0h1m1 0h2m14 0h1M656 747.5h1m65 0h1m16 0h1M699 748.5h1m7 0h1m9 0h1m8 0h1M689 749.5h1m32 0h1m6 0h1M723 750.5h1m4 0h1m7 0h1M718 751.5h1m12 0h1M698 752.5h1m27 0h1m8 0h1M683 753.5h1m9 0h1m18 0h1M689 754.5h1m18 0h1m20 0h1M693 755.5h1m19 0h1M691 756.5h1m12 0h1m3 0h1m26 0h1m27 0h1M685 757.5h1m37 0h1m5 0h1m6 0h1M694 758.5h1m16 0h1m3 0h1m6 0h1M681 759.5h1m19 0h1m15 0h1m11 0h1M683 760.5h1m8 0h1m14 0h1m16 0h1m1 0h1m8 0h1M674 761.5h1m14 0h1m6 0h1m10 0h1m2 0h1m25 0h1m2 0h1M689 762.5h1m28 0h1m2 0h1m4 0h1m3 0h1M700 763.5h1m3 0h1m9 0h1m1 0h1m13 0h1m12 0h1M690 764.5h2m8 0h1m5 0h1m30 0h1M673 765.5h1m5 0h1m9 0h1m16 0h1m1 0h1m5 0h2m2 0h1m5 0h1m10 0h1m20 0h1M681 766.5h2m8 0h1m17 0h2m5 0h1m22 0h1m5 0h1M662 767.5h1m26 0h2m1 0h2m5 0h1m16 0h1m1 0h1m10 0h1M692 768.5h1m1 0h2m3 0h1m5 0h1m8 0h1m3 0h1m5 0h1m4 0h1M699 769.5h1m9 0h2m1 0h1m3 0h1m4 0h1m1 0h1m6 0h1m4 0h1M671 770.5h1m6 0h1m30 0h1m1 0h1m6 0h1m1 0h1m3 0h1M677 771.5h1m3 0h1m18 0h1m4 0h1m11 0h1m4 0h1m4 0h1M674 772.5h1m9 0h1m13 0h1m1 0h1m26 0h1M681 773.5h1m6 0h2m9 0h1m5 0h1m4 0h3m1 0h1m2 0h1m3 0h1M668 774.5h1m11 0h1m4 0h1m6 0h1m2 0h1m10 0h1m1 0h1m2 0h1m9 0h1m18 0h2M691 775.5h1m4 0h1m14 0h1m2 0h1m4 0h1m11 0h1m1 0h1M665 776.5h1m31 0h2m7 0h1m8 0h1m10 0h1m5 0h1m6 0h1m6 0h1M700 777.5h2m3 0h1m10 0h1m3 0h2m12 0h1m29 0h1M700 778.5h1m6 0h1m7 0h1m14 0h1m10 0h1M684 779.5h1m8 0h1m15 0h1m2 0h1m15 0h1m1 0h2m13 0h1M693 780.5h1m1 0h1m7 0h2m3 0h1m9 0h2m9 0h1m14 0h1M685 781.5h2m14 0h1m3 0h1m2 0h1m10 0h1m4 0h2m1 0h2M664 782.5h1m26 0h1m6 0h1m5 0h1m1 0h1m5 0h1m4 0h3m16 0h1m7 0h1M646 783.5h1m44 0h1m6 0h2m1 0h2m7 0h1m1 0h1m1 0h1m2 0h1m12 0h1m2 0h1m4 0h1m5 0h1m12 0h1M653 784.5h1m24 0h1m4 0h1m7 0h1m2 0h3m1 0h1m1 0h1m18 0h1m4 0h1m20 0h1m24 0h1M686 785.5h1m3 0h2m6 0h1m1 0h1m1 0h1m4 0h1m1 0h1m2 0h1m5 0h2M666 786.5h1m13 0h1m11 0h1m3 0h1m3 0h1m4 0h1m4 0h1m1 0h1m12 0h1m11 0h2M687 787.5h1m2 0h2m2 0h1m3 0h1m1 0h1m1 0h1m2 0h1m2 0h3m3 0h2m4 0h1m4 0h1m5 0h2m17 0h1m7 0h1M688 788.5h1m10 0h1m5 0h1m1 0h1m1 0h1m6 0h2m4 0h2m3 0h1m2 0h1m14 0h1m1 0h1M688 789.5h1m3 0h1m12 0h1m4 0h1m1 0h1m4 0h1m1 0h1m11 0h1m1 0h1M675 790.5h1m13 0h1m14 0h1m3 0h2m1 0h1m1 0h1m3 0h1m3 0h1m1 0h2M672 791.5h1m3 0h1m10 0h1m2 0h1m14 0h1m4 0h1m6 0h2m1 0h2m11 0h1m6 0h1m8 0h1M664 792.5h1m1 0h1m13 0h1m5 0h1m6 0h1m5 0h1m2 0h1m7 0h1m1 0h1m3 0h1m13 0h1m1 0h1m5 0h1M657 793.5h1m18 0h1m8 0h1m3 0h1m7 0h1m8 0h1m10 0h1m1 0h2m11 0h1m4 0h1m1 0h1M664 794.5h1m11 0h1m9 0h1m5 0h1m6 0h1m3 0h2m1 0h1m1 0h1m25 0h1M684 795.5h1m3 0h1m2 0h1m3 0h1m3 0h1m3 0h3m2 0h1m1 0h1m3 0h1m1 0h1m1 0h1m11 0h1M648 796.5h1m32 0h1m1 0h1m6 0h1m2 0h1m1 0h1m1 0h1m2 0h3m6 0h2m1 0h1m15 0h1m14 0h1m2 0h1M642 797.5h1m41 0h1m14 0h1m9 0h1m1 0h1m5 0h1m3 0h1m4 0h2m11 0h1M673 798.5h1m3 0h1m3 0h1m7 0h1m7 0h2m1 0h2m1 0h1m1 0h1m1 0h1m4 0h2m18 0h1m2 0h1m14 0h1M663 799.5h1m17 0h1m1 0h1m11 0h3m9 0h1m3 0h1m3 0h1m3 0h1m1 0h1m3 0h1m4 0h1m4 0h1m7 0h1m4 0h1M675 800.5h1m6 0h3m2 0h1m1 0h1m3 0h1m4 0h1m5 0h2m4 0h1m4 0h1m4 0h1m1 0h1m7 0h1M667 801.5h1m16 0h1m3 0h1m2 0h1m6 0h1m4 0h1m8 0h2m6 0h1m3 0h3m4 0h2m4 0h1M671 802.5h1m3 0h1m2 0h1m5 0h1m7 0h2m1 0h1m4 0h1m1 0h2m7 0h2m1 0h1m25 0h1M658 803.5h1m8 0h1m14 0h1m1 0h2m3 0h1m2 0h1m4 0h3m3 0h1m4 0h1m1 0h3m3 0h1m15 0h1m8 0h1M682 804.5h1m3 0h1m1 0h1m3 0h1m6 0h1m7 0h1m1 0h2m2 0h1m3 0h1m3 0h1m1 0h1m1 0h1m8 0h1m5 0h1m4 0h1M659 805.5h1m20 0h2m4 0h1m2 0h3m13 0h2m1 0h1m1 0h2m4 0h2m3 0h1m1 0h1m1 0h1m5 0h1M663 806.5h1m14 0h1m2 0h2m5 0h1m4 0h1m1 0h2m6 0h1m4 0h1m2 0h3m2 0h1m8 0h3m20 0h1m4 0h1M666 807.5h1m12 0h1m3 0h2m4 0h3m4 0h1m5 0h1m4 0h1m1 0h1m7 0h1m3 0h2m1 0h1m1 0h1m3 0h1m3 0h1m14 0h1M671 808.5h1m6 0h1m2 0h2m9 0h3m3 0h1m5 0h1m6 0h1m3 0h1m1 0h1m8 0h1m5 0h2m21 0h1M659 809.5h1m9 0h2m1 0h1m4 0h1m12 0h2m1 0h2m3 0h1m12 0h1m1 0h1m2 0h1m2 0h1m18 0h1M669 810.5h1m11 0h1m4 0h2m1 0h2m1 0h1m5 0h5m5 0h1m2 0h2m5 0h2m1 0h2m8 0h1m7 0h1M663 811.5h1m10 0h2m3 0h1m2 0h1m1 0h1m7 0h3m1 0h2m1 0h1m3 0h2m2 0h2m1 0h1m1 0h2m3 0h3m4 0h1m1 0h1m2 0h1m1 0h1m1 0h1m1 0h1M659 812.5h1m9 0h1m4 0h2m1 0h2m4 0h2m2 0h2m8 0h1m3 0h1m3 0h1m3 0h1m2 0h2m2 0h2m1 0h2m1 0h1m1 0h2m13 0h1m11 0h1M665 813.5h1m7 0h1m9 0h2m3 0h1m2 0h1m5 0h1m1 0h6m1 0h1m1 0h2m1 0h1m6 0h2m12 0h1m2 0h2m2 0h1M671 814.5h2m15 0h2m2 0h1m1 0h1m2 0h1m3 0h4m2 0h1m4 0h2m1 0h2m2 0h1m1 0h1m10 0h1m3 0h1m4 0h1m4 0h1M659 815.5h1m1 0h1m7 0h1m2 0h2m4 0h2m8 0h2m7 0h1m2 0h1m2 0h1m2 0h1m2 0h2m1 0h1m3 0h2m1 0h1m8 0h3m15 0h1M650 816.5h1m13 0h1m8 0h1m4 0h3m2 0h1m1 0h1m7 0h1m1 0h3m1 0h3m1 0h2m2 0h3m2 0h1m15 0h1m10 0h1M653 817.5h1m12 0h1m8 0h1m2 0h1m10 0h1m1 0h3m2 0h2m2 0h2m1 0h1m5 0h1m4 0h2m3 0h1m1 0h1m6 0h1m7 0h2m6 0h1M663 818.5h1m3 0h1m4 0h1m6 0h2m9 0h1m5 0h3m8 0h1m1 0h1m2 0h2m4 0h1m2 0h1m8 0h1m7 0h1m13 0h1M668 819.5h1m3 0h1m6 0h1m12 0h1m1 0h1m1 0h1m1 0h3m4 0h4m2 0h3m3 0h2m6 0h1m1 0h2m6 0h1m1 0h1m2 0h1m2 0h1M644 820.5h1m11 0h1m4 0h1m1 0h1m6 0h1m10 0h1m1 0h2m1 0h1m2 0h1m1 0h11m1 0h3m3 0h4m1 0h1m1 0h1m1 0h1m1 0h1m3 0h1m2 0h2m2 0h1m10 0h1M646 821.5h1m18 0h1m5 0h1m2 0h2m2 0h1m2 0h1m1 0h1m5 0h2m6 0h1m1 0h1m1 0h1m1 0h2m3 0h1m1 0h1m2 0h1m2 0h1m4 0h1m4 0h1m1 0h1m1 0h1m3 0h1m7 0h1M658 822.5h1m12 0h1m16 0h2m1 0h1m2 0h3m1 0h2m4 0h1m2 0h1m5 0h3m2 0h1m2 0h4m3 0h1m1 0h1m4 0h1m12 0h2M663 823.5h1m13 0h1m4 0h1m1 0h1m1 0h1m2 0h1m2 0h1m1 0h2m3 0h1m1 0h2m1 0h1m1 0h2m1 0h1m2 0h1m1 0h1m2 0h5m8 0h1m6 0h1m5 0h1m7 0h2M662 824.5h1m4 0h1m5 0h2m2 0h1m3 0h1m1 0h2m1 0h3m5 0h1m1 0h2m2 0h1m1 0h2m1 0h1m2 0h4m1 0h1m2 0h2m1 0h1m3 0h1m1 0h2m2 0h1m1 0h1m1 0h1m1 0h1m2 0h1m16 0h1M650 825.5h1m12 0h2m3 0h1m2 0h2m1 0h3m4 0h2m3 0h1m3 0h1m1 0h2m4 0h1m2 0h4m1 0h2m1 0h3m3 0h1m4 0h1m6 0h1m4 0h2m10 0h1m5 0h1M635 826.5h1m27 0h1m3 0h1m9 0h1m3 0h1m2 0h1m1 0h1m2 0h1m4 0h2m2 0h1m2 0h2m1 0h2m1 0h1m2 0h1m1 0h2m3 0h1m3 0h1m1 0h2m1 0h1m4 0h1m2 0h1m1 0h1M655 827.5h1m13 0h2m2 0h1m2 0h3m3 0h2m1 0h3m1 0h1m1 0h2m3 0h1m1 0h2m1 0h4m1 0h1m1 0h3m3 0h1m1 0h3m1 0h3m4 0h1m1 0h1m2 0h1m13 0h1M653 828.5h1m12 0h1m1 0h2m6 0h1m1 0h1m1 0h1m2 0h1m4 0h2m2 0h1m2 0h4m4 0h1m5 0h1m1 0h1m2 0h1m10 0h1m16 0h1m16 0h1M651 829.5h1m16 0h1m3 0h1m2 0h2m4 0h1m1 0h2m1 0h1m2 0h1m3 0h1m1 0h1m3 0h3m2 0h2m1 0h1m1 0h1m1 0h1m1 0h2m1 0h2m5 0h1m4 0h1m6 0h1m1 0h1m5 0h1m2 0h1M665 830.5h1m4 0h1m11 0h2m2 0h3m3 0h3m1 0h2m1 0h1m1 0h7m2 0h5m4 0h1m2 0h4m2 0h1m3 0h1m4 0h1m4 0h1m38 0h1M656 831.5h1m3 0h3m2 0h1m1 0h1m2 0h1m5 0h1m1 0h1m1 0h5m2 0h1m4 0h2m2 0h1m2 0h3m1 0h1m1 0h1m1 0h1m1 0h4m2 0h2m1 0h3m6 0h1m1 0h1m3 0h1m3 0h2m1 0h1M671 832.5h1m2 0h1m2 0h2m7 0h1m2 0h3m1 0h1m1 0h2m1 0h2m1 0h6m2 0h1m2 0h1m1 0h2m2 0h2m1 0h1m1 0h1m1 0h2m2 0h1m3 0h1m25 0h1M656 833.5h1m4 0h1m4 0h1m1 0h1m4 0h2m1 0h1m3 0h1m1 0h1m4 0h2m1 0h1m2 0h1m1 0h3m1 0h1m2 0h1m2 0h1m2 0h1m1 0h1m2 0h2m1 0h1m2 0h1m6 0h2m6 0h1m8 0h1m9 0h1M656 834.5h2m6 0h1m10 0h1m2 0h2m4 0h3m2 0h1m6 0h2m4 0h2m2 0h3m1 0h1m1 0h1m1 0h1m1 0h5m2 0h1m8 0h1m4 0h1m7 0h1M661 835.5h1m2 0h1m6 0h1m1 0h1m3 0h2m6 0h1m6 0h3m1 0h1m1 0h3m1 0h3m7 0h2m1 0h1m1 0h1m1 0h1m2 0h3m3 0h1m5 0h1m16 0h1M647 836.5h1m6 0h2m5 0h1m6 0h1m2 0h1m2 0h1m1 0h3m2 0h1m1 0h2m4 0h1m1 0h1m1 0h1m3 0h3m1 0h1m3 0h1m2 0h1m1 0h2m1 0h1m1 0h1m1 0h2m1 0h1m1 0h3M660 837.5h1m6 0h1m3 0h1m7 0h3m1 0h3m1 0h6m1 0h3m1 0h6m1 0h1m6 0h4m5 0h1m14 0h2M633 838.5h1m7 0h1m16 0h2m7 0h1m5 0h1m3 0h1m3 0h1m2 0h2m1 0h2m2 0h4m2 0h2m1 0h1m3 0h3m1 0h2m1 0h1m1 0h1m1 0h5m1 0h3m2 0h1m3 0h1m3 0h1m1 0h2m6 0h1M650 839.5h2m3 0h2m6 0h1m3 0h2m2 0h1m3 0h1m2 0h1m2 0h4m1 0h2m1 0h3m2 0h1m1 0h1m2 0h6m1 0h4m2 0h4m1 0h2m7 0h2m1 0h1m1 0h3m1 0h2m6 0h1M651 840.5h1m5 0h1m4 0h2m3 0h1m5 0h2m2 0h1m1 0h1m1 0h2m1 0h1m6 0h4m1 0h4m2 0h5m4 0h1m1 0h2m2 0h1m1 0h2m1 0h3m3 0h1m4 0h1m17 0h1m7 0h1m2 0h1M654 841.5h1m6 0h3m9 0h1m3 0h3m2 0h1m1 0h2m1 0h2m1 0h4m1 0h1m5 0h1m1 0h1m1 0h4m2 0h2m1 0h1m1 0h1m2 0h5m5 0h1m1 0h1m4 0h1m1 0h1m6 0h1m8 0h1m3 0h1M659 842.5h1m2 0h1m3 0h1m4 0h1m3 0h1m4 0h1m3 0h5m1 0h3m1 0h2m2 0h1m1 0h1m1 0h2m1 0h4m1 0h3m3 0h3m1 0h1m1 0h4m1 0h2m6 0h1m6 0h1m15 0h1M647 843.5h1m8 0h2m5 0h1m7 0h1m3 0h1m2 0h1m1 0h1m3 0h1m3 0h5m1 0h1m1 0h1m1 0h2m2 0h4m1 0h1m1 0h4m1 0h2m6 0h1m13 0h1M647 844.5h1m6 0h1m7 0h1m2 0h2m1 0h1m4 0h1m1 0h1m2 0h4m1 0h1m2 0h1m1 0h1m3 0h1m2 0h7m2 0h2m1 0h3m1 0h1m1 0h7m2 0h1m2 0h5m1 0h1m1 0h2m3 0h1m2 0h1m5 0h1m6 0h1M663 845.5h1m1 0h1m3 0h2m2 0h1m2 0h3m2 0h2m2 0h2m1 0h1m2 0h5m3 0h1m2 0h1m1 0h3m1 0h1m2 0h4m1 0h1m1 0h1m1 0h1m2 0h1m8 0h1m3 0h1m1 0h1M644 846.5h1m10 0h2m10 0h3m4 0h2m3 0h2m3 0h2m1 0h8m2 0h1m1 0h1m1 0h1m2 0h2m1 0h1m1 0h1m1 0h4m1 0h2m1 0h1m3 0h2m11 0h1m1 0h1m2 0h1M638 847.5h1m23 0h2m2 0h1m1 0h1m1 0h2m2 0h1m1 0h2m2 0h1m1 0h2m1 0h2m1 0h2m2 0h2m1 0h3m1 0h20m2 0h1m2 0h1m4 0h1m2 0h1m1 0h2m1 0h1M633 848.5h1m3 0h2m15 0h1m7 0h1m3 0h2m6 0h1m2 0h1m2 0h1m3 0h1m2 0h2m1 0h6m1 0h3m1 0h2m1 0h4m1 0h1m1 0h2m3 0h2m3 0h4m7 0h1m4 0h1m1 0h1M650 849.5h1m2 0h2m4 0h1m1 0h1m2 0h6m5 0h2m3 0h1m1 0h4m1 0h5m1 0h1m2 0h3m2 0h1m1 0h2m2 0h4m1 0h1m1 0h6m2 0h2m3 0h1m1 0h2m11 0h1M651 850.5h2m8 0h2m2 0h1m1 0h1m6 0h3m1 0h1m2 0h13m1 0h1m2 0h1m1 0h1m2 0h1m1 0h3m3 0h1m2 0h3m2 0h2m1 0h1m1 0h1m1 0h1m3 0h1m1 0h1m4 0h1m12 0h1m2 0h1m1 0h1m4 0h1M641 851.5h1m10 0h2m1 0h2m9 0h1m2 0h5m1 0h1m2 0h2m2 0h2m1 0h1m2 0h2m1 0h3m1 0h1m3 0h1m1 0h4m1 0h6m6 0h2m1 0h1m1 0h1m1 0h1m8 0h1m1 0h1m2 0h1M637 852.5h1m11 0h1m6 0h1m3 0h1m1 0h1m7 0h1m1 0h3m2 0h5m1 0h3m1 0h3m1 0h3m2 0h2m1 0h14m2 0h1m3 0h2m1 0h1m1 0h1m4 0h2m7 0h2m2 0h2m4 0h1M633 853.5h1m25 0h2m1 0h2m1 0h3m1 0h1m2 0h3m1 0h1m1 0h3m2 0h5m1 0h2m1 0h3m1 0h1m1 0h2m1 0h1m1 0h4m1 0h2m1 0h4m1 0h3m4 0h1m4 0h1m1 0h1m1 0h2M646 854.5h1m11 0h2m9 0h6m1 0h3m2 0h6m1 0h5m1 0h1m1 0h2m2 0h8m1 0h6m1 0h4m1 0h1m1 0h2m1 0h1m1 0h2m2 0h1m3 0h2m4 0h1m4 0h1m8 0h1M626 855.5h1m14 0h1m3 0h2m12 0h1m9 0h6m1 0h1m1 0h11m1 0h6m1 0h9m2 0h2m2 0h4m1 0h2m1 0h3m3 0h1m2 0h3m6 0h1m4 0h1m3 0h1m9 0h1M629 856.5h1m11 0h1m4 0h1m2 0h1m3 0h1m7 0h1m1 0h2m1 0h1m1 0h3m2 0h4m1 0h1m1 0h5m1 0h19m3 0h1m1 0h1m2 0h4m1 0h1m3 0h1m1 0h1m1 0h1m1 0h1m4 0h1M640 857.5h1m16 0h1m4 0h2m3 0h1m2 0h1m1 0h5m1 0h5m2 0h6m1 0h1m1 0h3m1 0h1m1 0h2m1 0h1m1 0h3m1 0h2m2 0h3m1 0h2m2 0h1m1 0h2m3 0h2m1 0h2m9 0h1m3 0h1m3 0h1m4 0h1M641 858.5h1m13 0h4m5 0h1m1 0h1m2 0h4m1 0h3m2 0h3m1 0h3m2 0h11m1 0h3m1 0h3m2 0h1m2 0h1m1 0h1m2 0h1m1 0h1m2 0h2m1 0h1m1 0h5m5 0h1M640 859.5h1m4 0h1m4 0h4m1 0h1m3 0h2m1 0h10m1 0h2m1 0h1m1 0h5m1 0h3m1 0h1m1 0h3m1 0h10m1 0h3m5 0h1m1 0h3m1 0h1m1 0h2m1 0h4m1 0h1m1 0h1m2 0h1m1 0h1m1 0h2m1 0h1M626 860.5h1m12 0h1m6 0h1m6 0h1m1 0h2m1 0h4m1 0h1m1 0h1m2 0h7m2 0h7m2 0h2m1 0h5m1 0h13m1 0h2m2 0h10m7 0h1m3 0h2m4 0h1m10 0h1M646 861.5h2m1 0h1m6 0h1m3 0h1m2 0h1m1 0h2m1 0h1m2 0h4m1 0h4m1 0h6m1 0h4m1 0h2m1 0h4m1 0h6m1 0h4m1 0h3m2 0h3m2 0h8m1 0h1m2 0h1m10 0h1M640 862.5h1m7 0h1m4 0h1m3 0h1m1 0h4m2 0h1m1 0h1m1 0h2m1 0h5m1 0h17m1 0h6m1 0h11m1 0h7m1 0h2m1 0h5m2 0h1m1 0h1m6 0h1M629 863.5h1m16 0h1m5 0h1m2 0h1m2 0h1m3 0h1m1 0h5m3 0h2m1 0h2m1 0h10m1 0h1m1 0h14m1 0h2m1 0h3m1 0h2m4 0h2m1 0h7m2 0h2m5 0h1m1 0h1m5 0h1m2 0h1m2 0h1M640 864.5h1m4 0h1m3 0h2m2 0h8m1 0h1m1 0h3m1 0h5m1 0h2m1 0h8m1 0h14m1 0h6m2 0h7m1 0h2m2 0h3m3 0h2m1 0h2m19 0h1M641 865.5h1m3 0h1m1 0h1m2 0h1m1 0h1m3 0h7m2 0h8m1 0h1m1 0h10m1 0h36m6 0h1m1 0h1m1 0h1m1 0h1m24 0h1M627 866.5h1m11 0h2m4 0h1m4 0h1m2 0h1m3 0h1m1 0h1m3 0h1m1 0h2m4 0h2m1 0h10m2 0h7m1 0h1m1 0h11m1 0h1m1 0h3m1 0h2m1 0h5m1 0h2m1 0h4m1 0h2m2 0h1m6 0h1m4 0h1M634 867.5h1m9 0h2m2 0h1m2 0h2m3 0h4m1 0h1m2 0h1m1 0h1m2 0h9m1 0h29m1 0h6m3 0h1m2 0h1m1 0h4m1 0h2m7 0h1m2 0h1m1 0h1m6 0h1M631 868.5h1m5 0h1m1 0h1m10 0h5m3 0h2m1 0h4m1 0h14m1 0h9m1 0h11m1 0h4m1 0h4m1 0h6m1 0h4m3 0h2m3 0h2m3 0h1m2 0h1m3 0h1m1 0h1M637 869.5h2m9 0h2m1 0h1m2 0h1m1 0h1m3 0h2m3 0h2m1 0h1m1 0h45m1 0h2m3 0h1m2 0h3m1 0h2m11 0h1m7 0h1M635 870.5h1m5 0h1m2 0h2m3 0h1m1 0h2m1 0h1m3 0h1m1 0h2m2 0h5m1 0h1m1 0h30m1 0h4m1 0h11m1 0h5m4 0h2m1 0h1m1 0h2m1 0h1m2 0h1M625 871.5h1m3 0h1m9 0h1m8 0h3m1 0h2m1 0h2m1 0h4m1 0h1m1 0h2m1 0h12m1 0h30m1 0h3m2 0h3m1 0h2m1 0h3m2 0h3m1 0h2m1 0h1m5 0h2m5 0h1M633 872.5h1m6 0h1m3 0h1m9 0h1m1 0h1m1 0h2m1 0h2m1 0h3m1 0h4m1 0h14m1 0h13m1 0h4m1 0h9m1 0h3m2 0h2m2 0h3m1 0h3m7 0h1m6 0h1M632 873.5h1m6 0h1m1 0h3m4 0h2m1 0h3m2 0h1m1 0h8m1 0h5m1 0h9m1 0h23m1 0h12m1 0h1m1 0h5m4 0h1m7 0h1m3 0h2m16 0h1M634 874.5h1m2 0h2m2 0h2m2 0h1m3 0h1m1 0h3m2 0h2m1 0h3m2 0h2m1 0h2m1 0h7m1 0h45m1 0h1m2 0h1m1 0h3m1 0h3m3 0h1m9 0h1M633 875.5h1m2 0h1m2 0h1m3 0h1m1 0h1m2 0h1m1 0h2m1 0h1m1 0h4m1 0h3m1 0h56m1 0h7m1 0h2m2 0h2m1 0h3m2 0h1m1 0h1m4 0h1M633 876.5h1m11 0h1m1 0h3m2 0h1m3 0h67m1 0h2m3 0h1m3 0h1m1 0h1m2 0h2m1 0h1m5 0h2m10 0h1M636 877.5h1m1 0h1m4 0h1m2 0h2m3 0h2m1 0h15m1 0h51m1 0h2m2 0h1m1 0h4m1 0h1m1 0h2m3 0h1m8 0h2M633 878.5h1m6 0h1m3 0h1m1 0h3m1 0h4m1 0h6m1 0h6m1 0h43m1 0h17m1 0h1m1 0h1m4 0h2m3 0h1m3 0h1m6 0h1M626 879.5h1m3 0h1m3 0h1m4 0h3m2 0h1m3 0h1m1 0h1m2 0h6m2 0h64m1 0h4m1 0h1m2 0h2m1 0h1m2 0h1M640 880.5h1m1 0h2m1 0h2m2 0h1m2 0h2m1 0h73m1 0h2m1 0h4m2 0h1m4 0h1m5 0h2m2 0h1m12 0h1M639 881.5h2m1 0h1m1 0h1m2 0h2m1 0h1m5 0h70m1 0h1m1 0h3m2 0h3m1 0h1m9 0h1m1 0h1M638 882.5h2m4 0h1m1 0h1m5 0h3m3 0h28m1 0h22m1 0h3m1 0h10m2 0h2m2 0h3m2 0h3m1 0h1M644 883.5h1m1 0h1m2 0h7m1 0h5m1 0h45m1 0h11m2 0h1m1 0h3m1 0h2m1 0h2m1 0h1m1 0h1m1 0h1m10 0h1M626 884.5h1m9 0h1m2 0h1m2 0h1m1 0h2m1 0h1m1 0h1m1 0h3m1 0h26m1 0h36m2 0h1m1 0h1m1 0h1m1 0h4m5 0h1m7 0h1M639 885.5h1m2 0h1m4 0h3m1 0h6m1 0h6m1 0h43m1 0h3m1 0h16m2 0h2m2 0h1m1 0h1m3 0h1m2 0h1M631 886.5h1m5 0h2m3 0h1m6 0h3m2 0h4m1 0h15m1 0h42m1 0h9m1 0h1m1 0h3m4 0h1m3 0h2m6 0h1M627 887.5h1m11 0h2m1 0h1m2 0h1m1 0h1m1 0h2m1 0h5m1 0h55m2 0h13m2 0h2m4 0h3m1 0h1m1 0h2m7 0h1m6 0h1M626 888.5h1m3 0h1m9 0h1m3 0h1m3 0h6m1 0h2m1 0h71m2 0h1m1 0h1m1 0h1m1 0h1m1 0h2m4 0h1m4 0h2M634 889.5h1m7 0h1m4 0h2m1 0h1m1 0h1m1 0h7m1 0h55m1 0h4m2 0h3m1 0h4m1 0h1m7 0h1m1 0h1m2 0h1M627 890.5h1m8 0h1m12 0h3m2 0h1m1 0h8m1 0h4m1 0h53m1 0h3m1 0h1m1 0h2m1 0h3m4 0h1m1 0h2m2 0h1M640 891.5h2m2 0h8m1 0h3m1 0h2m1 0h73m3 0h1m1 0h2m13 0h1m12 0h1M629 892.5h1m7 0h1m5 0h1m1 0h4m1 0h7m1 0h63m1 0h5m1 0h2m2 0h1m13 0h2M626 893.5h1m6 0h2m5 0h2m2 0h1m3 0h3m1 0h72m1 0h5m3 0h3m3 0h2m1 0h1m9 0h1M632 894.5h1m5 0h3m1 0h1m4 0h2m1 0h5m1 0h76m1 0h2m1 0h1m1 0h3m14 0h2M633 895.5h1m5 0h2m4 0h11m1 0h3m1 0h66m2 0h5m3 0h2m3 0h1m2 0h1M628 896.5h1m2 0h1m7 0h1m2 0h7m1 0h1m1 0h1m1 0h1m1 0h2m1 0h59m1 0h8m1 0h2m2 0h1m3 0h2m1 0h1m1 0h1m15 0h1M628 897.5h1m6 0h1m5 0h1m1 0h3m2 0h7m1 0h3m1 0h61m1 0h4m1 0h3m1 0h2m1 0h1m1 0h2m3 0h1M627 898.5h1m3 0h1m10 0h1m4 0h2m1 0h1m1 0h4m1 0h72m2 0h1m2 0h2m1 0h1m1 0h1m3 0h1m2 0h1M640 899.5h2m3 0h2m1 0h74m1 0h10m1 0h1m2 0h1m4 0h1M627 900.5h1m6 0h2m2 0h1m6 0h3m1 0h3m2 0h6m1 0h58m1 0h3m1 0h7m1 0h1m1 0h1m1 0h1m4 0h1m7 0h1M631 901.5h1m6 0h1m1 0h1m6 0h72m2 0h8m2 0h3m3 0h1m1 0h1m1 0h1m3 0h1M637 902.5h1m3 0h1m4 0h3m1 0h3m1 0h62m1 0h7m3 0h1m1 0h1m1 0h1m2 0h1m1 0h1m3 0h1m3 0h1m2 0h1m9 0h1M639 903.5h2m1 0h1m4 0h7m1 0h3m1 0h64m2 0h3m3 0h1m3 0h1m5 0h1m3 0h1M634 904.5h1m1 0h1m7 0h1m1 0h1m1 0h2m1 0h31m1 0h34m1 0h1m1 0h9m2 0h3m1 0h3m2 0h1m4 0h1m11 0h1M640 905.5h1m3 0h1m1 0h1m1 0h1m1 0h1m2 0h75m3 0h1m3 0h2m1 0h1m1 0h1m20 0h1M625 906.5h1m3 0h1m9 0h1m10 0h12m1 0h14m1 0h21m1 0h17m2 0h6m1 0h2m3 0h2m3 0h4m18 0h1M641 907.5h1m3 0h1m3 0h7m1 0h10m1 0h2m1 0h5m1 0h25m1 0h20m1 0h1m1 0h4m1 0h3m7 0h1m14 0h1M643 908.5h3m1 0h1m1 0h1m1 0h1m3 0h1m1 0h4m2 0h4m1 0h12m1 0h30m1 0h6m1 0h9m3 0h3m1 0h1m1 0h1m4 0h1m16 0h1M641 909.5h1m2 0h1m1 0h1m1 0h2m2 0h2m3 0h1m2 0h9m1 0h35m1 0h9m1 0h9m4 0h1m2 0h3m2 0h1m6 0h1M627 910.5h1m9 0h1m1 0h1m11 0h2m1 0h4m1 0h2m1 0h3m1 0h47m1 0h7m1 0h1m1 0h1m1 0h3m1 0h2m1 0h2m1 0h1m1 0h1m21 0h1M641 911.5h1m8 0h2m3 0h5m1 0h2m1 0h5m1 0h14m1 0h6m1 0h2m1 0h13m1 0h3m1 0h3m1 0h3m2 0h4m1 0h2m2 0h1m6 0h2M635 912.5h1m10 0h1m3 0h1m3 0h2m2 0h3m2 0h1m1 0h2m1 0h1m1 0h10m1 0h30m1 0h7m1 0h1m1 0h2m3 0h2m2 0h2M638 913.5h1m2 0h1m4 0h2m2 0h1m1 0h2m2 0h1m1 0h2m1 0h1m1 0h1m1 0h1m1 0h31m1 0h4m1 0h11m1 0h3m1 0h4m2 0h1m3 0h1m5 0h1m6 0h1M650 914.5h2m1 0h1m4 0h5m1 0h1m1 0h1m1 0h2m1 0h10m2 0h22m1 0h7m1 0h1m1 0h4m2 0h2m7 0h1M651 915.5h1m2 0h1m1 0h2m1 0h9m2 0h1m1 0h1m1 0h3m2 0h2m1 0h5m3 0h1m1 0h4m1 0h1m1 0h2m2 0h10m1 0h3m3 0h2m6 0h3M640 916.5h1m1 0h1m2 0h1m5 0h2m1 0h1m1 0h1m2 0h2m1 0h1m2 0h6m1 0h6m2 0h1m1 0h4m1 0h5m1 0h7m1 0h2m1 0h5m1 0h3m4 0h1m2 0h2m2 0h3m34 0h1M637 917.5h1m5 0h1m14 0h2m1 0h1m6 0h1m1 0h5m1 0h4m2 0h1m1 0h8m1 0h10m1 0h4m2 0h1m2 0h1m1 0h4m1 0h1m4 0h1m3 0h1m6 0h1m12 0h1M637 918.5h1m6 0h1m4 0h1m2 0h1m2 0h1m1 0h1m3 0h3m2 0h1m1 0h1m3 0h1m3 0h3m1 0h12m1 0h3m1 0h1m1 0h2m1 0h2m1 0h5m2 0h1m7 0h1m2 0h1m5 0h1M646 919.5h1m4 0h1m7 0h1m3 0h1m7 0h3m2 0h1m4 0h3m2 0h5m2 0h2m1 0h4m1 0h1m1 0h2m3 0h1m6 0h4m3 0h1m52 0h1M647 920.5h2m8 0h2m1 0h2m2 0h2m1 0h6m7 0h3m1 0h1m3 0h1m1 0h2m3 0h1m2 0h2m2 0h2m2 0h1m2 0h1m2 0h2m8 0h1m3 0h1M665 921.5h1m5 0h3m2 0h1m1 0h1m2 0h2m1 0h1m1 0h1m1 0h1m2 0h4m2 0h1m2 0h1m3 0h1m1 0h2m3 0h1m3 0h1m1 0h1m3 0h1m15 0h1M645 922.5h1m5 0h1m9 0h1m2 0h1m2 0h1m7 0h2m1 0h1m1 0h2m1 0h3m1 0h1m3 0h1m1 0h1m1 0h2m2 0h1m2 0h1m1 0h1m3 0h1m1 0h1m2 0h2m8 0h1m14 0h1M640 923.5h1m5 0h1m16 0h1m1 0h1m1 0h1m2 0h1m6 0h1m2 0h1m3 0h1m3 0h1m3 0h2m1 0h1m2 0h1m4 0h1m10 0h4m12 0h1m4 0h1M656 924.5h1m2 0h1m6 0h2m4 0h2m6 0h3m3 0h2m1 0h2m3 0h1m5 0h1m2 0h1m5 0h1m2 0h1m3 0h1M645 925.5h1m1 0h1m11 0h1m6 0h2m5 0h1m3 0h1m3 0h2m5 0h1m1 0h1m1 0h1m6 0h1m1 0h2m2 0h2m2 0h1m3 0h1m29 0h1M653 926.5h1m20 0h1m2 0h1m5 0h1m6 0h1m2 0h1m2 0h3m5 0h1m2 0h2m4 0h1m1 0h1M665 927.5h1m7 0h1m1 0h1m2 0h1m15 0h2m7 0h1m15 0h1m7 0h1M643 928.5h1m10 0h1m9 0h1m4 0h1m13 0h1m1 0h1m6 0h1m1 0h1m11 0h2M644 929.5h1m9 0h1m16 0h1m6 0h1m7 0h2m2 0h1m8 0h1m6 0h1m3 0h1m9 0h1M658 930.5h1m6 0h1m2 0h1m13 0h1m25 0h1m4 0h1M674 931.5h1m4 0h1m14 0h4M672 932.5h1m4 0h1m6 0h1m21 0h1M638 933.5h1m31 0h1m14 0h1m15 0h1M686 934.5h1M652 935.5h1m40 0h1m5 0h1M683 936.5h1m15 0h1m16 0h1M662 938.5h1" stroke="#4169e1" stroke-width="1" fill="none"/>
<path d="M824 209.5h1M859 225.5h1M852 227.5h1M859 229.5h1M865 234.5h1M860 235.5h1m30 0h1M862 236.5h1M866 237.5h1M842 238.5h1m6 0h1M873 240.5h1M836 242.5h1M859 243.5h2m2 0h1m2 0h1m1 0h1m3 0h1m5 0h1M867 244.5h1m4 0h1M835 245.5h1M826 246.5h1m46 0h1M861 247.5h1m13 0h2M856 248.5h1M832 249.5h1m13 0h1m35 0h1M835 251.5h1m5 0h1M826 252.5h1m30 0h1m5 0h1M834 253.5h1m28 0h1m5 0h1M847 254.5h2m11 0h1m22 0h2M849 255.5h1m10 0h1M835 258.5h1M841 260.5h1M874 261.5h1M850 262.5h1M857 264.5h1m16 0h1m19 0h1M409 454.5h1M327 456.5h1M331 457.5h1M270 459.5h1M367 462.5h1m10 0h1M380 467.5h1M384 468.5h1M425 470.5h1M396 473.5h1m29 0h1M296 474.5h1m55 0h1M364 475.5h1M365 476.5h1M274 477.5h1M378 483.5h1M369 485.5h1M313 486.5h1M290 491.5h1M268 553.5h1M246 554.5h1M251 556.5h1m6 0h1M227 557.5h1M269 558.5h1M257 559.5h1m1 0h1M266 560.5h1m3 0h1M265 561.5h1M244 562.5h1m25 0h1M247 563.5h1m14 0h1M235 564.5h1m19 0h1M278 565.5h1M268 568.5h1" stroke="#7b2a8c" stroke-width="1" fill="none"/>
<path d="M226 739.5h1M244 740.5h1M282 741.5h1M261 744.5h1m8 0h1M236 747.5h1m44 0h1M264 748.5h1M258 750.5h1m13 0h1M250 751.5h1m46 0h1M242 752.5h1m7 0h1m3 0h1m24 0h1m1 0h1M255 753.5h1m18 0h1M223 754.5h1m33 0h1m17 0h1m11 0h1m4 0h1m8 0h1M245 755.5h1m9 0h1m9 0h1m6 0h1m12 0h1m4 0h1m1 0h1m3 0h1M230 756.5h1m2 0h1m12 0h1m10 0h1m6 0h1m1 0h1m1 0h1m1 0h1m5 0h1m2 0h1m30 0h1m2 0h1M207 757.5h1m26 0h1m10 0h1m2 0h3m7 0h1m4 0h2m4 0h2m3 0h1m3 0h1m9 0h1m15 0h1M240 758.5h1m8 0h3m6 0h1m1 0h1m8 0h1m16 0h1m20 0h2M229 759.5h1m1 0h2m14 0h1m5 0h1m3 0h2m1 0h1m2 0h1m1 0h2m6 0h2m1 0h1m2 0h1m8 0h1m3 0h1m2 0h2m5 0h1m9 0h1m3 0h1M232 760.5h1m18 0h2m1 0h1m1 0h2m2 0h2m2 0h2m2 0h3m2 0h2m5 0h3m1 0h2m7 0h1m2 0h2m5 0h1m4 0h1m1 0h1m36 0h1M211 761.5h1m7 0h1m12 0h1m1 0h1m1 0h1m2 0h2m1 0h1m3 0h3m2 0h2m2 0h1m1 0h2m2 0h2m4 0h2m1 0h2m1 0h2m1 0h3m2 0h3m1 0h3m2 0h1m1 0h1m14 0h1m2 0h1m3 0h1m1 0h1M222 762.5h1m3 0h1m10 0h1m3 0h2m1 0h1m3 0h1m1 0h2m1 0h3m1 0h1m1 0h1m3 0h2m2 0h3m2 0h2m1 0h2m1 0h6m5 0h4m2 0h1m5 0h1m1 0h2m1 0h1m1 0h1m1 0h1m1 0h1m10 0h1m15 0h1M202 763.5h1m32 0h1m1 0h1m1 0h1m2 0h4m1 0h3m3 0h7m1 0h3m1 0h5m1 0h4m1 0h1m1 0h2m5 0h1m1 0h6m1 0h2m3 0h2m1 0h3m1 0h1m2 0h4m6 0h2m3 0h1M204 764.5h1m26 0h1m1 0h1m2 0h4m3 0h2m4 0h1m4 0h5m1 0h4m1 0h6m1 0h4m1 0h1m2 0h2m3 0h5m3 0h6m1 0h2m1 0h1m4 0h1m2 0h3m2 0h2m5 0h1m1 0h1M196 765.5h1m23 0h2m7 0h2m2 0h1m2 0h2m5 0h1m4 0h2m1 0h2m1 0h5m1 0h2m3 0h5m1 0h3m1 0h3m2 0h4m1 0h6m2 0h3m3 0h1m1 0h2m2 0h4m3 0h2m33 0h1M220 766.5h1m2 0h1m3 0h1m4 0h1m3 0h1m2 0h3m6 0h2m1 0h12m1 0h3m1 0h4m1 0h3m1 0h13m2 0h1m1 0h2m2 0h3m2 0h1m2 0h1m2 0h3m2 0h1m3 0h1m1 0h1m1 0h2m11 0h1m17 0h1M219 767.5h1m4 0h2m3 0h1m1 0h3m1 0h2m2 0h2m1 0h2m2 0h5m2 0h2m1 0h27m2 0h8m2 0h3m2 0h4m1 0h2m2 0h2m1 0h1m3 0h1m1 0h1m1 0h1m3 0h1m4 0h1M221 768.5h1m1 0h1m2 0h1m1 0h1m5 0h2m1 0h1m2 0h2m1 0h21m1 0h35m1 0h2m1 0h1m2 0h4m2 0h1m2 0h1m4 0h1m3 0h1m7 0h1M217 769.5h1m2 0h1m2 0h1m1 0h1m4 0h1m3 0h1m3 0h1m1 0h5m1 0h1m1 0h50m1 0h2m1 0h1m1 0h1m2 0h1m2 0h3m2 0h4m3 0h1m2 0h1m9 0h1M203 770.5h1m6 0h1m2 0h2m3 0h1m2 0h1m1 0h2m1 0h1m1 0h1m1 0h1m1 0h2m3 0h8m1 0h61m2 0h1m1 0h4m1 0h1m1 0h1m2 0h1m3 0h1m9 0h1M214 771.5h1m1 0h1m2 0h1m2 0h1m5 0h1m4 0h9m1 0h58m2 0h4m1 0h7m2 0h1m5 0h1m7 0h1m26 0h1M193 772.5h1m15 0h1m3 0h1m3 0h1m1 0h1m3 0h2m2 0h1m5 0h1m1 0h5m1 0h54m1 0h2m1 0h4m1 0h3m1 0h1m1 0h7m2 0h1m2 0h2m1 0h1m2 0h1m5 0h1M208 773.5h1m9 0h1m3 0h2m1 0h1m3 0h6m2 0h1m1 0h73m1 0h1m1 0h1m1 0h1m1 0h1m3 0h1m1 0h4m1 0h1m3 0h1m2 0h1M208 774.5h2m3 0h1m2 0h1m4 0h1m5 0h1m4 0h2m1 0h1m2 0h4m1 0h2m1 0h59m1 0h5m1 0h3m1 0h1m6 0h1m1 0h1m4 0h1m2 0h2m2 0h1M206 775.5h1m11 0h3m4 0h7m1 0h1m2 0h5m1 0h66m1 0h4m2 0h1m1 0h1m3 0h2m3 0h1m8 0h1m4 0h1m4 0h1M217 776.5h1m3 0h1m3 0h2m1 0h3m2 0h2m1 0h3m1 0h1m1 0h73m1 0h4m1 0h1m1 0h1m1 0h1m3 0h3M193 777.5h1m2 0h1m1 0h1m12 0h1m3 0h1m3 0h1m4 0h4m1 0h2m1 0h4m2 0h79m2 0h1m3 0h1m4 0h2m1 0h2m4 0h2m4 0h1M193 778.5h1m14 0h1m3 0h2m6 0h1m4 0h1m1 0h5m1 0h74m1 0h6m1 0h2m2 0h4m2 0h1m1 0h1m6 0h1m4 0h1M206 779.5h1m3 0h1m3 0h4m2 0h1m1 0h1m1 0h2m1 0h1m2 0h68m1 0h13m1 0h7m2 0h1m1 0h1m1 0h2m1 0h1m18 0h1M207 780.5h1m2 0h1m9 0h2m1 0h2m2 0h7m1 0h3m1 0h74m2 0h1m2 0h4m5 0h1m7 0h1m1 0h1m7 0h1M207 781.5h1m6 0h1m3 0h2m1 0h2m2 0h1m1 0h11m1 0h5m1 0h61m2 0h11m1 0h2m1 0h2m5 0h1m1 0h1m35 0h1M204 782.5h1m13 0h2m2 0h1m1 0h1m2 0h6m1 0h5m1 0h77m2 0h3m2 0h1m1 0h1m1 0h1m3 0h4M211 783.5h1m4 0h3m1 0h1m1 0h2m1 0h1m1 0h5m2 0h2m1 0h81m1 0h2m3 0h4m9 0h1m3 0h1m2 0h1M205 784.5h2m9 0h2m1 0h1m3 0h2m2 0h4m3 0h3m1 0h81m3 0h2m1 0h1m2 0h1m7 0h1M202 785.5h1m8 0h1m5 0h1m2 0h3m1 0h1m6 0h6m1 0h69m1 0h9m1 0h3m4 0h1M213 786.5h1m3 0h1m3 0h2m1 0h2m4 0h2m1 0h1m1 0h59m1 0h1m1 0h14m3 0h3m4 0h1m5 0h1m4 0h1m10 0h1M194 787.5h1m15 0h1m3 0h1m3 0h2m4 0h3m2 0h1m2 0h3m2 0h7m1 0h2m1 0h68m2 0h1m3 0h1m9 0h1m2 0h1M219 788.5h1m1 0h1m3 0h2m1 0h1m1 0h6m1 0h6m1 0h14m1 0h44m1 0h1m1 0h3m1 0h1m1 0h3m2 0h4m2 0h1m2 0h1m4 0h1M191 789.5h1m14 0h1m12 0h1m1 0h1m2 0h1m1 0h1m1 0h1m3 0h1m1 0h3m2 0h1m1 0h17m1 0h37m1 0h2m2 0h13m3 0h1m1 0h2M201 790.5h1m1 0h1m5 0h1m8 0h1m8 0h1m3 0h4m2 0h1m2 0h13m1 0h8m1 0h34m1 0h9m2 0h1m4 0h4m12 0h1m11 0h1M226 791.5h1m5 0h8m1 0h4m1 0h3m2 0h46m1 0h8m1 0h5m1 0h2m6 0h1m3 0h1m7 0h1M211 792.5h1m8 0h2m13 0h1m2 0h1m1 0h1m1 0h1m1 0h5m1 0h2m1 0h1m1 0h3m1 0h29m2 0h22m2 0h1m3 0h2m3 0h2m5 0h2M198 793.5h1m11 0h1m9 0h1m2 0h1m3 0h1m1 0h1m1 0h1m1 0h3m2 0h1m1 0h2m1 0h5m1 0h2m1 0h1m1 0h10m1 0h10m1 0h3m1 0h4m1 0h10m2 0h1m1 0h2m1 0h1m1 0h2m2 0h3m6 0h1m1 0h1m6 0h4m13 0h1m7 0h1M208 794.5h1m25 0h2m1 0h3m4 0h4m1 0h1m1 0h1m1 0h12m1 0h11m1 0h15m1 0h2m1 0h2m1 0h1m2 0h2m4 0h1m1 0h2m1 0h2m1 0h1m1 0h2M234 795.5h1m1 0h1m1 0h1m4 0h1m1 0h4m8 0h12m2 0h1m1 0h1m1 0h2m1 0h5m1 0h5m3 0h2m3 0h4m2 0h2m1 0h2m1 0h2m1 0h1m1 0h1m10 0h1M233 796.5h1m7 0h5m1 0h4m1 0h1m1 0h1m1 0h1m3 0h4m1 0h1m1 0h3m1 0h4m1 0h1m1 0h1m1 0h6m1 0h1m2 0h1m3 0h1m6 0h3m3 0h1m3 0h1m2 0h1m1 0h1m11 0h1M205 797.5h1m9 0h1m13 0h1m4 0h1m3 0h1m5 0h3m3 0h1m1 0h1m5 0h1m1 0h3m1 0h9m2 0h5m3 0h5m1 0h4m1 0h1m1 0h1m2 0h1m5 0h1m1 0h1m11 0h1m1 0h1m1 0h1m9 0h1M248 798.5h1m4 0h4m1 0h1m1 0h3m2 0h1m1 0h3m2 0h2m1 0h2m3 0h5m2 0h1m1 0h1m2 0h2m1 0h1m1 0h1m6 0h1m1 0h2m11 0h1M226 799.5h1m10 0h2m1 0h3m4 0h3m4 0h1m3 0h1m2 0h3m6 0h1m1 0h1m1 0h1m2 0h3m2 0h8m1 0h1m2 0h3m1 0h1m2 0h1m13 0h1m3 0h1m5 0h1M232 800.5h3m1 0h3m2 0h1m7 0h1m3 0h1m9 0h1m1 0h1m1 0h1m3 0h1m1 0h2m2 0h8m1 0h2m2 0h1m7 0h2m6 0h1M244 801.5h2m2 0h1m1 0h1m9 0h1m4 0h3m2 0h2m3 0h1m4 0h1m4 0h2m1 0h1m1 0h2m3 0h1m3 0h1m6 0h1m14 0h1M245 802.5h1m2 0h1m6 0h1m3 0h1m1 0h1m5 0h2m1 0h2m5 0h1m9 0h1m3 0h1m8 0h1m4 0h1m14 0h1m1 0h1M240 803.5h2m9 0h1m3 0h1m3 0h2m13 0h1m1 0h1m1 0h1m1 0h2m18 0h1m3 0h1M227 804.5h1m14 0h1m4 0h1m7 0h1m8 0h1m4 0h1m3 0h1m5 0h1m4 0h1m6 0h1m10 0h1m6 0h1M247 805.5h1m1 0h1m4 0h1m3 0h1m6 0h2m11 0h1m8 0h1m15 0h1m7 0h1M236 806.5h1m28 0h1m2 0h1m14 0h1m15 0h1M232 807.5h1m8 0h1m5 0h1m24 0h1m2 0h1m4 0h1M272 808.5h1m26 0h1m2 0h1m2 0h1M260 809.5h1m14 0h1m27 0h1M282 810.5h1m11 0h1M273 811.5h1M255 812.5h1m2 0h1m23 0h1m23 0h1M253 813.5h1m11 0h1m4 0h1m1 0h1M296 815.5h1" stroke="#556b2f" stroke-width="1" fill="none"/>
<path d="M816 731.5h1m43 0h1M843 732.5h1m9 0h1M813 733.5h1m10 0h1M781 736.5h1m44 0h1M832 737.5h1M820 739.5h1M804 740.5h1M788 741.5h1m27 0h1m27 0h1M815 743.5h1M817 744.5h1M795 745.5h1M777 749.5h1m44 0h1M793 750.5h1M843 751.5h1M811 756.5h1M800 757.5h1M803 758.5h1M859 760.5h1M834 762.5h1M803 764.5h1M853 766.5h1M793 767.5h1M832 770.5h1M845 771.5h1M776 772.5h1m44 0h1M826 773.5h1M860 774.5h1M776 776.5h1M776 780.5h1m64 0h1m5 0h1M779 782.5h1m27 0h1M796 783.5h1M787 785.5h1m54 0h1M790 787.5h1M775 789.5h1M855 791.5h1M824 792.5h1M824 793.5h1M811 796.5h1M839 798.5h1M852 799.5h1M795 800.5h1M808 803.5h1M812 805.5h1m22 0h1M796 806.5h1M793 808.5h1M861 809.5h1M808 810.5h1M841 811.5h1M838 812.5h1M794 813.5h1m31 0h2M785 814.5h1M834 815.5h1M790 816.5h1M824 818.5h1M786 819.5h1M840 820.5h1M787 823.5h1M782 824.5h1M820 825.5h1M850 827.5h1M784 828.5h1m27 0h1m11 0h1M812 830.5h1M810 834.5h1m27 0h1M792 838.5h1m31 0h1m23 0h1M795 840.5h1M791 841.5h1m10 0h1m13 0h1m32 0h1M795 842.5h1M778 843.5h1m10 0h1M824 844.5h1M789 845.5h1m7 0h1m41 0h1M783 847.5h1M794 848.5h1M817 849.5h1M794 850.5h1M795 852.5h1M822 853.5h1M809 854.5h1M810 856.5h1M818 858.5h1M809 859.5h1M782 862.5h1m15 0h1m50 0h1M820 865.5h1m17 0h1M817 868.5h1m13 0h1M786 870.5h1M819 871.5h1M800 872.5h1M811 873.5h1M822 874.5h1M803 875.5h1m43 0h1M799 876.5h1M856 878.5h1M840 880.5h1M857 882.5h1M791 883.5h1M803 885.5h1M827 886.5h1M815 887.5h1M785 889.5h1m36 0h1m36 0h1M806 890.5h1m13 0h1M850 891.5h1M797 892.5h1m49 0h1M781 895.5h1m47 0h1M829 899.5h1M839 901.5h1M834 902.5h1m19 0h1M797 905.5h1M793 906.5h1M775 907.5h1m57 0h1M825 908.5h1M812 909.5h1M837 910.5h1m21 0h1M801 912.5h1M836 913.5h1m8 0h1M836 915.5h1M793 916.5h1m8 0h1m18 0h1m20 0h1M793 917.5h1M840 918.5h1M833 923.5h1M851 926.5h1M812 928.5h1M849 929.5h1M790 930.5h1M797 935.5h1m55 0h1M807 936.5h1m48 0h1" stroke="#5a5a2a" stroke-width="1" fill="none"/>
<path d="M264.0 294.0L272.0 290.0L284.0 286.5L298.0 283.0L311.0 280.0L322.0 279.0L336.0 279.0L349.0 280.0L360.0 284.0L372.0 289.0L393.5 297.5L375.0 303.0L360.0 307.0L343.0 310.0L330.0 309.5L322.0 308.5L300.0 306.0L280.0 304.0L264.0 302.0Z" fill="#ff6347" stroke="none"/>
<path d="M287 287.5h1M352 281.5h1M343 284.5h1M355 285.5h1M359 285.5h1M313 283.5h1M328 281.5h1M308 287.5h1M334 284.5h1M339 279.5h1M361 286.5h1M348 288.5h1M353 282.5h1M323 280.5h1M347 280.5h1M367 289.5h1M345 285.5h1M331 280.5h1M359 284.5h1M334 289.5h1M331 283.5h1M325 280.5h1M323 284.5h1M362 285.5h1M354 285.5h1M315 288.5h1M336 283.5h1M316 282.5h1M322 281.5h1M306 284.5h1M334 282.5h1M329 282.5h1M321 279.5h1M363 288.5h1M312 283.5h1M341 279.5h1M358 286.5h1M311 286.5h1M341 280.5h1M334 283.5h1M319 283.5h1M368 287.5h1M326 285.5h1M354 286.5h1M299 284.5h1M349 283.5h1M332 280.5h1M322 279.5h1M326 281.5h1M356 286.5h1M354 284.5h1M346 288.5h1M292 289.5h1M310 282.5h1M346 282.5h1M323 280.5h1M313 289.5h1M314 281.5h1M290 285.5h1M344 281.5h1M294 286.5h1M334 283.5h1M294 289.5h1M333 282.5h1M330 283.5h1M349 284.5h1M312 289.5h1M319 282.5h1M312 284.5h1M309 283.5h1M361 286.5h1M339 282.5h1M305 286.5h1M336 281.5h1M332 279.5h1M328 280.5h1M315 286.5h1M323 286.5h1M339 288.5h1M341 281.5h1M352 282.5h1M333 283.5h1M326 282.5h1M321 280.5h1M335 284.5h1M316 284.5h1M335 285.5h1M335 281.5h1M331 282.5h1M335 287.5h1M294 285.5h1M324 286.5h1M277 290.5h1M346 289.5h1M293 288.5h1M302 283.5h1M336 280.5h1M305 283.5h1M325 284.5h1M338 281.5h1M353 286.5h1M299 283.5h1M327 287.5h1M307 288.5h1M348 280.5h1M324 285.5h1M320 279.5h1M283 287.5h1M310 284.5h1M343 289.5h1M311 284.5h1M291 290.5h1M328 279.5h1M324 279.5h1M354 285.5h1M317 286.5h1M322 279.5h1M329 282.5h1M366 287.5h1M363 286.5h1M327 279.5h1M341 285.5h1M321 281.5h1M345 285.5h1M333 281.5h1M318 279.5h1M316 288.5h1M329 284.5h1M296 285.5h1M346 282.5h1M307 284.5h1M295 291.5h1M330 285.5h1M322 280.5h1M323 282.5h1M309 287.5h1M284 287.5h1M323 285.5h1M323 286.5h1M320 283.5h1M307 285.5h1M322 285.5h1M344 281.5h1M341 284.5h1M282 287.5h1M326 284.5h1M341 284.5h1M309 287.5h1M321 284.5h1M308 281.5h1M301 288.5h1M366 288.5h1M327 284.5h1M321 282.5h1M329 280.5h1M298 284.5h1M319 279.5h1M341 281.5h1M333 284.5h1M311 280.5h1M311 289.5h1M323 285.5h1M341 289.5h1M343 284.5h1M336 282.5h1M355 285.5h1M309 281.5h1M359 288.5h1M350 282.5h1M338 280.5h1" stroke="#fff" stroke-width="1"/><path d="M341 305.5h1M326 304.5h1M314 305.5h1M371 302.5h1M331 308.5h1M367 303.5h1M348 305.5h1M335 302.5h1M340 301.5h1M354 303.5h1M358 302.5h1M360 304.5h1M328 302.5h1M362 301.5h1M366 302.5h1M339 305.5h1M337 304.5h1M343 308.5h1M338 304.5h1M362 304.5h1M351 300.5h1M351 307.5h1M352 303.5h1M335 308.5h1M347 307.5h1M336 307.5h1M336 302.5h1M367 302.5h1M344 303.5h1M353 305.5h1M314 307.5h1M347 307.5h1M339 301.5h1M334 302.5h1M330 303.5h1M343 302.5h1M342 303.5h1M346 304.5h1M324 307.5h1M355 303.5h1" stroke="#fff" stroke-width="1"/><path d="M315.5 230.5H332V253.5H340.5L324 267L307.5 253.5H315.5Z" fill="#c00000"/><text x="263" y="273.2" font-size="12.3" fill="#222" font-family="DejaVu Sans, sans-serif" textLength="15" lengthAdjust="spacingAndGlyphs">P1</text>
<g shape-rendering="auto">
<path d="M201 317.5h4M207.5 319v4M203 308.5h2M220.5 319v2M203 298.5h2M234.5 319v2M203 289.5h2M248.5 319v2M203 280.5h2M262.5 319v2M201 270.5h4M276.5 319v4M203 261.5h2M290.5 319v2M203 251.5h2M303.5 319v2M203 242.5h2M317.5 319v2M203 232.5h2M331.5 319v2M201 223.5h4M345.5 319v4M203 213.5h2M359.5 319v2M203 204.5h2M373.5 319v2M203 195.5h2M387.5 319v2M203 185.5h2M400.5 319v2M201 176.5h4M414.5 319v4M203 166.5h2M428.5 319v2M203 157.5h2M442.5 319v2M203 147.5h2M456.5 319v2M203 138.5h2M470.5 319v2M201 129.5h4M483.5 319v4M203 119.5h2M497.5 319v2M203 110.5h2M511.5 319v2M203 100.5h2M525.5 319v2M203 91.5h2M539.5 319v2M201 81.5h4M553.5 319v4M203 72.5h2M566.5 319v2" stroke="#b0b0b0" stroke-width="1" fill="none"/>
<text x="200.5" y="320.1" font-size="7.5" fill="#111" font-family="'DejaVu Sans', sans-serif" text-anchor="end" font-weight="bold">0</text>
<text x="206.6" y="328.6" font-size="7.5" fill="#111" font-family="'DejaVu Sans', sans-serif" text-anchor="middle" font-weight="bold">0</text>
<text x="200.5" y="272.9" font-size="7.5" fill="#111" font-family="'DejaVu Sans', sans-serif" text-anchor="end" font-weight="bold">50</text>
<text x="275.8" y="328.6" font-size="7.5" fill="#111" font-family="'DejaVu Sans', sans-serif" text-anchor="middle" font-weight="bold">50</text>
<text x="200.5" y="225.7" font-size="7.5" fill="#111" font-family="'DejaVu Sans', sans-serif" text-anchor="end" font-weight="bold">100</text>
<text x="345.0" y="328.6" font-size="7.5" fill="#111" font-family="'DejaVu Sans', sans-serif" text-anchor="middle" font-weight="bold">100</text>
<text x="200.5" y="178.5" font-size="7.5" fill="#111" font-family="'DejaVu Sans', sans-serif" text-anchor="end" font-weight="bold">150</text>
<text x="414.2" y="328.6" font-size="7.5" fill="#111" font-family="'DejaVu Sans', sans-serif" text-anchor="middle" font-weight="bold">150</text>
<text x="200.5" y="131.3" font-size="7.5" fill="#111" font-family="'DejaVu Sans', sans-serif" text-anchor="end" font-weight="bold">200</text>
<text x="483.4" y="328.6" font-size="7.5" fill="#111" font-family="'DejaVu Sans', sans-serif" text-anchor="middle" font-weight="bold">200</text>
<text x="200.5" y="84.1" font-size="7.5" fill="#111" font-family="'DejaVu Sans', sans-serif" text-anchor="end" font-weight="bold">250</text>
<text x="552.6" y="328.6" font-size="7.5" fill="#111" font-family="'DejaVu Sans', sans-serif" text-anchor="middle" font-weight="bold">250</text>
<text x="569.0" y="337.5" font-size="6.5" fill="#111" font-family="'DejaVu Sans', sans-serif" text-anchor="end" textLength="24.0" lengthAdjust="spacingAndGlyphs" font-weight="bold">x1000</text>
<svg x="180" y="65.5" width="30" height="3" overflow="hidden"><text x="4" y="3.2" font-size="6.5" font-weight="bold" fill="#111" font-family="DejaVu Sans, sans-serif" textLength="23" lengthAdjust="spacingAndGlyphs">x1000</text></svg>
<text x="374.7" y="350.8" font-size="10.6" fill="#111" font-family="'DejaVu Sans', sans-serif" textLength="33.7" lengthAdjust="spacingAndGlyphs" stroke="#111" stroke-width="0.25">FSC-A</text>
<text transform="translate(178.3,206.0) rotate(-90)" font-size="14.5" fill="#111" font-family="'DejaVu Sans', sans-serif" textLength="27.0" lengthAdjust="spacingAndGlyphs" stroke="#111" stroke-width="0.25">SSC-A</text>
<text x="166.0" y="352.0" font-size="7.7" fill="#8a8a8a" font-family="'DejaVu Sans', sans-serif" textLength="60.0" lengthAdjust="spacingAndGlyphs">122280, 115651</text>
<text transform="translate(147.3,68.6) scale(1.11,1)" font-size="26.6" fill="#000" font-family="'Liberation Sans', sans-serif">A</text>
<text x="169.7" y="68.6" font-size="26.6" fill="#000" font-family="'Liberation Sans', sans-serif">)</text>
<rect x="205.5" y="68.5" width="363" height="250" fill="none" stroke="#a0a0a0" stroke-width="1"/>
<rect x="623.5" y="67.5" width="350" height="247" fill="none" stroke="#a0a0a0" stroke-width="1"/>
<path d="M781.1 68V314" stroke="#6a6a6a" stroke-width="1.9" fill="none"/>
<path d="M624 221.9H973" stroke="#6a6a6a" stroke-width="1.5" fill="none"/>
<text transform="translate(624.5,79.0) scale(1.11,1)" font-size="10.6" fill="#2a2a2a" font-family="'DejaVu Sans', sans-serif" stroke="#2a2a2a" stroke-width="0.3">Q11_UL</text>
<text transform="translate(624.5,91.5) scale(1.11,1)" font-size="10.6" fill="#2a2a2a" font-family="'DejaVu Sans', sans-serif" stroke="#2a2a2a" stroke-width="0.3">0.12</text>
<text transform="translate(973.5,79.0) scale(1.11,1)" font-size="10.6" fill="#2a2a2a" font-family="'DejaVu Sans', sans-serif" text-anchor="end" stroke="#2a2a2a" stroke-width="0.3">Q11_UR</text>
<text transform="translate(926.6,91.5) scale(1.11,1)" font-size="10.6" fill="#2a2a2a" font-family="'DejaVu Sans', sans-serif" stroke="#2a2a2a" stroke-width="0.3">33.88</text>
<text transform="translate(624.5,298.7) scale(1.11,1)" font-size="10.6" fill="#2a2a2a" font-family="'DejaVu Sans', sans-serif" stroke="#2a2a2a" stroke-width="0.3">Q11_LL</text>
<text transform="translate(624.5,311.5) scale(1.11,1)" font-size="10.6" fill="#2a2a2a" font-family="'DejaVu Sans', sans-serif" stroke="#2a2a2a" stroke-width="0.3">64.78</text>
<text transform="translate(973.5,298.7) scale(1.11,1)" font-size="10.6" fill="#2a2a2a" font-family="'DejaVu Sans', sans-serif" text-anchor="end" stroke="#2a2a2a" stroke-width="0.3">Q11_LR</text>
<text transform="translate(928.0,311.5) scale(1.11,1)" font-size="10.6" fill="#2a2a2a" font-family="'DejaVu Sans', sans-serif" stroke="#2a2a2a" stroke-width="0.3">1.21</text>
<text transform="translate(587.6,61.7) scale(1.02,1)" font-size="26.6" fill="#000" font-family="'Liberation Sans', sans-serif">B</text>
<text x="608.8" y="61.7" font-size="26.6" fill="#000" font-family="'Liberation Sans', sans-serif">)</text>
<text x="763.2" y="336.8" font-size="10.2" fill="#111" font-family="'DejaVu Sans', sans-serif" textLength="80.3" lengthAdjust="spacingAndGlyphs" stroke="#111" stroke-width="0.25">CD3 PE-Cy7-A</text>
<text transform="translate(602.0,221.0) rotate(-90)" font-size="13.7" fill="#111" font-family="'DejaVu Sans', sans-serif" textLength="59.5" lengthAdjust="spacingAndGlyphs" stroke="#111" stroke-width="0.25">CD28 FITC-A</text>
<text x="589.0" y="339.0" font-size="7.7" fill="#8a8a8a" font-family="'DejaVu Sans', sans-serif" textLength="39.0" lengthAdjust="spacingAndGlyphs">114, 1386</text>
<path d="M656.5 315v4M676.5 315v4M700.5 315v4M781.5 315v4M865.5 315v4M942.5 315v4M658.5 315v2M660.5 315v2M662.5 315v2M664.5 315v2M666.5 315v2M668.5 315v2M670.5 315v2M672.5 315v2M674.5 315v2M679.5 315v2M681.5 315v2M683.5 315v2M686.5 315v2M688.5 315v2M690.5 315v2M693.5 315v2M695.5 315v2M697.5 315v2M724.5 315v2M738.5 315v2M749.5 315v2M756.5 315v2M763.5 315v2M768.5 315v2M773.5 315v2M777.5 315v2M806.5 315v2M821.5 315v2M832.5 315v2M840.5 315v2M846.5 315v2M852.5 315v2M857.5 315v2M861.5 315v2M888.5 315v2M902.5 315v2M911.5 315v2M919.5 315v2M925.5 315v2M930.5 315v2M935.5 315v2M938.5 315v2M965.5 315v2M619 91.5h4M619 146.5h4M619 202.5h4M619 261.5h4M619 288.5h4M621 285.5h2M621 283.5h2M621 280.5h2M621 277.5h2M621 274.5h2M621 272.5h2M621 269.5h2M621 266.5h2M621 264.5h2M621 243.5h2M621 233.5h2M621 225.5h2M621 220.5h2M621 215.5h2M621 211.5h2M621 208.5h2M621 205.5h2M621 185.5h2M621 175.5h2M621 168.5h2M621 163.5h2M621 158.5h2M621 155.5h2M621 151.5h2M621 149.5h2M621 129.5h2M621 120.5h2M621 113.5h2M621 108.5h2M621 103.5h2M621 100.5h2M621 96.5h2M621 94.5h2M621 74.5h2" stroke="#b0b0b0" stroke-width="1" fill="none"/>
<text transform="translate(655.5,325.0) scale(1.15,1)" font-size="7" fill="#111" font-family="'DejaVu Sans', sans-serif" text-anchor="middle" stroke="#111" stroke-width="0.35">-10<tspan font-size="6" dy="-3.2">2</tspan></text>
<text transform="translate(676.5,325.0) scale(1.15,1)" font-size="7" fill="#111" font-family="'DejaVu Sans', sans-serif" text-anchor="middle" stroke="#111" stroke-width="0.35">0</text>
<text transform="translate(699.5,325.0) scale(1.15,1)" font-size="7" fill="#111" font-family="'DejaVu Sans', sans-serif" text-anchor="middle" stroke="#111" stroke-width="0.35">10<tspan font-size="6" dy="-3.2">2</tspan></text>
<text transform="translate(781.0,325.0) scale(1.15,1)" font-size="7" fill="#111" font-family="'DejaVu Sans', sans-serif" text-anchor="middle" stroke="#111" stroke-width="0.35">10<tspan font-size="6" dy="-3.2">3</tspan></text>
<text transform="translate(865.0,325.0) scale(1.15,1)" font-size="7" fill="#111" font-family="'DejaVu Sans', sans-serif" text-anchor="middle" stroke="#111" stroke-width="0.35">10<tspan font-size="6" dy="-3.2">4</tspan></text>
<text transform="translate(942.0,325.0) scale(1.15,1)" font-size="7" fill="#111" font-family="'DejaVu Sans', sans-serif" text-anchor="middle" stroke="#111" stroke-width="0.35">10<tspan font-size="6" dy="-3.2">5</tspan></text>
<text transform="translate(624.5,94.5) scale(1.15,1)" font-size="7" fill="#111" font-family="'DejaVu Sans', sans-serif" text-anchor="end" stroke="#111" stroke-width="0.35">10<tspan font-size="6" dy="-3.2">5</tspan></text>
<text transform="translate(624.5,149.5) scale(1.15,1)" font-size="7" fill="#111" font-family="'DejaVu Sans', sans-serif" text-anchor="end" stroke="#111" stroke-width="0.35">10<tspan font-size="6" dy="-3.2">4</tspan></text>
<text transform="translate(624.5,205.5) scale(1.15,1)" font-size="7" fill="#111" font-family="'DejaVu Sans', sans-serif" text-anchor="end" stroke="#111" stroke-width="0.35">10<tspan font-size="6" dy="-3.2">3</tspan></text>
<text transform="translate(624.5,264.5) scale(1.15,1)" font-size="7" fill="#111" font-family="'DejaVu Sans', sans-serif" text-anchor="end" stroke="#111" stroke-width="0.35">10<tspan font-size="6" dy="-3.2">2</tspan></text>
<text transform="translate(618.0,291.5) scale(1.15,1)" font-size="7" fill="#111" font-family="'DejaVu Sans', sans-serif" text-anchor="end" stroke="#111" stroke-width="0.35">0</text>
<rect x="208.5" y="382.5" width="349" height="247" fill="none" stroke="#a0a0a0" stroke-width="1"/>
<path d="M370.1 383V629" stroke="#6a6a6a" stroke-width="1.9" fill="none"/>
<path d="M209 530.4H557" stroke="#6a6a6a" stroke-width="1.3" fill="none"/>
<text transform="translate(209.5,394.0) scale(1.11,1)" font-size="10.6" fill="#2a2a2a" font-family="'DejaVu Sans', sans-serif" stroke="#2a2a2a" stroke-width="0.3">Q10_UL</text>
<text transform="translate(209.5,406.5) scale(1.11,1)" font-size="10.6" fill="#2a2a2a" font-family="'DejaVu Sans', sans-serif" stroke="#2a2a2a" stroke-width="0.3">7.49</text>
<text transform="translate(557.5,394.0) scale(1.11,1)" font-size="10.6" fill="#2a2a2a" font-family="'DejaVu Sans', sans-serif" text-anchor="end" stroke="#2a2a2a" stroke-width="0.3">Q10_UR</text>
<text transform="translate(510.6,406.5) scale(1.11,1)" font-size="10.6" fill="#2a2a2a" font-family="'DejaVu Sans', sans-serif" stroke="#2a2a2a" stroke-width="0.3">0.59</text>
<text transform="translate(209.5,613.7) scale(1.11,1)" font-size="10.6" fill="#2a2a2a" font-family="'DejaVu Sans', sans-serif" stroke="#2a2a2a" stroke-width="0.3">Q10_LL</text>
<text transform="translate(209.5,626.5) scale(1.11,1)" font-size="10.6" fill="#2a2a2a" font-family="'DejaVu Sans', sans-serif" stroke="#2a2a2a" stroke-width="0.3">64.78</text>
<text transform="translate(557.5,613.7) scale(1.11,1)" font-size="10.6" fill="#2a2a2a" font-family="'DejaVu Sans', sans-serif" text-anchor="end" stroke="#2a2a2a" stroke-width="0.3">Q10_LR</text>
<text transform="translate(512.0,626.5) scale(1.11,1)" font-size="10.6" fill="#2a2a2a" font-family="'DejaVu Sans', sans-serif" stroke="#2a2a2a" stroke-width="0.3">27.14</text>
<text transform="translate(152.1,390.0) scale(1.0,1)" font-size="26.6" fill="#000" font-family="'Liberation Sans', sans-serif">C</text>
<text x="172.1" y="390.0" font-size="26.6" fill="#000" font-family="'Liberation Sans', sans-serif">)</text>
<text x="360.1" y="651.8" font-size="10.2" fill="#111" font-family="'DejaVu Sans', sans-serif" textLength="54.9" lengthAdjust="spacingAndGlyphs" stroke="#111" stroke-width="0.25">CD4 PE-A</text>
<text transform="translate(186.0,535.8) rotate(-90)" font-size="13.7" fill="#111" font-family="'DejaVu Sans', sans-serif" textLength="61.6" lengthAdjust="spacingAndGlyphs" stroke="#111" stroke-width="0.25">CD8 PerCP-A</text>
<text x="174.7" y="654.0" font-size="7.7" fill="#8a8a8a" font-family="'DejaVu Sans', sans-serif" textLength="37.8" lengthAdjust="spacingAndGlyphs">896, 1579</text>
<path d="M220.5 630v4M252.5 630v4M285.5 630v4M370.5 630v4M452.5 630v4M527.5 630v4M223.5 630v2M226.5 630v2M230.5 630v2M233.5 630v2M236.5 630v2M239.5 630v2M242.5 630v2M246.5 630v2M249.5 630v2M255.5 630v2M259.5 630v2M262.5 630v2M265.5 630v2M268.5 630v2M272.5 630v2M275.5 630v2M278.5 630v2M282.5 630v2M311.5 630v2M326.5 630v2M336.5 630v2M344.5 630v2M351.5 630v2M357.5 630v2M362.5 630v2M366.5 630v2M395.5 630v2M409.5 630v2M419.5 630v2M427.5 630v2M434.5 630v2M439.5 630v2M444.5 630v2M448.5 630v2M475.5 630v2M488.5 630v2M497.5 630v2M504.5 630v2M510.5 630v2M515.5 630v2M520.5 630v2M524.5 630v2M550.5 630v2M204 407.5h4M204 464.5h4M204 533.5h4M204 567.5h4M204 601.5h4M206 598.5h2M206 594.5h2M206 591.5h2M206 587.5h2M206 584.5h2M206 581.5h2M206 577.5h2M206 574.5h2M206 570.5h2M206 564.5h2M206 560.5h2M206 557.5h2M206 553.5h2M206 550.5h2M206 547.5h2M206 543.5h2M206 540.5h2M206 536.5h2M206 512.5h2M206 500.5h2M206 491.5h2M206 485.5h2M206 479.5h2M206 475.5h2M206 471.5h2M206 467.5h2M206 447.5h2M206 437.5h2M206 430.5h2M206 424.5h2M206 420.5h2M206 416.5h2M206 413.5h2M206 410.5h2M206 390.5h2M206 553.5h2M206 554.5h2M206 556.5h2M206 557.5h2M206 559.5h2M206 561.5h2M206 562.5h2M206 564.5h2M206 565.5h2M206 569.5h2M206 570.5h2M206 572.5h2M206 573.5h2M206 575.5h2M206 577.5h2M206 578.5h2M206 580.5h2M206 581.5h2" stroke="#b0b0b0" stroke-width="1" fill="none"/>
<text transform="translate(220.0,640.0) scale(1.15,1)" font-size="7" fill="#111" font-family="'DejaVu Sans', sans-serif" text-anchor="middle" stroke="#111" stroke-width="0.35">-10<tspan font-size="6" dy="-3.2">2</tspan></text>
<text transform="translate(252.0,640.0) scale(1.15,1)" font-size="7" fill="#111" font-family="'DejaVu Sans', sans-serif" text-anchor="middle" stroke="#111" stroke-width="0.35">0</text>
<text transform="translate(285.0,640.0) scale(1.15,1)" font-size="7" fill="#111" font-family="'DejaVu Sans', sans-serif" text-anchor="middle" stroke="#111" stroke-width="0.35">10<tspan font-size="6" dy="-3.2">2</tspan></text>
<text transform="translate(370.0,640.0) scale(1.15,1)" font-size="7" fill="#111" font-family="'DejaVu Sans', sans-serif" text-anchor="middle" stroke="#111" stroke-width="0.35">10<tspan font-size="6" dy="-3.2">3</tspan></text>
<text transform="translate(452.0,640.0) scale(1.15,1)" font-size="7" fill="#111" font-family="'DejaVu Sans', sans-serif" text-anchor="middle" stroke="#111" stroke-width="0.35">10<tspan font-size="6" dy="-3.2">4</tspan></text>
<text transform="translate(527.0,640.0) scale(1.15,1)" font-size="7" fill="#111" font-family="'DejaVu Sans', sans-serif" text-anchor="middle" stroke="#111" stroke-width="0.35">10<tspan font-size="6" dy="-3.2">5</tspan></text>
<text transform="translate(209.5,410.5) scale(1.15,1)" font-size="7" fill="#111" font-family="'DejaVu Sans', sans-serif" text-anchor="end" stroke="#111" stroke-width="0.35">10<tspan font-size="6" dy="-3.2">5</tspan></text>
<text transform="translate(209.5,467.5) scale(1.15,1)" font-size="7" fill="#111" font-family="'DejaVu Sans', sans-serif" text-anchor="end" stroke="#111" stroke-width="0.35">10<tspan font-size="6" dy="-3.2">4</tspan></text>
<text transform="translate(209.5,536.5) scale(1.15,1)" font-size="7" fill="#111" font-family="'DejaVu Sans', sans-serif" text-anchor="end" stroke="#111" stroke-width="0.35">10<tspan font-size="6" dy="-3.2">3</tspan></text>
<text transform="translate(203.0,570.5) scale(1.15,1)" font-size="7" fill="#111" font-family="'DejaVu Sans', sans-serif" text-anchor="end" stroke="#111" stroke-width="0.35">0</text>
<text transform="translate(209.5,604.5) scale(1.15,1)" font-size="7" fill="#111" font-family="'DejaVu Sans', sans-serif" text-anchor="end" stroke="#111" stroke-width="0.35">-10<tspan font-size="6" dy="-3.2">3</tspan></text>
<rect x="620.5" y="385.5" width="371" height="255" fill="none" stroke="#a0a0a0" stroke-width="1"/>
<path d="M779.0 386V640" stroke="#6a6a6a" stroke-width="1.9" fill="none"/>
<path d="M621 525.5H991" stroke="#6a6a6a" stroke-width="1.7" fill="none"/>
<text transform="translate(621.5,397.0) scale(1.11,1)" font-size="10.6" fill="#2a2a2a" font-family="'DejaVu Sans', sans-serif" stroke="#2a2a2a" stroke-width="0.3">Q13_UL</text>
<text transform="translate(621.5,409.5) scale(1.11,1)" font-size="10.6" fill="#2a2a2a" font-family="'DejaVu Sans', sans-serif" stroke="#2a2a2a" stroke-width="0.3">23.66</text>
<text transform="translate(991.5,397.0) scale(1.11,1)" font-size="10.6" fill="#2a2a2a" font-family="'DejaVu Sans', sans-serif" text-anchor="end" stroke="#2a2a2a" stroke-width="0.3">Q13_UR</text>
<text transform="translate(944.6,409.5) scale(1.11,1)" font-size="10.6" fill="#2a2a2a" font-family="'DejaVu Sans', sans-serif" stroke="#2a2a2a" stroke-width="0.3">0.42</text>
<text transform="translate(621.5,624.7) scale(1.11,1)" font-size="10.6" fill="#2a2a2a" font-family="'DejaVu Sans', sans-serif" stroke="#2a2a2a" stroke-width="0.3">Q13_LL</text>
<text transform="translate(621.5,637.5) scale(1.11,1)" font-size="10.6" fill="#2a2a2a" font-family="'DejaVu Sans', sans-serif" stroke="#2a2a2a" stroke-width="0.3">6.08</text>
<text transform="translate(991.5,624.7) scale(1.11,1)" font-size="10.6" fill="#2a2a2a" font-family="'DejaVu Sans', sans-serif" text-anchor="end" stroke="#2a2a2a" stroke-width="0.3">Q13_LR</text>
<text transform="translate(946.0,637.5) scale(1.11,1)" font-size="10.6" fill="#2a2a2a" font-family="'DejaVu Sans', sans-serif" stroke="#2a2a2a" stroke-width="0.3">69.84</text>
<text transform="translate(580.6,386.5) scale(1.1,1)" font-size="26.6" fill="#000" font-family="'Liberation Sans', sans-serif">D</text>
<text x="603.8" y="386.5" font-size="26.6" fill="#000" font-family="'Liberation Sans', sans-serif">)</text>
<text x="774.3" y="662.8" font-size="10.2" fill="#111" font-family="'DejaVu Sans', sans-serif" textLength="73.4" lengthAdjust="spacingAndGlyphs" stroke="#111" stroke-width="0.25">CD27 FITC-A</text>
<text transform="translate(598.5,562.0) rotate(-90)" font-size="13.7" fill="#111" font-family="'DejaVu Sans', sans-serif" textLength="98.7" lengthAdjust="spacingAndGlyphs" stroke="#111" stroke-width="0.25">CD19 PerCP-Cy5.5-A</text>
<text x="587.3" y="664.4" font-size="7.7" fill="#8a8a8a" font-family="'DejaVu Sans', sans-serif" textLength="47.0" lengthAdjust="spacingAndGlyphs">245, 103211</text>
<path d="M659.5 641v4M704.5 641v4M793.5 641v4M877.5 641v4M959.5 641v4M664.5 641v2M668.5 641v2M672.5 641v2M677.5 641v2M682.5 641v2M686.5 641v2M690.5 641v2M695.5 641v2M700.5 641v2M731.5 641v2M746.5 641v2M758.5 641v2M766.5 641v2M773.5 641v2M779.5 641v2M784.5 641v2M789.5 641v2M818.5 641v2M833.5 641v2M844.5 641v2M852.5 641v2M858.5 641v2M864.5 641v2M869.5 641v2M873.5 641v2M902.5 641v2M916.5 641v2M926.5 641v2M934.5 641v2M941.5 641v2M946.5 641v2M951.5 641v2M955.5 641v2M984.5 641v2M616 410.5h4M616 467.5h4M616 532.5h4M616 591.5h4M618 585.5h2M618 579.5h2M618 573.5h2M618 567.5h2M618 562.5h2M618 556.5h2M618 550.5h2M618 544.5h2M618 538.5h2M618 512.5h2M618 501.5h2M618 493.5h2M618 487.5h2M618 481.5h2M618 477.5h2M618 473.5h2M618 470.5h2M618 450.5h2M618 440.5h2M618 433.5h2M618 427.5h2M618 423.5h2M618 419.5h2M618 416.5h2M618 413.5h2M618 393.5h2M618 577.5h2M618 578.5h2M618 580.5h2M618 581.5h2M618 583.5h2M618 585.5h2M618 586.5h2M618 588.5h2M618 589.5h2M618 593.5h2M618 594.5h2M618 596.5h2M618 597.5h2M618 599.5h2M618 601.5h2M618 602.5h2M618 604.5h2M618 605.5h2" stroke="#b0b0b0" stroke-width="1" fill="none"/>
<text transform="translate(659.0,651.0) scale(1.15,1)" font-size="7" fill="#111" font-family="'DejaVu Sans', sans-serif" text-anchor="middle" stroke="#111" stroke-width="0.35">0</text>
<text transform="translate(704.0,651.0) scale(1.15,1)" font-size="7" fill="#111" font-family="'DejaVu Sans', sans-serif" text-anchor="middle" stroke="#111" stroke-width="0.35">10<tspan font-size="6" dy="-3.2">2</tspan></text>
<text transform="translate(793.0,651.0) scale(1.15,1)" font-size="7" fill="#111" font-family="'DejaVu Sans', sans-serif" text-anchor="middle" stroke="#111" stroke-width="0.35">10<tspan font-size="6" dy="-3.2">3</tspan></text>
<text transform="translate(877.0,651.0) scale(1.15,1)" font-size="7" fill="#111" font-family="'DejaVu Sans', sans-serif" text-anchor="middle" stroke="#111" stroke-width="0.35">10<tspan font-size="6" dy="-3.2">4</tspan></text>
<text transform="translate(959.0,651.0) scale(1.15,1)" font-size="7" fill="#111" font-family="'DejaVu Sans', sans-serif" text-anchor="middle" stroke="#111" stroke-width="0.35">10<tspan font-size="6" dy="-3.2">5</tspan></text>
<text transform="translate(621.5,413.5) scale(1.15,1)" font-size="7" fill="#111" font-family="'DejaVu Sans', sans-serif" text-anchor="end" stroke="#111" stroke-width="0.35">10<tspan font-size="6" dy="-3.2">5</tspan></text>
<text transform="translate(621.5,470.5) scale(1.15,1)" font-size="7" fill="#111" font-family="'DejaVu Sans', sans-serif" text-anchor="end" stroke="#111" stroke-width="0.35">10<tspan font-size="6" dy="-3.2">4</tspan></text>
<text transform="translate(621.5,535.5) scale(1.15,1)" font-size="7" fill="#111" font-family="'DejaVu Sans', sans-serif" text-anchor="end" stroke="#111" stroke-width="0.35">10<tspan font-size="6" dy="-3.2">3</tspan></text>
<text transform="translate(615.0,594.5) scale(1.15,1)" font-size="7" fill="#111" font-family="'DejaVu Sans', sans-serif" text-anchor="end" stroke="#111" stroke-width="0.35">0</text>
<rect x="190.5" y="683.5" width="369" height="254" fill="none" stroke="#a0a0a0" stroke-width="1"/>
<path d="M355.5 684V937" stroke="#000" stroke-width="1.2" fill="none"/>
<path d="M191 833.5H559" stroke="#000" stroke-width="1.1" fill="none"/>
<text transform="translate(191.5,695.0) scale(1.11,1)" font-size="10.6" fill="#2a2a2a" font-family="'DejaVu Sans', sans-serif" stroke="#2a2a2a" stroke-width="0.3">Q17_UL</text>
<text transform="translate(191.5,707.5) scale(1.11,1)" font-size="10.6" fill="#2a2a2a" font-family="'DejaVu Sans', sans-serif" stroke="#2a2a2a" stroke-width="0.3">27.36</text>
<text transform="translate(559.5,695.0) scale(1.11,1)" font-size="10.6" fill="#2a2a2a" font-family="'DejaVu Sans', sans-serif" text-anchor="end" stroke="#2a2a2a" stroke-width="0.3">Q17_UR</text>
<text transform="translate(512.6,707.5) scale(1.11,1)" font-size="10.6" fill="#2a2a2a" font-family="'DejaVu Sans', sans-serif" stroke="#2a2a2a" stroke-width="0.3">0.02</text>
<text transform="translate(191.5,921.7) scale(1.11,1)" font-size="10.6" fill="#2a2a2a" font-family="'DejaVu Sans', sans-serif" stroke="#2a2a2a" stroke-width="0.3">Q17_LL</text>
<text transform="translate(191.5,934.5) scale(1.11,1)" font-size="10.6" fill="#2a2a2a" font-family="'DejaVu Sans', sans-serif" stroke="#2a2a2a" stroke-width="0.3">72.04</text>
<text transform="translate(559.5,921.7) scale(1.11,1)" font-size="10.6" fill="#2a2a2a" font-family="'DejaVu Sans', sans-serif" text-anchor="end" stroke="#2a2a2a" stroke-width="0.3">Q17_LR</text>
<text transform="translate(514.0,934.5) scale(1.11,1)" font-size="10.6" fill="#2a2a2a" font-family="'DejaVu Sans', sans-serif" stroke="#2a2a2a" stroke-width="0.3">0.58</text>
<text transform="translate(148.0,686.9) scale(0.87,1)" font-size="26.6" fill="#000" font-family="'Liberation Sans', sans-serif">E</text>
<text x="166.9" y="686.9" font-size="26.6" fill="#000" font-family="'Liberation Sans', sans-serif">)</text>
<text x="349.1" y="960.7" font-size="10.2" fill="#111" font-family="'DejaVu Sans', sans-serif" textLength="60.8" lengthAdjust="spacingAndGlyphs" stroke="#111" stroke-width="0.25">CD56 PE-A</text>
<text transform="translate(169.0,837.6) rotate(-90)" font-size="13.7" fill="#111" font-family="'DejaVu Sans', sans-serif" textLength="54.8" lengthAdjust="spacingAndGlyphs" stroke="#111" stroke-width="0.25">CD3 FITC-A</text>
<text x="156.3" y="961.4" font-size="7.7" fill="#8a8a8a" font-family="'DejaVu Sans', sans-serif" textLength="48.0" lengthAdjust="spacingAndGlyphs">32410, 1134</text>
<path d="M221.5 938v4M245.5 938v4M272.5 938v4M358.5 938v4M446.5 938v4M528.5 938v4M223.5 938v2M226.5 938v2M228.5 938v2M231.5 938v2M233.5 938v2M235.5 938v2M238.5 938v2M240.5 938v2M243.5 938v2M248.5 938v2M250.5 938v2M253.5 938v2M256.5 938v2M258.5 938v2M261.5 938v2M264.5 938v2M267.5 938v2M269.5 938v2M298.5 938v2M313.5 938v2M324.5 938v2M332.5 938v2M339.5 938v2M345.5 938v2M350.5 938v2M354.5 938v2M384.5 938v2M400.5 938v2M411.5 938v2M420.5 938v2M426.5 938v2M432.5 938v2M437.5 938v2M442.5 938v2M471.5 938v2M485.5 938v2M495.5 938v2M503.5 938v2M510.5 938v2M515.5 938v2M520.5 938v2M524.5 938v2M553.5 938v2M186 708.5h4M186 764.5h4M186 822.5h4M186 882.5h4M186 908.5h4M186 934.5h4M188 931.5h2M188 929.5h2M188 926.5h2M188 924.5h2M188 921.5h2M188 918.5h2M188 916.5h2M188 913.5h2M188 911.5h2M188 905.5h2M188 903.5h2M188 900.5h2M188 898.5h2M188 895.5h2M188 892.5h2M188 890.5h2M188 887.5h2M188 885.5h2M188 864.5h2M188 853.5h2M188 846.5h2M188 840.5h2M188 835.5h2M188 831.5h2M188 828.5h2M188 825.5h2M188 805.5h2M188 794.5h2M188 787.5h2M188 781.5h2M188 777.5h2M188 773.5h2M188 770.5h2M188 767.5h2M188 747.5h2M188 737.5h2M188 730.5h2M188 725.5h2M188 720.5h2M188 717.5h2M188 713.5h2M188 711.5h2M188 691.5h2" stroke="#b0b0b0" stroke-width="1" fill="none"/>
<text transform="translate(221.0,948.0) scale(1.15,1)" font-size="7" fill="#111" font-family="'DejaVu Sans', sans-serif" text-anchor="middle" stroke="#111" stroke-width="0.35">-10<tspan font-size="6" dy="-3.2">2</tspan></text>
<text transform="translate(245.0,948.0) scale(1.15,1)" font-size="7" fill="#111" font-family="'DejaVu Sans', sans-serif" text-anchor="middle" stroke="#111" stroke-width="0.35">0</text>
<text transform="translate(272.0,948.0) scale(1.15,1)" font-size="7" fill="#111" font-family="'DejaVu Sans', sans-serif" text-anchor="middle" stroke="#111" stroke-width="0.35">10<tspan font-size="6" dy="-3.2">2</tspan></text>
<text transform="translate(358.0,948.0) scale(1.15,1)" font-size="7" fill="#111" font-family="'DejaVu Sans', sans-serif" text-anchor="middle" stroke="#111" stroke-width="0.35">10<tspan font-size="6" dy="-3.2">3</tspan></text>
<text transform="translate(446.0,948.0) scale(1.15,1)" font-size="7" fill="#111" font-family="'DejaVu Sans', sans-serif" text-anchor="middle" stroke="#111" stroke-width="0.35">10<tspan font-size="6" dy="-3.2">4</tspan></text>
<text transform="translate(528.0,948.0) scale(1.15,1)" font-size="7" fill="#111" font-family="'DejaVu Sans', sans-serif" text-anchor="middle" stroke="#111" stroke-width="0.35">10<tspan font-size="6" dy="-3.2">5</tspan></text>
<text transform="translate(191.5,711.5) scale(1.15,1)" font-size="7" fill="#111" font-family="'DejaVu Sans', sans-serif" text-anchor="end" stroke="#111" stroke-width="0.35">10<tspan font-size="6" dy="-3.2">5</tspan></text>
<text transform="translate(191.5,767.5) scale(1.15,1)" font-size="7" fill="#111" font-family="'DejaVu Sans', sans-serif" text-anchor="end" stroke="#111" stroke-width="0.35">10<tspan font-size="6" dy="-3.2">4</tspan></text>
<text transform="translate(191.5,825.5) scale(1.15,1)" font-size="7" fill="#111" font-family="'DejaVu Sans', sans-serif" text-anchor="end" stroke="#111" stroke-width="0.35">10<tspan font-size="6" dy="-3.2">3</tspan></text>
<text transform="translate(191.5,885.5) scale(1.15,1)" font-size="7" fill="#111" font-family="'DejaVu Sans', sans-serif" text-anchor="end" stroke="#111" stroke-width="0.35">10<tspan font-size="6" dy="-3.2">2</tspan></text>
<text transform="translate(185.0,911.5) scale(1.15,1)" font-size="7" fill="#111" font-family="'DejaVu Sans', sans-serif" text-anchor="end" stroke="#111" stroke-width="0.35">0</text>
<text transform="translate(191.5,937.5) scale(1.15,1)" font-size="7" fill="#111" font-family="'DejaVu Sans', sans-serif" text-anchor="end" stroke="#111" stroke-width="0.35">-10<tspan font-size="6" dy="-3.2">2</tspan></text>
<rect x="624.5" y="682.5" width="368" height="258" fill="none" stroke="#a0a0a0" stroke-width="1"/>
<text transform="translate(588.0,689.7) scale(0.92,1)" font-size="26.6" fill="#000" font-family="'Liberation Sans', sans-serif">F</text>
<text x="606.1" y="689.7" font-size="26.6" fill="#000" font-family="'Liberation Sans', sans-serif">)</text>
<text x="780.4" y="961.0" font-size="10.2" fill="#111" font-family="'DejaVu Sans', sans-serif" textLength="66.0" lengthAdjust="spacingAndGlyphs" stroke="#111" stroke-width="0.25">CD56 PE-A</text>
<text transform="translate(601.0,859.3) rotate(-90)" font-size="13.7" fill="#111" font-family="'DejaVu Sans', sans-serif" textLength="96.7" lengthAdjust="spacingAndGlyphs" stroke="#111" stroke-width="0.25">CD16 PerCP-Cy5.5-A</text>
<text x="587.3" y="962.6" font-size="7.7" fill="#8a8a8a" font-family="'DejaVu Sans', sans-serif" textLength="42.0" lengthAdjust="spacingAndGlyphs">59, 29700</text>
<path d="M660.5 941v4M681.5 941v4M706.5 941v4M792.5 941v4M879.5 941v4M962.5 941v4M662.5 941v2M664.5 941v2M666.5 941v2M668.5 941v2M670.5 941v2M673.5 941v2M675.5 941v2M677.5 941v2M679.5 941v2M684.5 941v2M686.5 941v2M688.5 941v2M691.5 941v2M694.5 941v2M696.5 941v2M698.5 941v2M701.5 941v2M704.5 941v2M732.5 941v2M747.5 941v2M758.5 941v2M766.5 941v2M773.5 941v2M779.5 941v2M784.5 941v2M788.5 941v2M818.5 941v2M834.5 941v2M844.5 941v2M853.5 941v2M860.5 941v2M866.5 941v2M871.5 941v2M875.5 941v2M904.5 941v2M919.5 941v2M929.5 941v2M937.5 941v2M944.5 941v2M949.5 941v2M954.5 941v2M958.5 941v2M987.5 941v2M620 706.5h4M620 765.5h4M620 825.5h4M620 883.5h4M620 897.5h4M620 911.5h4M622 910.5h2M622 908.5h2M622 907.5h2M622 905.5h2M622 904.5h2M622 903.5h2M622 901.5h2M622 900.5h2M622 898.5h2M622 896.5h2M622 894.5h2M622 893.5h2M622 891.5h2M622 890.5h2M622 889.5h2M622 887.5h2M622 886.5h2M622 884.5h2M622 866.5h2M622 855.5h2M622 848.5h2M622 842.5h2M622 838.5h2M622 834.5h2M622 831.5h2M622 828.5h2M622 807.5h2M622 796.5h2M622 789.5h2M622 783.5h2M622 778.5h2M622 774.5h2M622 771.5h2M622 768.5h2M622 747.5h2M622 737.5h2M622 729.5h2M622 724.5h2M622 719.5h2M622 715.5h2M622 712.5h2M622 709.5h2M622 688.5h2" stroke="#b0b0b0" stroke-width="1" fill="none"/>
<text transform="translate(660.0,951.0) scale(1.15,1)" font-size="7" fill="#111" font-family="'DejaVu Sans', sans-serif" text-anchor="middle" stroke="#111" stroke-width="0.35">-10<tspan font-size="6" dy="-3.2">2</tspan></text>
<text transform="translate(681.0,951.0) scale(1.15,1)" font-size="7" fill="#111" font-family="'DejaVu Sans', sans-serif" text-anchor="middle" stroke="#111" stroke-width="0.35">0</text>
<text transform="translate(706.0,951.0) scale(1.15,1)" font-size="7" fill="#111" font-family="'DejaVu Sans', sans-serif" text-anchor="middle" stroke="#111" stroke-width="0.35">10<tspan font-size="6" dy="-3.2">2</tspan></text>
<text transform="translate(792.0,951.0) scale(1.15,1)" font-size="7" fill="#111" font-family="'DejaVu Sans', sans-serif" text-anchor="middle" stroke="#111" stroke-width="0.35">10<tspan font-size="6" dy="-3.2">3</tspan></text>
<text transform="translate(879.0,951.0) scale(1.15,1)" font-size="7" fill="#111" font-family="'DejaVu Sans', sans-serif" text-anchor="middle" stroke="#111" stroke-width="0.35">10<tspan font-size="6" dy="-3.2">4</tspan></text>
<text transform="translate(962.0,951.0) scale(1.15,1)" font-size="7" fill="#111" font-family="'DejaVu Sans', sans-serif" text-anchor="middle" stroke="#111" stroke-width="0.35">10<tspan font-size="6" dy="-3.2">5</tspan></text>
<text transform="translate(625.5,709.5) scale(1.15,1)" font-size="7" fill="#111" font-family="'DejaVu Sans', sans-serif" text-anchor="end" stroke="#111" stroke-width="0.35">10<tspan font-size="6" dy="-3.2">5</tspan></text>
<text transform="translate(625.5,768.5) scale(1.15,1)" font-size="7" fill="#111" font-family="'DejaVu Sans', sans-serif" text-anchor="end" stroke="#111" stroke-width="0.35">10<tspan font-size="6" dy="-3.2">4</tspan></text>
<text transform="translate(625.5,828.5) scale(1.15,1)" font-size="7" fill="#111" font-family="'DejaVu Sans', sans-serif" text-anchor="end" stroke="#111" stroke-width="0.35">10<tspan font-size="6" dy="-3.2">3</tspan></text>
<text transform="translate(625.5,886.5) scale(1.15,1)" font-size="7" fill="#111" font-family="'DejaVu Sans', sans-serif" text-anchor="end" stroke="#111" stroke-width="0.35">10<tspan font-size="6" dy="-3.2">2</tspan></text>
<text transform="translate(619.0,900.5) scale(1.15,1)" font-size="7" fill="#111" font-family="'DejaVu Sans', sans-serif" text-anchor="end" stroke="#111" stroke-width="0.35">0</text>
<text transform="translate(625.5,914.5) scale(1.15,1)" font-size="7" fill="#111" font-family="'DejaVu Sans', sans-serif" text-anchor="end" stroke="#111" stroke-width="0.35">-10<tspan font-size="6" dy="-3.2">2</tspan></text>
<rect x="737.3" y="693.3" width="81.5" height="37.5" fill="none" stroke="#000" stroke-width="2.6"/>
<text x="847.5" y="718.0" font-size="15" fill="#222" font-family="'DejaVu Sans', sans-serif">0,2%</text>
<path d="M348 66.5h8M360.5 681.5h8.5" stroke="#000" stroke-width="1.2"/>
</g></svg>
<div class="cap" style="top:1002.8px;letter-spacing:.27px"><b>Figure 1:</b> Immunophenotyping analyses of the fetus in the 29<sup>th</sup> week: A) Lymphocyte gate, B) T cell CD<sup>28+,</sup> CD<sup>3+</sup>, C) TCD<sup>4+</sup> and TCD<sup>8+</sup>, D) B cell (CD<sup>19+</sup>) and B memory</div>
<div class="cap" style="top:1020.4px;letter-spacing:.23px">(CD<sup>19+</sup>/CD<sup>27+</sup>), E) NKT cells (CD<sup>3+</sup>/CD<sup>56+</sup>), F) NK cells (CD<sup>16+</sup>/CD<sup>56+</sup>/CD<sup>3-</sup>/CD<sup>3+</sup>).</div>
</body></html>
